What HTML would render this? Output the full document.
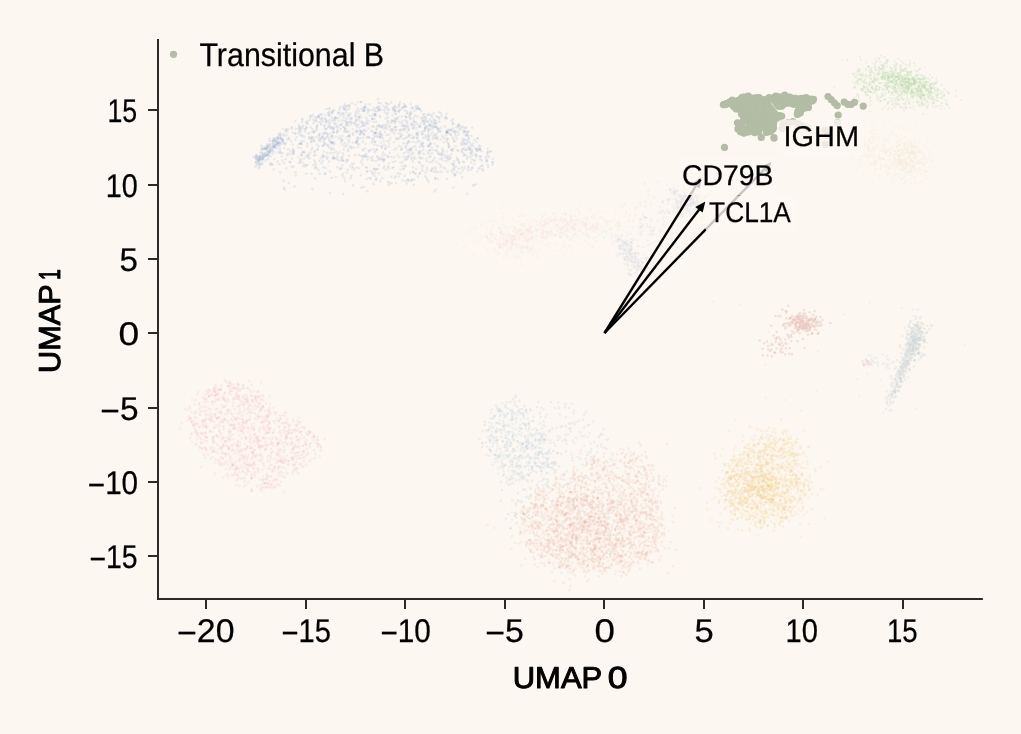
<!DOCTYPE html>
<html lang="en"><head><meta charset="utf-8"><title>UMAP – Transitional B</title>
<style>html,body{margin:0;padding:0;background:#fcf8f1;overflow:hidden}svg{display:block}text{font-family:'Liberation Sans', sans-serif;fill:#000;text-rendering:geometricPrecision;stroke:#000;stroke-width:.25px}</style></head><body>
<svg width="1021" height="734" viewBox="0 0 1021 734">
<rect width="1021" height="734" fill="#fcf8f1"/>
<g fill="none" stroke="#6f93cc" stroke-opacity="0.15" stroke-width="2.60" stroke-linecap="round">
<path d="M357.9 147.1h.01M383.4 105.9h.01M369.6 115.7h.01M428.8 153.6h.01M288.8 182.8h.01M324.9 138.6h.01M364 130.5h.01M309 137.4h.01M270.5 156.6h.01M453.4 165h.01M324.8 173.9h.01M331.7 149.5h.01M402.7 129.4h.01M422.6 121.3h.01M372.8 118.9h.01M428.5 129.5h.01M423.4 137.9h.01M259.4 155.9h.01M446.9 132.6h.01M265.7 149.5h.01M400.7 136.7h.01M399.4 138.7h.01M315.2 162.7h.01M261.3 145.8h.01M432.9 168.3h.01M444.8 138.3h.01M480.2 168.1h.01M410.2 172.6h.01M347.1 131.8h.01M462.8 126.7h.01M488.2 167.3h.01M436.8 150.4h.01M292.5 132.6h.01M321.6 114.2h.01M395.9 114h.01M335.4 117.2h.01M427.5 180h.01M406.3 106.8h.01M335.5 123.6h.01M323 133.8h.01M428.6 153.8h.01M348.1 151h.01M418.3 133.5h.01M407.9 180h.01M446.4 113.9h.01M365.1 155.8h.01M328.4 115.5h.01M419.9 109.4h.01M419.6 173.7h.01M273.9 146.7h.01M357.6 108.4h.01M422.6 143.5h.01M410 148.8h.01M287.4 139.2h.01M403.9 125.5h.01M380 133.2h.01M361.2 108.8h.01M406.4 151.9h.01M290.3 151.2h.01M262.2 158.9h.01M451.4 149.6h.01M339 113.1h.01M446.8 118.8h.01M345.9 112.5h.01M339.2 113.7h.01M400.7 109.6h.01M430.1 144.5h.01M374.9 141.9h.01M421.4 111.1h.01M299.3 163.1h.01M438.2 152.3h.01M404.6 165.5h.01M360.1 134.8h.01M376.3 178.7h.01M317.8 150h.01M417.2 138.5h.01M256.7 156.1h.01M413 172.1h.01M385.7 118.5h.01M429.8 150.3h.01M295.4 134h.01M487.1 160.2h.01M327.9 145.6h.01M305 166.5h.01M299.9 143.5h.01M263.5 156.5h.01M292.1 154.3h.01M279.2 146.3h.01M426.9 170h.01M441.9 158.2h.01M396.6 130.1h.01M417.8 132.3h.01M417.3 124.5h.01M344.3 178.1h.01M376.3 132.8h.01M365.2 108.1h.01M387.9 156.6h.01M298.1 147.5h.01M307.2 143.7h.01M407.7 149.4h.01M433.4 160.1h.01M468.4 167.9h.01M367.1 119.7h.01M476.2 157.3h.01M267.3 155.2h.01M480.5 146h.01M350.4 178.3h.01M330.1 133.5h.01M492.9 158.7h.01M426.6 161.3h.01M330.7 142.1h.01M402.4 107.5h.01M281.1 142.5h.01M382.3 178.1h.01M360.3 130.5h.01M324.6 125.1h.01M349.1 108.8h.01M320.3 141.3h.01M301.5 155.1h.01M419 126.5h.01M339.5 152.4h.01M492.4 162.7h.01M423.6 153.9h.01M338.6 121h.01M385.3 148.8h.01M278.5 138.7h.01M363 125.9h.01M336.9 132.7h.01M364.3 134.9h.01M393.9 142.3h.01M356.2 119.6h.01M475.5 155.6h.01M372.3 139h.01M447 179h.01M468.4 131.1h.01M306.7 127.1h.01M312.3 148h.01M359.3 120.6h.01M400.6 169.6h.01M284.1 187.8h.01M343.4 114.9h.01M429.5 157.2h.01M344.4 131.7h.01M355.9 115.8h.01M257.8 158.7h.01M349 122.3h.01M438.4 172.2h.01M416.3 108.6h.01M345.2 128.3h.01M405.8 129h.01M338.4 113.2h.01M396.1 120.8h.01M458.7 132.2h.01M455.8 166.8h.01M453 119.2h.01M459.3 163.1h.01M304.5 152h.01M259.1 158.7h.01M469.6 148.6h.01M414.2 157h.01"/>
<path d="M345.8 120.8h.01M431.6 127.3h.01M422.5 170.9h.01M323.1 121.5h.01M442.5 154h.01M290.4 162.5h.01M367.7 156.3h.01M434.5 158h.01M418 176.4h.01M430 162.1h.01M263.9 148h.01M356.3 142.8h.01M330.6 137h.01M381.8 159.4h.01M447.2 139h.01M337.8 159.5h.01M280.4 172.3h.01M322 118.4h.01M348.9 156h.01M328.4 125.8h.01M333.3 128.6h.01M437.4 117h.01M274.7 152.3h.01M364.9 110.7h.01M311.6 149.7h.01M450 159.1h.01M294.4 186.6h.01M273.2 144.5h.01M364.6 157.3h.01M467.1 193.8h.01M436.2 138.3h.01M461.7 126.9h.01M354.4 123.3h.01M387.2 109.6h.01M266.6 146.5h.01M417.8 106.5h.01M311.4 116.5h.01M351.5 147h.01M345 131.5h.01M428 130.7h.01M377.4 136.9h.01M477.1 138.3h.01M425.8 137.2h.01M472.3 152.8h.01M379.8 137.6h.01M280.1 135.6h.01M266.9 154.9h.01M428.4 128.6h.01M308.2 153.9h.01M255.6 157.1h.01M375.4 132.8h.01M330 108.3h.01M375.6 115.7h.01M403.6 143.3h.01M289 137.7h.01M349.5 118h.01M332.8 119.1h.01M270.5 163.4h.01M312.9 115.3h.01M299.8 161.8h.01M450.9 130.3h.01M265.2 153.3h.01M364.3 129.9h.01M352.7 133h.01M309.8 119.8h.01M430.2 143.7h.01M351.4 118.6h.01M335.8 177h.01M326 122.5h.01M347.8 169.7h.01M404.4 106.7h.01M485.5 157.9h.01M422.7 120.5h.01M350.5 113.5h.01M301.8 122.1h.01M431.6 170.4h.01M410.2 114h.01M472.4 167.4h.01M439.5 154.4h.01M425.8 117.4h.01M407.8 179.9h.01M447.5 155.8h.01M352.4 122.9h.01M439 118.6h.01M399.5 157h.01M451.8 163.9h.01M382.4 146.1h.01M275.3 141h.01M409 129.5h.01M372.3 119.3h.01M274 147.2h.01M453.6 165.3h.01M446 132.5h.01M373.3 160.4h.01M441.2 171.7h.01M319.9 134h.01M284.7 189.5h.01M266.8 148.6h.01M332.8 137.9h.01M426.1 126.6h.01M327.5 134h.01M384.2 129h.01M364.5 107.1h.01M272.6 151.1h.01M282.7 128.8h.01M304.7 129h.01M380.8 131.4h.01M266.5 148.4h.01M474 185.3h.01M280.6 133.9h.01M457.8 125h.01M437.4 145.7h.01M302.5 120.1h.01M385.2 124.8h.01M475.3 154.6h.01M331 127.1h.01M379.4 110.7h.01M435 127h.01M393.4 108.6h.01M420.2 126.4h.01M418.9 109h.01M285.9 129.6h.01M446 135.3h.01M320.8 157.9h.01M375.9 179.9h.01M421.2 151.5h.01M451.6 120.9h.01M411.6 180.5h.01M329.8 127.2h.01M461.8 150h.01M346.2 107.3h.01M415.4 146.4h.01M268.6 152.5h.01M379.1 173.6h.01M258.8 168.1h.01M417.4 116.6h.01M376.9 169.2h.01M382.9 125.2h.01M261.5 164.1h.01M477.1 150.1h.01M323.1 155.6h.01M399.3 146h.01M329.6 140.9h.01M334.3 119.6h.01M473.3 143.6h.01M387.5 124.1h.01M428.2 145.9h.01M389.1 140.4h.01M317 144.6h.01M429.7 119.3h.01M261.4 149.8h.01M299.4 131.7h.01M423.4 131.9h.01M309 155.1h.01M282.3 140.5h.01M439.9 159h.01M259.9 158.2h.01M273 141.2h.01M447.9 142.8h.01M333.4 158.2h.01"/>
<path d="M444.8 118.2h.01M280.2 153h.01M329.8 123.3h.01M433.6 119.4h.01M304.1 164.5h.01M330.5 113.8h.01M473.5 160h.01M442.5 148.5h.01M449.6 156.5h.01M332.2 142h.01M269 155.9h.01M448.8 129.8h.01M342.7 160.9h.01M437.8 179h.01M441.2 127.8h.01M329.8 125h.01M279.1 143.5h.01M457.4 171.9h.01M401.6 147.3h.01M337.5 131.4h.01M339.1 160.8h.01M377.7 157.5h.01M440.6 154.7h.01M406 146.1h.01M453.2 139.1h.01M313.2 137h.01M443.9 142.2h.01M299.1 144h.01M377.5 169h.01M411.9 179.4h.01M431.2 171.2h.01M480 149.5h.01M367 171.6h.01M317.7 148.7h.01M357 138.1h.01M314.1 155.7h.01M379.5 109.6h.01M363.9 110.6h.01M260.1 152.8h.01M314.9 151h.01M325.5 173.5h.01M360.9 132.1h.01M357 125.1h.01M366.3 153.8h.01M347 122.7h.01M352.6 142.5h.01M387.9 117.6h.01M381.6 109.7h.01M462.5 141.8h.01M381.7 127.4h.01M470.4 148h.01M413 152.5h.01M401.9 166h.01M319.4 160.9h.01M341.8 139.8h.01M408.7 136.8h.01M342.3 136.1h.01M428.4 132.9h.01M358 144.4h.01M301.8 152.9h.01M448.7 144.2h.01M325.2 156.8h.01M388.2 166.4h.01M277.9 142.7h.01M333 132.1h.01M470.4 145.9h.01M351.3 121.9h.01M380.6 103.3h.01M408.2 126.9h.01M468.9 138.9h.01M275.7 139.9h.01M286.7 135.5h.01M316 137.1h.01M440 131.7h.01M322.4 136.6h.01M282.9 141.1h.01M414.3 121.3h.01M428.1 136.3h.01M446.2 117.5h.01M301.9 136.1h.01M405.3 120.2h.01M487.8 152.1h.01M405.1 116.2h.01M453.1 128.5h.01M361 175.3h.01M343 154.8h.01M466.1 144.2h.01M334.1 144.6h.01M334.5 142.9h.01M436.5 126.9h.01M316.9 128.9h.01M358.8 168.3h.01M422.3 168.3h.01M293.4 151.6h.01M409.8 118.2h.01M270.1 164.4h.01M289.2 139.2h.01M431.9 122.4h.01M295.7 175.6h.01M447.7 171.4h.01M464.4 131.5h.01M374.9 111.1h.01M447.2 151.5h.01M373.6 114.6h.01M328.5 113.3h.01M463 149.3h.01M355.9 124.7h.01M261.7 148.1h.01M357 141.9h.01M342.9 153.3h.01M264.9 153.9h.01M291.7 166.4h.01M353 134.9h.01M335.1 118.2h.01M382.5 138.3h.01M331.9 135.7h.01M451.5 171.1h.01M414.3 110.9h.01M339.7 109.4h.01M400.5 162.7h.01M465.7 134.6h.01M406.9 144.4h.01M426.8 178.1h.01M283.5 134.1h.01M347.7 116h.01M332.8 127.3h.01M311.9 131.8h.01M395 123.3h.01M302.1 119h.01M467 159.1h.01M372.5 141h.01M427.6 138.6h.01M408 141.9h.01M474.4 139.9h.01M417 134.6h.01M454.3 170.1h.01M300.3 127.7h.01M456.7 127.3h.01M358.9 118.4h.01M425.1 121.7h.01M332.7 112.3h.01M453.8 141.4h.01M422.6 118.4h.01M419.8 153.6h.01M343.1 126.8h.01M379.2 126.6h.01M363.8 187h.01M472.1 150.6h.01M407.3 144.2h.01M362.5 159.5h.01M291.8 127.1h.01M283.4 141.3h.01M431 125.8h.01M373.6 110.2h.01M329.4 111.4h.01M317 126h.01M394.1 157.2h.01M408.7 135h.01M258.4 160.4h.01M356.5 131.1h.01"/>
<path d="M384.2 144.4h.01M383.7 161.4h.01M419.7 162.9h.01M406.4 117.4h.01M326.5 121.2h.01M454.6 175.8h.01M467.9 132.2h.01M388.5 104.3h.01M385.5 127.6h.01M453.4 163.3h.01M468.4 142h.01M366.1 117.6h.01M325.1 144h.01M337.8 130.5h.01M448.9 145.5h.01M373.6 168.9h.01M333.3 153h.01M265.1 148.6h.01M280.7 138.3h.01M473.4 146.3h.01M428.6 135.2h.01M309.3 138.8h.01M312.1 138.1h.01M365.5 104.6h.01M474.3 164.1h.01M385.2 154.8h.01M292.9 149h.01M411 118.8h.01M354.2 169.6h.01M413.4 171.5h.01M375.1 113.9h.01M261.9 152.6h.01M341 138.4h.01M269.8 141h.01M417.1 137.7h.01M358.4 124.5h.01M331.3 147.9h.01M348 139.8h.01M344.8 104.6h.01M299.6 128.7h.01M291.3 141.4h.01M326.2 129h.01M419.3 151.5h.01M276.3 144.5h.01M422.6 134.2h.01M349.6 137.1h.01M263.7 158.1h.01M475.3 148.8h.01M367.8 136.8h.01M481.7 151.2h.01M307.9 121.3h.01M439.3 121.7h.01M465.7 139.7h.01M382.2 134.7h.01M458.1 126.1h.01M265.3 155.1h.01M416.3 142.6h.01M432.7 128.4h.01M261.8 149.6h.01M458.4 135h.01M339.7 169.6h.01M392.5 115.3h.01M307.4 146.4h.01M296.5 137.2h.01M455 134.1h.01M260.6 156h.01M286.4 129.7h.01M258.7 160.6h.01M274.6 140.4h.01M275 145.4h.01M277.1 142.4h.01M357.6 140h.01M402.5 180.2h.01M465.5 150.1h.01M300.2 160.2h.01M402.1 135.3h.01M267.2 144.2h.01M461.8 167.8h.01M384.3 109.9h.01M315.9 167h.01M360.5 138.1h.01M320.8 138.3h.01M256 162.4h.01M313.4 119.6h.01M368.4 110.3h.01M395.9 126.7h.01M391.4 176.8h.01M413.4 128.8h.01M331.6 177.8h.01M282.9 139.8h.01M380.7 146h.01M378.1 108.6h.01M269.6 150.1h.01M434.3 123.4h.01M482.6 165.8h.01M349.1 140.3h.01M411 112.9h.01M339.4 136.3h.01M362.4 164.2h.01M373.9 126.8h.01M363.1 125.5h.01M374.8 118.8h.01M314.5 132.1h.01M379 106.7h.01M404.2 128.3h.01M337.2 131.2h.01M352.7 166.8h.01M460.7 129.4h.01M299.3 125.2h.01M435.4 178.4h.01M319.1 115.1h.01M398.4 107.3h.01M364.6 107.5h.01M411.6 148.3h.01M314 141.5h.01M371.7 142.8h.01M380.6 135.3h.01M362.2 156.1h.01M331.6 142.6h.01M403 125.5h.01M267.9 151.4h.01M394.8 118.5h.01M342.4 144.4h.01M437.6 136.7h.01M320.9 114.6h.01M271.6 150.4h.01M400.3 129.9h.01M324.2 126.6h.01M385.8 169.7h.01M398.7 176.5h.01M340.7 115.5h.01M277.9 143.9h.01M436.1 126.9h.01M419.7 141.2h.01M344.4 109.6h.01M425.4 128.7h.01M353 185.5h.01M424.5 120.4h.01M437 128.6h.01M263 157.3h.01M293.9 151.8h.01M332 112.3h.01M430.1 114.1h.01M398.9 104.9h.01M384.7 112.2h.01M436.5 137.7h.01M353.7 163.7h.01M363.2 107.5h.01M408.9 152.9h.01M457.9 150.9h.01M458 159.9h.01M320.8 123.2h.01M356.9 141.1h.01M285.7 143.3h.01M447.3 157.3h.01M335.9 136.7h.01M337.5 156.6h.01M327 158.9h.01M295.8 128.7h.01M386.9 128.8h.01"/>
<path d="M398.7 133.2h.01M301.4 141.2h.01M355.8 121.4h.01M307.8 123.6h.01M463.1 129.7h.01M334 158.4h.01M400.6 136.4h.01M403.5 104.1h.01M440.6 139.7h.01M406.2 116.8h.01M347.1 144.7h.01M362.7 110.9h.01M392.7 130.7h.01M314.5 152.2h.01M431.4 115.8h.01M445.1 157.8h.01M383.9 141h.01M401.6 123.1h.01M395.6 110.7h.01M279.2 142.7h.01M395.1 130h.01M404.8 159.6h.01M465.8 135.8h.01M341.3 160.2h.01M416 150h.01M287.2 155.6h.01M399.7 110.3h.01M394.8 177.9h.01M341 141.9h.01M313.4 123.1h.01M273.7 169.5h.01M403.7 153.3h.01M344.3 126.9h.01M315.2 178.5h.01M333.5 156.5h.01M343.8 107.9h.01M468.3 166.6h.01M406.9 111h.01M402.3 120.9h.01M425.6 119.4h.01M432.3 132.3h.01M329.4 115.6h.01M428.5 139.5h.01M463.1 161.8h.01M454.4 161.1h.01M274.9 144.4h.01M478.9 145.6h.01M295.1 121.1h.01M467.9 136.5h.01M306.2 173.8h.01M372.5 156.9h.01M308.1 157.5h.01M415 158.8h.01M393.2 129.6h.01M301 134.1h.01M479.6 148.2h.01M295.1 133h.01M274 144h.01M436.1 121.1h.01M355.7 142.9h.01M266.1 148.7h.01M447 132.2h.01M451.7 150.1h.01M348.9 142.2h.01M412.7 127.9h.01M481.4 165.7h.01M394.5 133.4h.01M404 106.9h.01M316.5 117.6h.01M284.1 163.1h.01M465.9 127.5h.01M346.8 172.6h.01M269.7 144.1h.01M404.8 104.7h.01M378.7 165.1h.01M425.3 117.3h.01M267.2 145.2h.01M450.6 134.6h.01M363.5 150.4h.01M392.9 108.4h.01M274.7 147.1h.01M425.4 127h.01M489 156.6h.01M256.3 155.2h.01M305.4 129.6h.01M261.6 157.7h.01M347 105.7h.01M378.7 125.1h.01M471.2 136h.01M267.1 155.2h.01M405.2 125.6h.01M354.8 123h.01M435.3 167h.01M389.4 127.1h.01M404.1 168.4h.01M470.6 170h.01M379.7 136.2h.01M374.9 141.9h.01M416.7 109.1h.01M356.5 167.5h.01M490.4 151.8h.01M414.9 115.9h.01M468.7 138.2h.01M301.7 155.3h.01M388.9 134.6h.01M361.9 131.9h.01M418.5 153.8h.01M454.5 141.2h.01M271.7 165h.01M284.2 135.6h.01M479.4 148.6h.01M280.5 138.2h.01M255.7 156.4h.01M431.7 153.4h.01M388.9 146.8h.01M313.9 131h.01M346.5 118.6h.01M474.9 161h.01M333.1 110.1h.01M396.4 118.7h.01M285 144.5h.01M463 152.8h.01M435.9 135.8h.01M443.4 151.6h.01M326.3 132.6h.01M346.9 123.9h.01M258.9 163.8h.01M330.9 143.6h.01M318.8 140.3h.01M340.7 128.9h.01M313.3 140.5h.01M341.7 113.3h.01M307.4 165.1h.01M408.8 140.9h.01M294.2 153.8h.01M429.3 136.7h.01M349 135.6h.01M359.6 131.3h.01M428.2 146.3h.01M391.6 129.6h.01M432.7 139h.01M343.7 149.5h.01M322.9 118.4h.01M355.3 132.1h.01M264.8 156.6h.01M346.5 145.8h.01M260.1 157.1h.01M367.5 171.3h.01M305.8 121.8h.01M391.3 156.8h.01M303.7 141.1h.01M380.2 180.9h.01M452.5 137.2h.01M359.1 128.1h.01M448.8 147.5h.01M362.9 133.6h.01M471.9 168.2h.01M292.9 144.8h.01M401.6 116.6h.01M463.3 140.6h.01"/>
<path d="M412.8 107.9h.01M410.5 112h.01M451.8 130.9h.01M442.1 135.7h.01M453.6 187.5h.01M410.9 149.8h.01M455.2 174.5h.01M376.7 129.7h.01M346.4 125.2h.01M361 102h.01M301 129.8h.01M308.1 133.6h.01M442.2 155.5h.01M410.9 155h.01M332 121.1h.01M392.8 162h.01M303.2 125.9h.01M327.8 134.6h.01M263 149.3h.01M291.9 158.5h.01M303.3 135.9h.01M450.8 134.7h.01M406.3 159.4h.01M421.8 144.8h.01M461.1 143.5h.01M344 121h.01M272.8 154.2h.01M467.5 141h.01M345.6 109.8h.01M301.7 143.7h.01M414.1 179.7h.01M366.4 167.1h.01M389.1 163.1h.01M374.8 115.6h.01M471.3 150.8h.01M456 136.1h.01M374.6 133.3h.01M360.9 156.2h.01M438.7 130.2h.01M342.8 160h.01M282.2 160.6h.01M400.1 174h.01M351.5 148.2h.01M344.7 129.6h.01M480.8 156.5h.01M273.7 143.2h.01M423.3 165.6h.01M452.9 124.1h.01M373.5 122.1h.01M325 115.3h.01M311.5 173.7h.01M268 146.6h.01M469.8 157h.01M259.4 159.9h.01M405.8 126.8h.01M487.8 149.1h.01M413.2 141.8h.01M465.2 131h.01M318.4 117.1h.01M330.9 128.4h.01M315.2 117h.01M415.7 106.4h.01M367.3 123h.01M256.9 160.9h.01M326.3 137h.01M347 109.8h.01M356.8 130.7h.01M367.3 191.2h.01M267.5 151.3h.01M440.3 131.1h.01M295.6 172.1h.01M418.8 162.1h.01M269.7 147h.01M433.2 136.8h.01M393.9 109.2h.01M358.2 113.1h.01M334 129.5h.01M338.4 118h.01M408.6 129.8h.01M413.5 146.9h.01M404.7 175.9h.01M436.3 171.4h.01M306.4 128h.01M438.6 163.8h.01M477.8 148.5h.01M374.5 169.2h.01M405.3 106.4h.01M451.1 129.6h.01M275.4 140.9h.01M375.2 114.9h.01M419.8 157.4h.01M321.5 163.3h.01M482.9 170.5h.01M373.5 138.7h.01M265.4 161h.01M401.2 149.5h.01M369.1 137.2h.01M439.5 129.8h.01M379.2 159.5h.01M419.9 173.1h.01M386.5 113.9h.01M372.3 172.9h.01M269.5 139.1h.01M269.1 145.5h.01M279.7 151.1h.01M406.7 137.3h.01M457.6 150h.01M341.4 157.6h.01M298.5 129.1h.01M439.3 112h.01M387.5 114.5h.01M389.5 182.8h.01M432.8 150.1h.01M295.2 139.8h.01M326.5 120.9h.01M457.4 159.7h.01M429.3 145.6h.01M369.1 151.4h.01M267.9 158.9h.01M440.5 167h.01M304.1 137.1h.01M402.6 108.2h.01M453.2 124h.01M309.1 133.4h.01M447.4 158.2h.01M411.5 157.9h.01M429.3 125.2h.01M377 126h.01M327.3 152.8h.01M362.8 141.5h.01M333.3 132.6h.01M352.4 168.3h.01M366.6 179h.01M266.6 148.2h.01M279.5 141.4h.01M405.3 181.1h.01M441.8 115.6h.01M377.5 145.6h.01M421.6 165.6h.01M349.4 115.6h.01M389 109.6h.01M358.2 112.2h.01M346.9 137h.01M361.8 122.4h.01M459.5 125.9h.01M431.3 134.6h.01M384.3 159.1h.01M480.1 150.3h.01M329.1 161.6h.01M324.7 128.7h.01M342.3 175.8h.01M278.6 135.1h.01M277.5 142.4h.01M337.2 125.6h.01M427.6 121.3h.01M369.4 178h.01M328.6 127h.01M299.9 135.2h.01M262.3 163.6h.01M265.7 160.2h.01"/>
<path d="M325.3 118.7h.01M385.8 102.7h.01M455.6 146.2h.01M427.7 114.7h.01M336.1 151.8h.01M384.2 159.7h.01M380.4 137.1h.01M346.6 122.5h.01M398.5 116.7h.01M467 134.9h.01M421.6 131.8h.01M342.8 106.7h.01M463.3 132.4h.01M259.4 166.9h.01M359.1 117.3h.01M424.5 114.4h.01M301 144.1h.01M303 151.7h.01M465.2 128.2h.01M342.4 140.4h.01M316.5 127.3h.01M440.8 113.1h.01M253.4 157h.01M347.3 160.1h.01M348.6 114.5h.01M440.7 165.2h.01M262.3 155.2h.01M365.3 123.8h.01M302.7 166.3h.01M306.6 123.6h.01M400 102.3h.01M328.4 113.4h.01M329.9 171.5h.01M382.1 136.8h.01M291.8 128.6h.01M351.8 163.9h.01M394.2 127.2h.01M348.5 105.4h.01M327.9 137.1h.01M311 141.2h.01M412.3 153.7h.01M388 181.9h.01M425.8 135.4h.01M259.9 165h.01M323.9 151.4h.01M386 126.9h.01M460.4 173.2h.01M276.7 144.6h.01M346.1 123.9h.01M341.8 168.5h.01M420.9 143.9h.01M382.7 155.6h.01M417 134.1h.01M277.3 148.5h.01M322.7 145.8h.01M255.2 166.4h.01M407.1 112.9h.01M427 167.7h.01M262.8 157.3h.01M276 142.4h.01M314.9 167.9h.01M281.1 152.6h.01M376.5 111.5h.01M256.1 162.6h.01M318.5 137.7h.01M409.1 150.4h.01M430 125.2h.01M323.1 167.2h.01M378.6 102.8h.01M289.2 153.9h.01M340.4 125.1h.01M385.1 132h.01M322.7 136.7h.01M287.5 153.8h.01M330.3 152.9h.01M394.7 110.6h.01M316.9 168.7h.01M458.8 168.7h.01M402.8 161.9h.01M445 126.4h.01M272.3 164h.01M332.8 128.5h.01M438.3 128.8h.01M470.1 143.3h.01M366.5 156.7h.01M286.3 168.2h.01M280.1 148.8h.01M365.2 106.8h.01M345 181.3h.01M332.2 135.7h.01M322.9 155.9h.01M413.6 118.2h.01M302.1 127.2h.01M368.2 111h.01M367.5 159.5h.01M355.6 113.4h.01M478 138.2h.01M357.5 132.8h.01M391.3 102.6h.01M413.8 137.4h.01M397.2 155h.01M334.5 120.6h.01M414.7 173.2h.01M360 134.1h.01M302.4 127.9h.01M324.3 132.7h.01M371.9 115.8h.01M466.6 149.9h.01M289.5 161.7h.01M270 151h.01M447.9 132.7h.01M455.4 131.3h.01M336.7 118.2h.01M337.5 154.1h.01M390.5 138.1h.01M328.9 139.4h.01M396.5 148h.01M302.3 162.4h.01M392.3 168.3h.01M374.8 137h.01M378 98.8h.01M477.3 171.5h.01M435.7 150.5h.01M476 149h.01M258 157.3h.01M420.4 123.7h.01M374.8 114.4h.01M313.3 165h.01M405.4 147.4h.01M414.2 136.4h.01M263.4 155.9h.01M398 138.6h.01M262.5 160.6h.01M371.3 130.8h.01M256.1 166.1h.01M398.6 111.3h.01M428.8 181.9h.01M424.6 124.4h.01M281.9 139.6h.01M327.4 144.7h.01M266.1 152.5h.01M461.4 151.8h.01M396.5 138.4h.01M273.5 140.2h.01M275.5 138h.01M367.7 108.9h.01M385.3 107.5h.01M266.1 155.8h.01M334.2 123.7h.01M350.1 146.3h.01M299.9 131h.01M258.5 160.8h.01M478.6 168.4h.01M356.8 126.6h.01M393.6 110.7h.01M463.6 143.1h.01M315.2 155h.01M435.2 178.2h.01M366 131.1h.01M355.4 116.2h.01"/>
<path d="M487.1 153.9h.01M363.5 110.4h.01M256.5 155h.01M448.6 159h.01M465.5 155.3h.01M312.5 188.9h.01M271.5 152.2h.01M315.9 164.6h.01M329.9 192.9h.01M361.3 131.4h.01M397.1 118.5h.01M468.1 135h.01M258.8 157h.01M281.1 144.5h.01M386.7 106.9h.01M454.5 131.2h.01M260.3 156.6h.01M411.7 138.1h.01M479.8 149h.01M361.1 117.3h.01M398 173.3h.01M411.1 124.4h.01M274.8 147.8h.01M486.4 160.3h.01M422 134.2h.01M340.6 168.1h.01M381.1 142.8h.01M424.8 130.8h.01M324.8 133.5h.01M380.1 117.1h.01M411.2 135.1h.01M407 125.7h.01M406.9 183.4h.01M400.9 133.6h.01M420 146.9h.01M277.4 144.2h.01M318.9 134.8h.01M410.7 104.2h.01M425.2 176.4h.01M430.1 129.8h.01M369.5 137.8h.01M335.4 117.7h.01M487.7 165.1h.01M275.7 145.2h.01M363.1 137.8h.01M392 121.1h.01M443.2 167.2h.01M322.9 138.8h.01M285.6 131.6h.01M463.9 145h.01M388.7 168.4h.01M306 165.4h.01M369.4 121.2h.01M409.2 135.4h.01M323 145.8h.01M417.8 107.8h.01M409.4 116.5h.01M319.6 173.7h.01M378.6 106.9h.01M350.7 119.5h.01M403.8 130.3h.01M481.9 160.5h.01M277.9 142.9h.01M365 126h.01M376.4 128.6h.01M430.4 156.2h.01M342.2 165.2h.01M472 155.6h.01M307.8 156.2h.01M329 147.4h.01M343 173.9h.01M334.3 157.9h.01M377.5 107.1h.01M370.9 150h.01M278 137.4h.01M375.5 150.6h.01M420.5 158.3h.01M461.6 144.7h.01M348.3 135.7h.01M260.6 158.8h.01M361 161.9h.01M452.4 150.8h.01M279.6 133.6h.01M365.2 148.5h.01M453.2 173.1h.01M361.1 102h.01M300.9 143.2h.01M292.8 152.9h.01M258.5 162.5h.01M471.1 162.5h.01M463.4 155.6h.01M262.9 154.1h.01M376.6 135.9h.01M361.1 132.8h.01M311.2 138.8h.01M272.4 149.1h.01M403.3 169.3h.01M277 145.2h.01M394.5 107h.01M374.4 144.7h.01M288.4 149.4h.01M361.3 187.8h.01M418 135.7h.01M268.5 147.9h.01M409.7 180.7h.01M281.7 156.2h.01M446.9 130.6h.01M268.2 154.3h.01M398.8 111.5h.01M345 143.1h.01M492.6 164.7h.01M407.2 158.6h.01M255.9 158.3h.01M471.6 145.1h.01M372.3 126.4h.01M283 142.2h.01M341.9 124h.01M416.2 128.5h.01M327.5 156.9h.01M379.7 115.9h.01M314.1 140h.01M387.2 141.4h.01M438 131.6h.01M262.8 159.1h.01M298.3 157.5h.01M365.5 144h.01M310.9 136.7h.01M345.3 106.1h.01M272.1 147.3h.01M369.5 104.3h.01M375.4 169.3h.01M376.6 149.9h.01M368.6 150.4h.01M407.1 123h.01M372.6 131.6h.01M413 167.2h.01M453 123.1h.01M351.6 118.1h.01M310.6 127.5h.01M258.8 159.7h.01M427.7 151.5h.01M265.2 155.7h.01M392 132.3h.01M379.2 108.7h.01M284.1 148h.01M315.1 121.2h.01M388 112.6h.01M270 148.3h.01M273.3 146.7h.01M326.6 128.5h.01M321.8 138.1h.01M451 154.2h.01M343.9 117.6h.01M257.1 164.5h.01M422.8 142.6h.01M468.9 149h.01M475.7 184.2h.01M337.3 167h.01M371 110.1h.01M316.1 130.2h.01"/>
<path d="M413.8 137.8h.01M409.9 115.4h.01M359.1 144.2h.01M299 126.9h.01M306.7 155.7h.01M433.7 126.8h.01M376 108.1h.01M476.8 155.6h.01M348 125.7h.01M448.5 132.9h.01M380.9 157.5h.01M375.1 133.3h.01M349.7 105.5h.01M271.4 148.9h.01M383.2 152.6h.01M376.2 121.7h.01M368 124.2h.01M408.7 156.3h.01M377 149.8h.01M280.3 138h.01M410.8 114.3h.01M428.9 140.4h.01M318.8 170.3h.01M436.8 116.3h.01M434.2 172h.01M405.4 138.2h.01M305 131.6h.01M431.5 147.9h.01M429.3 124.1h.01M394.2 120.8h.01M274.3 159h.01M324.3 143.1h.01M423.3 117.4h.01M383.6 168.1h.01M341.9 120.2h.01M284 143.3h.01M419.7 126.7h.01M272.5 141.2h.01M418.1 141.1h.01M332.8 142.7h.01M436.4 161.9h.01M490.8 151.3h.01M407.1 132.3h.01M400.2 130.4h.01M259.4 164.4h.01M464.4 168.2h.01M298.4 133.2h.01M300.9 148.1h.01M431.6 168.9h.01M487.9 152.3h.01M329.4 119.9h.01M277.8 138.8h.01M407.8 113.8h.01M360.9 126.7h.01M423.4 122.3h.01M470.3 153.1h.01M466.8 143.7h.01M389.8 125.7h.01M438.4 128.6h.01M358.2 139.1h.01M418.8 152h.01M350 166.2h.01M446.7 132h.01M355.9 111.2h.01M273.1 146.5h.01M314.6 160.6h.01M476.5 141.7h.01M411.9 108.4h.01M336.1 158.6h.01M363.6 109h.01M267.1 148.1h.01M332.8 158.2h.01M285.7 159.2h.01M454.4 167.7h.01M321.2 124.4h.01M316.9 125.3h.01M464.7 166.8h.01M416.1 168.9h.01M264.2 149.1h.01M264.4 147.1h.01M371 171.1h.01M395.6 176.2h.01M269.9 152.3h.01M347.3 131.6h.01M476.6 150.4h.01M414.2 126.4h.01M324.5 144.7h.01M373.5 149h.01M378.7 159h.01M427.3 122h.01M349.2 105.6h.01M267.4 146.8h.01M412.2 123.4h.01M366.6 137.7h.01M395.2 113.2h.01M464.2 139.4h.01M287.3 131.6h.01M437.3 146.8h.01M423.9 123.5h.01M358.7 110.5h.01M381.9 148.1h.01M262.6 153.5h.01M472.2 127.8h.01M391.4 183.2h.01M261.1 159.4h.01M380.5 158.6h.01M358 137.3h.01M394.7 149.8h.01M301.4 159.3h.01M262.9 153.1h.01M411.9 125.1h.01M432.3 124.8h.01M445.2 161h.01M426.2 158.7h.01M267.1 147.1h.01M349.8 106.5h.01M442.8 137.5h.01M427.6 126.3h.01M352.2 103.2h.01M459.1 162.1h.01M325.6 119.4h.01M434.9 134.5h.01M388.9 185h.01M264.5 148.9h.01M333.9 149.3h.01M349.7 122.3h.01M469.8 149.9h.01M335.4 126.6h.01M331.6 117.5h.01M260.5 162h.01M325 139h.01M410.8 150.4h.01M404.8 110.7h.01M436.2 133.9h.01M403.7 156.7h.01M423.2 149.9h.01M395.1 161.2h.01M348.9 131.1h.01M413.5 121.8h.01M463.9 148.3h.01M310.3 115.3h.01M423.3 146.8h.01M462.7 138.5h.01M389.8 153.1h.01M391.7 120.5h.01M269.6 146h.01M321.2 120.7h.01M356.3 141.4h.01M387.6 120.9h.01M391.2 122.8h.01M416.1 122.4h.01M435.8 189.6h.01M381.5 126.5h.01M446.5 141.1h.01M449 146.8h.01M277.6 138.1h.01M413.7 184.9h.01M372.1 118.5h.01M390.2 130h.01M465 143h.01"/>
<path d="M419.5 108.9h.01M386.6 135.2h.01M332.7 143h.01M425.2 127.9h.01M434.4 191.5h.01M434.1 126h.01M467 132.2h.01M334.4 110.5h.01M340.6 124.7h.01M432.3 116.9h.01M393.2 121h.01M349.8 134.9h.01M269.9 150.1h.01M344.3 161h.01M279.3 164.2h.01M467.8 147.4h.01M271.3 144.3h.01M430 150.3h.01M395.3 110.9h.01M386.8 104.1h.01M395.9 183h.01M451 157.8h.01M453.9 131.9h.01M421 118.3h.01M486.6 161.6h.01M389.2 143.8h.01M393.4 167.3h.01M394.8 105.9h.01M416.3 133.4h.01M288.1 129h.01M380.8 134.3h.01M432.3 161.8h.01M403.3 139h.01M422.3 158h.01M364.2 123.2h.01M373.6 183.9h.01M376.1 161h.01M462.5 170.6h.01M401.9 125.7h.01M366.6 121.6h.01M312.6 128.8h.01M328.7 108.9h.01M487.1 156.5h.01M315.9 119.8h.01M338.2 127h.01M477.7 151h.01M283.8 180.9h.01M414.4 124.6h.01M293.3 150.3h.01M482.4 169.4h.01M257.3 158.6h.01M465.6 132.1h.01M323.8 141.1h.01M279.3 143.9h.01M459.1 128.7h.01M392 129.3h.01M311.9 138h.01M462.3 177.2h.01M447.9 139h.01M304.3 158.4h.01M363.4 156.5h.01M383 159.3h.01M388.5 122.1h.01M269.4 153.3h.01M281 135.9h.01M445.9 117.6h.01M384.5 166.2h.01M355.3 104.7h.01M283.1 153.2h.01M323 160.8h.01M320.1 139.5h.01M447.5 160.7h.01M262.4 159h.01M347.4 160.2h.01M373.8 108.4h.01M277.5 139.7h.01M310.2 117.5h.01M464.1 162.2h.01M325.3 168h.01M361.8 121.7h.01M480.4 159.3h.01M436.1 123.6h.01M395.8 107.5h.01M358 102.3h.01M274.4 146.5h.01M374.6 152.2h.01M442.5 150.4h.01M316.3 121h.01M406.8 143h.01M433.9 135h.01M322.9 157.1h.01M346.9 161.9h.01M437.7 139.3h.01M320.3 118.6h.01M456.2 131.9h.01M435.4 168.9h.01M445.4 168.6h.01M311.2 142.1h.01M350.8 124.6h.01M479.9 156.6h.01M359.2 154.7h.01M348.1 148.9h.01M360.1 115.3h.01M273.8 139h.01M342.4 157.3h.01M313.7 132.5h.01M343.2 113.2h.01M422.6 145.8h.01M399.2 105.3h.01M293.7 166.7h.01M387.9 156.7h.01M456.6 138.8h.01M340.2 107.1h.01M370.4 157.7h.01M352.6 129.2h.01M492.7 161.7h.01M318.4 116.4h.01M455.1 174.8h.01M412.2 159.5h.01M412.9 161.7h.01M430.7 143.1h.01M309.6 158.5h.01M433.7 113.4h.01M362.1 149.5h.01M354 147.8h.01M447 131h.01M329 122.1h.01M428.2 115h.01M342 157.9h.01M405.5 166.1h.01M385.5 148.5h.01M338.7 138.7h.01M423.2 114.6h.01M459 127.9h.01M442.4 160.2h.01M344.2 108.8h.01M362.3 123.5h.01M358.7 116.8h.01M430.7 121.3h.01M449.2 130h.01M337.6 127.7h.01M368.4 128.6h.01M394.7 121.6h.01M373.1 174.5h.01M370.5 178.5h.01M473 185.5h.01M363.8 133.5h.01M470.9 153.5h.01M326.2 109h.01M367.8 113.3h.01M415.8 173.7h.01M425.7 172.6h.01M282.6 138.8h.01M343.1 194.1h.01M310.5 152.5h.01M375.2 172.4h.01M375.4 132.8h.01M272.7 146.2h.01M275.3 146.7h.01M434.5 143.6h.01"/>
<path d="M447 132.4h.01M374 135.3h.01M366.4 167.8h.01M338.3 112.5h.01M332 112.3h.01M382.6 126.8h.01M471.7 159.2h.01M344.5 146.2h.01M378.1 110.2h.01M319.3 135.6h.01M355.3 154.9h.01M364.7 155.2h.01M259.4 157.9h.01M377.2 156.2h.01M441.4 153h.01M467.5 170.1h.01M318.8 146.4h.01M277.5 137.3h.01M459.1 124.3h.01M385.9 146.2h.01M255.7 159.2h.01M375.3 176h.01M356.4 120.1h.01M409.4 142.1h.01M453.4 148.7h.01M434.2 122.1h.01M351.4 175.9h.01M371.8 159.9h.01M399.4 121.8h.01M277.6 161.5h.01M464.6 154.6h.01M438 153.7h.01M268.9 151.1h.01M396.4 138.9h.01M318.7 116.5h.01M273.7 138.8h.01M395.9 127.2h.01M457 157.9h.01M434.7 120.2h.01M434.6 138.3h.01M303.8 152.6h.01M379.8 126.1h.01M272.6 141.4h.01M406.3 156.7h.01M467.3 157.1h.01M424.9 129.1h.01M263 155.6h.01M378.8 133.8h.01M268 153.8h.01M444.8 155.1h.01M278.5 152.8h.01M452.9 168.9h.01M406.7 121.4h.01M401.7 149.6h.01M407.9 156.5h.01M345.4 129h.01M435.8 123.5h.01M333.8 132.2h.01M439.6 117.3h.01M318.7 122.2h.01"/>
</g>
<g fill="none" stroke="#ea7fa0" stroke-opacity="0.1" stroke-width="2.70" stroke-linecap="round">
<path d="M284.6 427.9h.01M217.4 418.4h.01M256.2 407.4h.01M244.3 455.9h.01M215.1 396h.01M269 416.2h.01M243.3 426.2h.01M223.2 397.9h.01M205.4 425.9h.01M272.7 451.5h.01M244.5 403.6h.01M228.8 449.2h.01M286.2 412.9h.01M199.2 426.9h.01M233.7 399.4h.01M254.7 418.6h.01M273.6 407.8h.01M288.2 432.1h.01M284.4 468h.01M254.4 423.3h.01M281.3 461.5h.01M201.1 467.1h.01M248 471.3h.01M284.5 463.2h.01M245.7 394.3h.01M260.2 449.2h.01M280.5 418.8h.01M270.9 449h.01M207.1 437.5h.01M248.5 381.1h.01M240.2 443.1h.01M226.1 453.7h.01M214.8 473.7h.01M261.1 409.3h.01M206.4 390.8h.01M258.9 445.3h.01M231.6 391.4h.01M220.2 397.4h.01M293.2 457.5h.01M209.2 396.2h.01M242.3 454.6h.01M263.3 400.4h.01M210.1 412.5h.01M215.3 398.4h.01M247.4 447.2h.01M296.4 437.5h.01M224.5 398.3h.01M215.1 414.5h.01M263.2 407.2h.01M204.4 440h.01M251.6 465.4h.01M262.4 395h.01M238.7 398.6h.01M268.3 468.4h.01M254.3 429.1h.01M240.5 403.8h.01M212 417.1h.01M258.9 444.7h.01M317.6 446.8h.01M269.9 408.1h.01M293.1 449.5h.01M229.4 389.1h.01M203.7 427h.01M222.4 437.2h.01M213.1 451.4h.01M237.8 479.2h.01M230.8 435.7h.01M273.2 468.7h.01M238.4 385h.01M248.5 471h.01M218.2 459.5h.01M259.8 431.5h.01M297.5 452.6h.01M272.3 437.5h.01M278.6 467.9h.01M233.7 429.5h.01M273.1 443h.01M234.9 396.6h.01M292.7 473.5h.01M263.2 428.3h.01M283.7 459.2h.01M285.4 460.4h.01M279.3 466.6h.01M262.4 469.9h.01M281.2 433.5h.01M254.8 413.2h.01M296.2 436.6h.01M243.1 385.6h.01M213.5 436.6h.01M267.6 410.8h.01M256.3 414.8h.01M298.2 455.9h.01M278.7 421.4h.01M293.2 421.6h.01M204.2 454.9h.01M284.8 461.5h.01M301.1 432.1h.01M275.7 478.7h.01M205.7 426.3h.01M286.4 434.3h.01M203.9 454.4h.01M306.9 434.7h.01M238.3 396.7h.01M238.9 388.8h.01M218.7 389.9h.01M224.9 393.2h.01M255 472.2h.01M239.3 458.7h.01M228.2 476.9h.01M300.8 464h.01M279.9 460.9h.01M261.5 399.6h.01M204.7 440.7h.01M223.2 445.1h.01M236.8 475h.01M234.7 408.6h.01M242.9 431.5h.01M280.8 440.3h.01M243.5 433.8h.01M269 455.8h.01M218.7 446h.01M224.9 418.8h.01M302.7 445.3h.01M208.8 397h.01M280 459.7h.01M254.5 434.5h.01M244.4 467.2h.01M239.9 391h.01M265.7 430.9h.01M277.8 443.3h.01M259.2 441.4h.01M220.3 464.9h.01M227.9 473.9h.01M251.5 429.4h.01M240.4 455.4h.01M285.5 437.7h.01M249.9 420.4h.01M263.5 419h.01M204.7 448.1h.01M303.5 452.8h.01M297.5 439.3h.01M221.1 447.9h.01M251.3 472.7h.01M221.9 422.1h.01M289 428.9h.01M312.5 437.3h.01M225 399.5h.01M214.6 387.6h.01M281.9 459.2h.01M198.2 435.9h.01M212.4 431.7h.01M219.7 431h.01M238.8 452h.01M266.3 487h.01M222.6 458.5h.01M185 408.8h.01M253.6 464h.01M298 468h.01M294.2 465h.01M293.3 419.2h.01"/>
<path d="M320 445.1h.01M231.7 424.8h.01M224.6 380.4h.01M231.3 475.7h.01M222.7 438.7h.01M240.3 388.8h.01M219.2 464.1h.01M224 419.8h.01M201.2 442.5h.01M211.9 419.6h.01M270 404h.01M265.4 421h.01M220.8 434.1h.01M263.4 425.9h.01M272 442.8h.01M240.8 430.9h.01M194.8 414h.01M259.9 461.1h.01M201.7 433h.01M257.9 396.5h.01M258.4 447.6h.01M233.1 465.4h.01M243.1 421.8h.01M213.4 447.8h.01M257.5 419.6h.01M286.7 437.3h.01M256.2 396.6h.01M245.7 400h.01M191.7 422.6h.01M247 460.8h.01M262.5 458.2h.01M245.6 401.9h.01M251.9 452.6h.01M297.1 420.5h.01M212.7 404.9h.01M218.6 417.9h.01M222.1 466h.01M199.5 446.5h.01M258.7 396.7h.01M227.6 464.6h.01M261.2 487.3h.01M273.6 459.4h.01M292.6 464.5h.01M252.2 452.3h.01M265.9 445.9h.01M282.2 462.8h.01M261.2 440.4h.01M230.2 432.2h.01M317.7 440.5h.01M194.8 432.4h.01M250.3 445.8h.01M253.6 468.1h.01M262.7 479.5h.01M276.2 412.2h.01M285.1 427.2h.01M210.5 409.3h.01M279.5 449.9h.01M242.8 402.1h.01M248.6 431.9h.01M298.6 446.2h.01M292.7 459.6h.01M235.9 428h.01M199.2 408.6h.01M265.7 427.8h.01M218.5 449.4h.01M214.2 447.7h.01M202.3 449.3h.01M238.5 423.8h.01M228.5 439.1h.01M252 400.7h.01M284.6 416.1h.01M296.3 425.7h.01M287.1 418.4h.01M302.1 455.7h.01M209.9 417.5h.01M296.2 469h.01M210.9 458.6h.01M244.1 388.2h.01M215.6 459.8h.01M242.8 385.6h.01M209.6 396.1h.01M222.8 458.5h.01M260.5 440.4h.01M221.3 462.9h.01M196.8 417.6h.01M222.8 422.1h.01M303.7 461.2h.01M242.3 397.1h.01M262.7 447h.01M226.4 401.7h.01M309.9 432.1h.01M202.3 434.1h.01M239.6 486.1h.01M221.6 414h.01M279.2 443.3h.01M254.9 398.1h.01M220.9 457.4h.01M273 445.8h.01M287.6 419.6h.01M218.5 417.1h.01M287.6 423.7h.01M265 434h.01M237.2 449.3h.01M316.2 442.9h.01M255.3 405h.01M282.5 456.6h.01M216.2 425.3h.01M219.5 422.9h.01M244.7 444.3h.01M254 441.8h.01M269.4 429h.01M238.9 450.4h.01M248.4 471.1h.01M280.6 418.1h.01M291.3 452.8h.01M209.1 415h.01M300.3 431.6h.01M259 412.9h.01M238 422.8h.01M201.1 407.5h.01M237.2 394.8h.01M273 433.1h.01M221.3 412.4h.01M298.3 421.5h.01M238.5 469.2h.01M215.5 462.8h.01M300.2 458.2h.01M267.2 473.5h.01M254.4 449.7h.01M301.9 457.8h.01M255.3 441.8h.01M241.7 458.2h.01M240.4 451.8h.01M268.8 412.8h.01M242.6 405.6h.01M206.2 449.2h.01M223 477.6h.01M251.8 385.1h.01M207.8 401.5h.01M214.1 427.6h.01M218.4 412.3h.01M254.1 463.3h.01M238.7 460.8h.01M199.5 404.7h.01M267.3 432.8h.01M215.7 409.1h.01M213.7 449.9h.01M194.8 404.6h.01M231.5 460h.01M226.1 461.7h.01M251.4 490.9h.01M283 473h.01M273.1 421h.01M214.8 391.1h.01M205 402.6h.01M247.4 387.9h.01M297.5 446.4h.01M232 462.7h.01M244.2 463.4h.01M218.5 424.8h.01"/>
<path d="M209.8 420.2h.01M276.2 439.1h.01M239.6 435.3h.01M293.7 469.3h.01M264 437.2h.01M258.8 416.8h.01M308.4 431.7h.01M257.8 443.9h.01M219.3 430.1h.01M216.2 389.5h.01M216.1 417.7h.01M252 465.2h.01M286.3 431.2h.01M233.9 474.2h.01M236.7 413.1h.01M180.2 428.6h.01M258 436.2h.01M258.9 407.1h.01M270 462.5h.01M247.3 420.5h.01M256.2 436.2h.01M238.2 406.4h.01M281 482h.01M248 427.9h.01M214.8 441.9h.01M269.8 411.9h.01M267.7 416.5h.01M216.9 435.6h.01M214.8 392.1h.01M271.2 444.2h.01M206.6 424.2h.01M228.3 431.7h.01M212.3 421.5h.01M205.8 447.8h.01M236.3 445.5h.01M288.1 464.9h.01M251 413.2h.01M256 438.7h.01M213.8 442.3h.01M218.8 430.4h.01M283.7 492.3h.01M236.4 484.8h.01M252.4 437.4h.01M253 475.7h.01M293.1 449.2h.01M275.4 485.7h.01M232.3 450.2h.01M214.3 427.6h.01M218.1 399.3h.01M238.2 446.9h.01M267.8 476.2h.01M310.9 443h.01M274.7 423.2h.01M263 486.9h.01M210.1 430.5h.01M233.4 434.7h.01M254.8 434.3h.01M205.7 426.2h.01M253.9 429.9h.01M300 464.5h.01M199 403.3h.01M280 452h.01M306.5 445h.01M215.7 394.8h.01M240.6 449.6h.01M269.5 460.5h.01M275.5 414.3h.01M233.4 416.8h.01M245 427.8h.01M217.7 394.9h.01M229.3 429h.01M257.6 438.7h.01M262.9 483.7h.01M245.8 422.7h.01M302.7 446h.01M244.7 461.9h.01M263.7 463.5h.01M227.8 410.2h.01M225.7 475.1h.01M288.8 461h.01M233.6 417.1h.01M303.9 451.2h.01M221.2 385.5h.01M263.1 396.7h.01M248.3 482.2h.01M231.3 419.4h.01M271.2 476.3h.01M258.4 472.2h.01M189.9 438.2h.01M267.1 461.4h.01M303.7 451.6h.01M243.2 459.7h.01M247.8 402h.01M207.8 454.7h.01M292.2 444.9h.01M232.2 414.3h.01M210.8 448.7h.01M235.8 398.7h.01M243.6 422.7h.01M250.1 448.5h.01M313.7 434.6h.01M266 448.4h.01M252 489.1h.01M310.4 431.9h.01M200.4 411.3h.01M241.7 438.3h.01M225.8 456.6h.01M224 406.5h.01M244.1 404.7h.01M268.9 427.9h.01M211.1 416h.01M309.4 461.1h.01M239.7 445.8h.01M253.2 402.3h.01M270.8 458.4h.01M259.1 447.2h.01M266.8 433.2h.01M261.8 446.6h.01M298.6 428.5h.01M289.3 432.7h.01M230 382.6h.01M227.9 411.2h.01M204.2 421h.01M258.8 397.4h.01M260.4 409.9h.01M248.5 466.3h.01M314.2 458h.01M286.7 438.3h.01M230.2 424.8h.01M294.2 470.3h.01M229.4 434h.01M194.5 417.2h.01M191.5 412.4h.01M274.1 412.5h.01M250 414.5h.01M237.5 417.7h.01M236.4 468.3h.01M214.4 422.2h.01M202.4 420.4h.01M236.5 419.5h.01M291.9 430.4h.01M290.1 437.8h.01M282.1 423.1h.01M242.5 455.8h.01M241.4 401.2h.01M284.4 450.2h.01M292.3 432.5h.01M239 414.1h.01M199.9 433.7h.01M314.3 436.1h.01M283.7 446.6h.01M252.7 451.8h.01M249.8 406.1h.01M238.1 474.7h.01M205.2 398.9h.01M205.9 414.2h.01M275 470.5h.01M239.5 472.2h.01M193.7 424.5h.01M306.4 464.9h.01"/>
<path d="M205.7 437.3h.01M206.3 450.2h.01M279.4 432.6h.01M212.2 395.1h.01M261.1 422.3h.01M235.2 388.5h.01M247.3 401.5h.01M220.4 411.6h.01M283 423.2h.01M283 415h.01M299.2 439.9h.01M231.4 464.6h.01M266.5 475.4h.01M205.4 421.3h.01M254.3 445.4h.01M270.8 442.1h.01M213.1 443.5h.01M209.1 408.9h.01M241.7 412.2h.01M305.9 432.6h.01M302.2 466.2h.01M225.2 441h.01M245.8 464.4h.01M191 421.5h.01M242.8 423.9h.01M313.9 450.4h.01M257.7 437.9h.01M254 462.1h.01M223.3 398.9h.01M203.7 420.4h.01M271.2 453.7h.01M280.8 436.3h.01M204.4 411.6h.01M248.4 405.6h.01M225.1 414.1h.01M304.3 437.6h.01M239.7 409.5h.01M311 459.4h.01M239.3 409.7h.01M181.9 423h.01M268.3 421h.01M217.9 453.2h.01M251.7 426.5h.01M280 415.4h.01M286.4 436.6h.01M247.7 408.7h.01M247.3 400.2h.01M304.6 428.5h.01M221.1 447.7h.01M241.3 425.4h.01M284.9 477h.01M270.6 413.7h.01M306.1 443.6h.01M187.4 410.1h.01M230.5 394.6h.01M214.4 401.9h.01M246.5 414h.01M264.3 483.2h.01M195.7 400.2h.01M293 456.7h.01M269.7 432.5h.01M239.6 412h.01M240.9 431.2h.01M228.6 440.8h.01M222.9 452.8h.01M230.4 425.1h.01M246.6 474.5h.01M265.9 479.3h.01M237.8 430.7h.01M246.2 424.3h.01M227.7 411.6h.01M231.7 450.3h.01M234.2 423.8h.01M273.1 470.8h.01M266.2 418.4h.01M262.4 462.6h.01M252.1 396.1h.01M294.8 465.2h.01M227.6 437.5h.01M200.2 414.6h.01M261.7 459.9h.01M230.6 439.8h.01M243.6 449.4h.01M212.3 413.9h.01M202.5 433.2h.01M233.4 475.4h.01M213.1 439.5h.01M224.3 407.1h.01M207.4 393.5h.01M265.1 449.4h.01M202 411.4h.01M255.2 465.3h.01M196.1 424.4h.01M243.1 449.5h.01M275.4 420.6h.01M265.5 442.2h.01M195.5 424.4h.01M250.4 466.2h.01M205.7 400.6h.01M283.9 451.9h.01M220.1 433.2h.01M261 382.6h.01M242.3 478.8h.01M277.9 453.4h.01M216.6 435.9h.01M278.1 449.5h.01M189.8 408.5h.01M222.9 463.9h.01M244.5 410.9h.01M297.4 452.7h.01M233.1 449.5h.01M225.6 420.5h.01M260.3 410.6h.01M262.9 405.9h.01M270.2 487.7h.01M261.6 490.9h.01M209.7 431.6h.01M250.5 392h.01M202.1 447.8h.01M294.8 446.5h.01M257.4 454.7h.01M253.2 456.2h.01M235.4 469.6h.01M308.1 454.2h.01M253.3 453.5h.01M216.5 394.3h.01M285.7 423.4h.01M291.6 449.9h.01M290.2 425.5h.01M300.3 438.2h.01M245.9 438h.01M249.6 465.1h.01M246.1 421.8h.01M296.4 458.4h.01M288.3 460.9h.01M269 438.4h.01M223.8 427.9h.01M247 446.3h.01M198 391.6h.01M267.8 415.7h.01M193.2 425.8h.01M221.2 389.7h.01M295.2 429.9h.01M255.5 476.8h.01M259 429.8h.01M202 421.3h.01M206.3 418.3h.01M277.5 443.7h.01M213.4 437.1h.01M279 471.7h.01M289.9 425.9h.01M268.7 409.7h.01M314.4 436.7h.01M320.9 450.7h.01M250.4 390.6h.01M206.2 399.4h.01M270.2 469h.01M299.1 458.4h.01M252.2 457.4h.01M217 444.3h.01"/>
<path d="M242 419h.01M211.4 451.7h.01M228.3 386.4h.01M196.5 411.5h.01M269.8 422h.01M233 420.6h.01M315.3 454.2h.01M307.1 449.2h.01M278.2 461h.01M233.6 388.1h.01M277.8 439.4h.01M221.8 439.9h.01M317.8 436.5h.01M277.3 455h.01M211.2 390.6h.01M246.2 455.3h.01M228 398.9h.01M235.1 450.9h.01M242.8 470.7h.01M218.6 390.7h.01M268 484.1h.01M258.5 415.8h.01M297.1 440.8h.01M255.7 400h.01M261.9 421.6h.01M260.5 456.1h.01M236.2 418.5h.01M195.6 444.8h.01M276.2 459.1h.01M196.2 430.6h.01M265.4 450.3h.01M276.7 418.3h.01M229.6 437.5h.01M298.2 473.1h.01M255.7 400.6h.01M276.5 479.9h.01M225.4 441.4h.01M304.1 427h.01M233.3 439.1h.01M211.8 402.2h.01M246 485h.01M266.5 420.6h.01M191.1 435.2h.01M301.9 435.2h.01M285.5 442.1h.01M240.4 478.4h.01M261.9 407.8h.01M233.8 428.1h.01M272.2 471.7h.01M234.6 453.7h.01M237.8 468.2h.01M246 449.3h.01M263.6 466h.01M299.6 432.8h.01M224.7 453.8h.01M309.3 431.8h.01M277 445.6h.01M247 458.5h.01M235.5 470.4h.01M309.1 433.7h.01M233.5 384.8h.01M292.2 438.1h.01M236.2 474.5h.01M266.9 417.5h.01M320.7 448.3h.01M279.7 455h.01M263 476.3h.01M230.6 430.9h.01M252.3 428.2h.01M288.9 430h.01M258.5 468.5h.01M313.8 436.5h.01M278.4 421h.01M268 426.9h.01M218.8 400h.01M318 443.5h.01M235.1 472h.01M265.4 482.9h.01M306.7 440.1h.01M303.3 451h.01M231.4 468.3h.01M244.6 398.3h.01M268.1 444.4h.01M252.7 406.7h.01M255.4 396.4h.01M293.9 429.8h.01M229.7 391.5h.01M278.6 443.4h.01M230.4 467.8h.01M215.2 384.8h.01M300.6 454.7h.01M261.1 399.7h.01M223.5 429.7h.01M236.3 466.3h.01M224.9 463.4h.01M285.7 459.1h.01M241.8 450.7h.01M202.2 423.8h.01M269.8 423.8h.01M233 464.9h.01M234.3 443.8h.01M238.2 384.5h.01M281.5 461.4h.01M239.1 406.2h.01M211.2 394.2h.01M291.8 439.1h.01M212.3 456.6h.01M269.8 396.4h.01M300.3 451.4h.01M229.7 438.4h.01M214.6 416.1h.01M189.2 418.2h.01M256.9 485.4h.01M223.7 443.3h.01M250.9 475.4h.01M254.5 456h.01M260.4 489.1h.01M268.7 430.3h.01M250.4 463.8h.01M221.4 450.8h.01M313.9 440.3h.01M197.3 394.3h.01M257.3 486.6h.01M279.8 430.5h.01M229.4 448.6h.01M223.6 419.5h.01M299.1 447.8h.01M260.1 454h.01M281.2 471.6h.01M251.6 491h.01M293.7 452.9h.01M216.1 451.5h.01M247.9 388.5h.01M212.5 438.3h.01M235.8 420h.01M223.2 398.9h.01M283.4 462.2h.01M248.6 428.4h.01M268 432.8h.01M217.1 418.6h.01M272.2 464.8h.01M197.3 432.9h.01M258 391.4h.01M281.4 449.7h.01M204.9 395h.01M254.3 450.4h.01M251.3 477.9h.01M266.2 403.5h.01M284.6 432.5h.01M271.4 452.8h.01M237.8 467.2h.01M224.2 438h.01M225 400.8h.01M225.8 445.8h.01M237.6 445.7h.01M246.8 469.3h.01M208.3 392.3h.01M258.3 405.7h.01M295.9 455.8h.01M223.4 395.6h.01"/>
<path d="M262.4 455.7h.01M271.6 439.5h.01M222.1 407.8h.01M262.5 406.8h.01M277.9 455.5h.01M199.7 426.8h.01M278 484.8h.01M230.5 384.5h.01M301 421.8h.01M270.2 465.1h.01M290.8 457.7h.01M233.1 403.1h.01M282.5 442.9h.01M292.5 460.1h.01M194.9 427.5h.01M200 437.8h.01M233.2 402.5h.01M270.6 456h.01M216.3 387h.01M264.5 410.5h.01M258.6 459.9h.01M288.7 425.7h.01M226.3 381.3h.01M255.8 457.9h.01M246.8 396.2h.01M236.6 480.3h.01M207.5 427.2h.01M242 427.7h.01M218 437.1h.01M210.6 447.4h.01M267.6 476.9h.01M237.3 444.2h.01M233.5 425.1h.01M251.2 409.5h.01M250.8 395.5h.01M204.3 398.6h.01M247.8 457h.01M296.5 471.3h.01M235.5 468.5h.01M247.7 464.9h.01M192 400h.01M249.5 441.7h.01M187.5 420.6h.01M227.4 382.4h.01M232.5 465.6h.01M239 418.7h.01M252.6 400.3h.01M269.7 429h.01M304 457.6h.01M299.2 423.2h.01M288.1 433.7h.01M278.5 427h.01M253.8 440.4h.01M196.6 439.4h.01M228.9 393.3h.01M257.6 392h.01M264.3 416.6h.01M241.4 467.6h.01M260.2 455.3h.01M228.7 401.3h.01M205.7 432.3h.01M216.1 392.1h.01M190.9 418.1h.01M227.6 422.1h.01M276.3 462.6h.01M224.7 392.5h.01M216.8 394.1h.01M213.9 391.1h.01M236.9 387.5h.01M262.8 437.6h.01M196.8 432.7h.01M230.8 457.3h.01M228.4 447.7h.01M241.3 465.5h.01M219.6 417.3h.01M201.4 443.2h.01M205.4 457.8h.01M259.5 403.2h.01M243.7 428.1h.01M263.9 421.7h.01M291.6 458.9h.01M278.5 475.4h.01M265.7 438.7h.01M195.4 412.3h.01M208.7 389.3h.01M231.7 390.7h.01M293.1 447.3h.01M298.7 442.8h.01M285.6 439.3h.01M250.4 439.9h.01M234.7 418.4h.01M232.9 406h.01M267.6 425.1h.01M237.2 398.7h.01M294.9 444.5h.01M246.2 438.9h.01M280.1 457.4h.01M296.9 424.3h.01M247.1 421.3h.01M228.6 453.6h.01M266.7 415.1h.01M222.2 447.7h.01M213.8 388.4h.01M255.2 398.2h.01M254 426.9h.01M228 409.7h.01M305.5 444.6h.01M254.4 474.1h.01M250.9 448.2h.01M264 444.7h.01M256.3 455.8h.01M221.3 420.2h.01M309.5 444.1h.01M260 446.5h.01M251.9 478.1h.01M219.9 388.9h.01M287.4 443.7h.01M274.6 467.4h.01M257.6 441.6h.01M196.1 443.5h.01M219.4 460.5h.01M300.5 422.1h.01M275 487.5h.01M221.4 405.1h.01M204.1 435.6h.01M268.3 483.8h.01M276.5 453h.01M217.1 409h.01M253.4 391.4h.01M207 441.2h.01M271.2 484.3h.01M232.2 445.4h.01M273.2 480.6h.01M214.5 395.3h.01M265.1 483.8h.01M236 393.4h.01M219 462.7h.01M292.5 471.3h.01M229.4 385.1h.01M251.6 424.3h.01M269.9 465.6h.01M266.5 445h.01M260.5 484.6h.01M277.4 445.5h.01M277.7 469.2h.01M253.4 468.7h.01M248.9 419.1h.01M237.9 391.2h.01M319.8 456.3h.01M245.9 473.2h.01M307.7 452.6h.01M249.8 410.8h.01M269.7 481.1h.01M281.1 461.2h.01M228.3 420.5h.01M248.2 408.5h.01M244.4 477.8h.01M238.2 440.8h.01M225.9 454.4h.01M280.8 475.5h.01"/>
<path d="M257.3 402.1h.01M239.7 399.9h.01M296 431.3h.01M317.3 439.7h.01M259.7 479.4h.01M270.3 476.3h.01M246.6 398.4h.01M279.7 426.3h.01M283.4 476.9h.01M192.1 442h.01M232.3 388.2h.01M257.3 469h.01M290 444.5h.01M251.5 478.7h.01M269.7 486.8h.01M277.9 442.6h.01M302.1 427.4h.01M253.5 454h.01M239.3 424h.01M221.8 453.6h.01M264.2 429h.01M233.7 464.3h.01M226 441.3h.01M291.9 442.2h.01M267.3 457.7h.01M229.3 461.5h.01M230.4 410.3h.01M279.4 420h.01M196.9 423.6h.01M263.6 438.7h.01M303.7 466.5h.01M231 386.4h.01M212.6 401.2h.01M288.5 464.1h.01M261.6 416.7h.01M287.9 473.7h.01M308.3 434.5h.01M228.2 386.1h.01M248.9 454.7h.01M273.3 487.4h.01M291.9 458h.01M285.4 422.2h.01M273 432.2h.01M234.7 425.2h.01M259.8 395.8h.01M285.2 412.8h.01M220.7 389.4h.01M225.7 469.1h.01M271.8 486.6h.01M235.4 462h.01M206.3 415.2h.01M206.4 428.4h.01M228.9 447.5h.01M250.3 417h.01M257 417.1h.01M230.3 382.9h.01M237.4 442.1h.01M243.7 486.4h.01M262.7 422.3h.01M238.7 477.2h.01M275.1 466.5h.01M279.3 473.4h.01M236.7 389.7h.01M270.5 428.2h.01M297 436.7h.01M223.5 426h.01M193.3 425.2h.01M267.1 486.9h.01M232.6 426.1h.01M281.7 467.2h.01M249.9 437.9h.01M214.1 389.9h.01M192.4 421.5h.01M232.7 427.3h.01M286.4 472.5h.01M268 487h.01M197.9 424h.01M282.9 430.2h.01M250.2 434.8h.01M199.9 448.1h.01M212.7 441.1h.01M244 457.8h.01M188.7 416.6h.01M291.8 433.3h.01M247.7 468.6h.01M278.9 466.8h.01M243.2 415h.01M203.3 406.4h.01M260.5 479.7h.01M194.1 422.7h.01M208.7 418.8h.01M295.4 453.5h.01M241.3 415.6h.01M233 398.2h.01M267.3 478.9h.01M259.6 404h.01M248.7 412.2h.01M297.3 430.8h.01M193.5 421.1h.01M237.3 396h.01M240.4 460.3h.01M310.1 446.6h.01M243.7 399.5h.01M258.5 440.7h.01M218.5 393.4h.01M237.6 453.5h.01M244.6 408.7h.01M274.6 480h.01M228.8 469.6h.01M294.7 447.8h.01M230.1 455.6h.01M211.3 419.3h.01M205.4 433.4h.01M202.4 397.4h.01M256.2 437.5h.01M239.1 427h.01M247.7 400.6h.01M320.9 447h.01M296.2 425.6h.01M237.5 383.7h.01M298.4 417.6h.01M251.8 412.7h.01M306.1 455.7h.01M286.9 456.2h.01M243.7 395.9h.01M244.7 481.2h.01M254.2 409.5h.01M223.4 446.2h.01M260.1 417.4h.01M194.7 429.5h.01M190.5 419.1h.01M240.1 429.3h.01M220.3 426h.01M271.6 484.2h.01M214 451.9h.01M252.8 452.9h.01M191.7 433.4h.01M250.2 404h.01M234.7 388.1h.01M257.3 399.6h.01M296 447.2h.01M230.6 413.4h.01M243.1 419.8h.01M261.4 445.9h.01M203.9 422.5h.01M201.1 439.5h.01M231.6 446.2h.01M295.7 468.7h.01M280 485.3h.01M206.4 436.9h.01M251.5 459.3h.01M242.8 419h.01M205.9 407h.01M258 470.4h.01M264.9 478.8h.01M227.6 446.4h.01M209.1 390.6h.01M189.5 406.7h.01M274.3 429.6h.01M242.7 430.3h.01"/>
<path d="M296.6 461.9h.01M208.9 396.1h.01M286.4 445h.01M262.8 480.7h.01M245.8 437h.01M245.3 449.2h.01M244.4 457.5h.01M216 400.7h.01M206.8 410.2h.01M324.6 439.2h.01M238.9 396.2h.01M295.3 462.7h.01M292.1 442.9h.01M225.8 405h.01M227.7 414.3h.01M205 419.8h.01M260.1 427.8h.01M247.2 464.9h.01M251.8 447.9h.01M229.1 458.6h.01M247.4 447.2h.01M234.7 427.8h.01M278.1 461.5h.01M266.5 482.6h.01M197 435.2h.01M275.9 437h.01M251.4 443.2h.01M264.3 488h.01M215.2 414h.01M218 427.5h.01M285.8 435.4h.01M256.8 440.3h.01M317.8 444.7h.01M304.7 442.3h.01M242.6 388.7h.01M217.2 399.5h.01M202.7 425.3h.01M199.8 414.7h.01M243.2 472h.01M269 423.2h.01"/>
</g>
<g fill="none" stroke="#e88f98" stroke-opacity="0.055" stroke-width="2.60" stroke-linecap="round">
<path d="M515 228.8h.01M545 220.2h.01M500.2 228.7h.01M577 236.4h.01M510.6 243.2h.01M534.1 242.1h.01M581.8 223.5h.01M587.3 236.1h.01M482.1 236.5h.01M585.5 223.3h.01M570.4 216.6h.01M563.7 253.2h.01M531.8 232.3h.01M526.2 242.3h.01M521.4 251.2h.01M521.7 209.9h.01M503.9 235.1h.01M542.8 234h.01M535.5 220.4h.01M597.7 223.8h.01M528.4 230.2h.01M567.3 229.6h.01M572.8 229.1h.01M570.3 231.4h.01M504.3 245.3h.01M598.6 211.5h.01M531.8 238.6h.01M594.6 223.5h.01M593.1 230.4h.01M561.2 230h.01M536.8 236h.01M507.8 241.5h.01M482.3 226.8h.01M500.7 232.4h.01M513.1 239.8h.01M515.8 221.9h.01M531 249.8h.01M469.2 253h.01M560.9 232.7h.01M501.3 233.2h.01M523.3 246.6h.01M513.3 244.3h.01M557.8 219h.01M553.5 214.3h.01M560.1 228.7h.01M530.3 249.7h.01M532.5 238.7h.01M570.5 246.5h.01M492.2 241.1h.01M528.4 240.2h.01M593.1 224.4h.01M515.8 233.7h.01M517.4 230h.01M587.3 229.4h.01M556.9 227.4h.01M535.8 229.4h.01M551.6 220.3h.01M536.9 224.9h.01M503.5 257.2h.01M570.1 240.2h.01M496 235.4h.01M530 231.7h.01M533.2 244.6h.01M512.5 241.9h.01M599.3 234.8h.01M502.6 219h.01M596.2 226.2h.01M532.3 233.2h.01M597 241.1h.01M568.3 224.8h.01M488.3 240.3h.01M581.7 222h.01M543.3 225.8h.01M507.3 244.7h.01M606.9 224.6h.01M595.8 229.4h.01M532.3 247.7h.01M481.1 225h.01M571.6 217.4h.01M593.7 227.1h.01M579.5 212.9h.01M536.9 229.8h.01M557.5 224.1h.01M537.4 242.2h.01M475.1 227.9h.01M502.8 217.3h.01M580.2 230.8h.01M539.4 223.6h.01M574.3 234.5h.01M570.6 217.8h.01M518 229.6h.01M520 248.1h.01M502.9 233.9h.01M578.2 231h.01M541.2 241.5h.01M589.8 229.3h.01M585.7 230.5h.01M560 228.7h.01M487.3 237.2h.01M605.5 212.1h.01M515.8 235.6h.01M611.3 221.6h.01M491.9 234h.01M506 250h.01M561.9 217.3h.01M565.5 219.3h.01M517.7 246.9h.01M541.7 235.6h.01M532.2 219.2h.01M582.6 222.3h.01M499.4 228.3h.01M561.8 226.6h.01M611 227.7h.01M571 238.7h.01M514.2 239.5h.01M586.3 250.2h.01M560.6 229.2h.01M495.7 238.9h.01M582.7 232.5h.01M527.9 251.1h.01M596.9 237.2h.01M498.3 253.7h.01M574.2 220.2h.01M579.6 215.4h.01M505.7 241h.01M554.1 220.9h.01M567.4 225.4h.01M512.8 226.7h.01M577.8 221.3h.01M594.9 242.1h.01M513.3 255.8h.01M530.4 228.3h.01M531.7 222.3h.01M521.3 247.5h.01M569.2 245.7h.01M557.2 231.2h.01M541.3 229.8h.01M509.4 247.2h.01M557.8 229.1h.01M574.4 223.7h.01M544.5 237h.01M531.7 225.7h.01M589.2 228.6h.01M525.4 215.6h.01M510 249.7h.01M582.2 219.2h.01M517.8 245.6h.01M490 242.9h.01M569.2 239.7h.01M552.8 219.5h.01M521.7 265h.01M605.3 222.2h.01M520.6 234.5h.01M513.8 236.9h.01M560 250.2h.01M589.5 211.5h.01M565.8 231.3h.01M546.7 231.1h.01M567 226.6h.01M566.2 214.8h.01"/>
<path d="M571.3 220.4h.01M530.4 227.8h.01M591.5 226.6h.01M525.6 248.3h.01M525.1 238.1h.01M571.4 250.2h.01M515.6 264.1h.01M514.3 230.2h.01M519 239.4h.01M523.2 233.5h.01M516.4 240.1h.01M547.3 237.2h.01M567.5 235.9h.01M543.9 237.8h.01M575.4 216.3h.01M502.9 248.5h.01M525.9 239.9h.01M513.7 239.3h.01M545 224.6h.01M491.2 234.1h.01M506.4 228h.01M591.9 231.8h.01M527.9 245.7h.01M560.8 218.6h.01M471.4 229.5h.01M584.9 226.5h.01M522.9 247.5h.01M540 224h.01M542.3 217.6h.01M555.5 251.3h.01M526.9 220.4h.01M565.6 213h.01M551.7 234.9h.01M589.6 236.3h.01M530.9 234.7h.01M508.6 234.3h.01M517.9 232h.01M586.5 234.3h.01M556.8 215.5h.01M579.1 210.6h.01M578.1 220h.01M608.9 221.2h.01M501.1 231.7h.01M600.2 217.9h.01M513.2 219h.01M583.1 222.1h.01M492.1 224.9h.01M575.3 228.2h.01M530.5 248.4h.01M538.1 231.9h.01M547.1 221.4h.01M561.5 232.6h.01M550.8 232.2h.01M488.5 220.4h.01M601.6 232.5h.01M494 249.7h.01M490.2 230.2h.01M472.8 254.7h.01M520.2 237.5h.01M507.2 221.6h.01M584.4 224.1h.01M603.8 228h.01M545.8 239.3h.01M511.9 240h.01M526.9 247.2h.01M565.8 230.9h.01M578.9 219.2h.01M559.8 221.5h.01M527.5 236.4h.01M511.9 236.2h.01M521.1 260.7h.01M595.6 227.3h.01M585.6 222.4h.01M558.2 231.6h.01M512.3 247.8h.01M503 238.9h.01M547.5 232.5h.01M520.3 235.8h.01M524 237.6h.01M599.8 217.3h.01M504.8 253.2h.01M587.5 219.1h.01M546.5 238h.01M503.7 213.5h.01M511.1 239.2h.01M515.7 232.4h.01M507.6 239.9h.01M486.8 226.7h.01M585.4 224.5h.01M492.4 235.3h.01M489.6 239.8h.01M571.5 223h.01M558.8 233.6h.01M519.6 217.2h.01M535.5 236.7h.01M521.7 224.1h.01M536.8 257.1h.01M567 222.3h.01M520.3 245.9h.01M555.5 235.1h.01M496.1 251.4h.01M531.1 236.6h.01M501.1 232.5h.01M486.8 237.3h.01M482.5 245.8h.01M532.6 255.9h.01M556.2 225h.01M524.4 224.5h.01M510.2 227.2h.01M523.4 241.5h.01M564.2 246.9h.01M511.9 244.9h.01M501.9 229.9h.01M563.4 234.9h.01M500.3 243.9h.01M563.5 229.5h.01M506.3 239.8h.01M543.6 228.7h.01M552.1 232.5h.01M532.3 232h.01M492.1 241.9h.01M533.9 236.5h.01M497.9 245.6h.01M512.7 231.2h.01M511.6 250.6h.01M522.3 232.8h.01M503.4 245.2h.01M531.6 238.2h.01M517.3 239.1h.01M584.9 240.9h.01M529.7 231h.01M507.9 249.7h.01M526.7 230.2h.01M567.4 235.9h.01M531.6 249.6h.01M572.7 226.8h.01M593.3 215.7h.01M576.7 209.1h.01M543.7 231.2h.01M574 241.5h.01M547.3 245.3h.01M551.2 231.9h.01M500.1 247.7h.01M507.1 252.1h.01M542.1 225.3h.01M549.4 248.4h.01M528.5 221.4h.01M570.7 215.5h.01M592.6 247.4h.01M550.2 220.6h.01M547.6 234.4h.01M607.7 222.2h.01M547.5 218.1h.01M562.6 220.7h.01M506.1 246.1h.01M527 231.4h.01M527.5 233.4h.01M544.5 214.9h.01M545.4 244.8h.01M526.9 229.3h.01"/>
<path d="M587.1 218.8h.01M547.6 226h.01M551.7 220.6h.01M477.4 242.8h.01M546.1 231.2h.01M524.7 233.3h.01M624.4 216h.01M506.6 254.8h.01M554.6 218.1h.01M537 230.4h.01M521.3 248.7h.01M614.8 213.4h.01M535.2 251.5h.01M571.1 220.8h.01M489.5 233.7h.01M593.8 217.6h.01M614.6 219.4h.01M499.8 244.8h.01M542.4 216h.01M562.9 222.7h.01M541.4 221.5h.01M480.1 240h.01M520.5 233.7h.01M493.3 227.6h.01M559.6 227.9h.01M522.7 233.9h.01M530.2 227.4h.01M507.6 232.4h.01M500.9 236.6h.01M597.6 223.3h.01M576.4 223.8h.01M570.6 227.9h.01M525.8 246.6h.01M574.5 215.6h.01M597.7 221.7h.01M596.1 232.1h.01M499.4 239.7h.01M584 225.6h.01M487.4 249.8h.01M573.2 229.5h.01M490.3 237.6h.01M527.5 241.2h.01M530.6 237.4h.01M506.1 236.4h.01M600.9 229.3h.01M563.3 243.7h.01M595.3 232.4h.01M619.3 221.3h.01M586.4 216.5h.01M563.1 226.9h.01M523.1 254.3h.01M508.6 232.7h.01M500.1 232.4h.01M588.5 243.5h.01M611.5 221h.01M593.3 238.4h.01M529.4 241.5h.01M486.5 236.2h.01M590.3 209.2h.01M571.4 218.2h.01M563.2 213.8h.01M614.1 219.3h.01M629 219.4h.01M583.4 225.2h.01M501.1 247.1h.01M521.2 230.7h.01M550.5 228.1h.01M585.5 225.8h.01M509.2 242.3h.01M518.9 232.1h.01M574 225.3h.01M492 231.8h.01M518.7 257h.01M464.5 246.2h.01M506.6 242.7h.01M532 253.1h.01M586.9 233.3h.01M522.4 213.7h.01M506.9 240.1h.01M495.2 238.8h.01M526.8 246.5h.01M555.3 219.8h.01M511.9 234.8h.01M512.5 244.4h.01M580.4 205.7h.01M508.1 234.8h.01M499.2 227.6h.01M517.9 234.1h.01M503.3 225h.01M555.4 235.4h.01M550.6 231.1h.01M493.8 237.4h.01M522.9 226.4h.01M521.8 252h.01M534.7 230.9h.01M516 243.4h.01M572.1 227.5h.01M501.2 208.1h.01M499.3 252.8h.01M528.8 251.9h.01M513.7 236h.01M557.3 225.5h.01M579.9 229.6h.01M543.1 236.8h.01M524.1 229.8h.01M498.9 247.6h.01M593.8 228.8h.01M493.5 226.6h.01M564.5 219.4h.01M598.1 224.7h.01M529 230.1h.01M537.1 254.2h.01M560.3 237.6h.01M549.8 232h.01M572.7 237.1h.01M575.3 225.7h.01M567.3 236.8h.01M528.4 239.1h.01M501.6 224.1h.01M574.3 224.3h.01M576.4 219.4h.01M504.1 243.5h.01M552.6 235.1h.01M524.8 236.9h.01M511.4 237.8h.01M545.7 223.5h.01M543.7 233.3h.01M525.6 239h.01M595.7 213.2h.01M504.1 203.6h.01M545 232.7h.01M525.8 239.6h.01M614.5 213.3h.01M573.9 233.9h.01M516.4 248.4h.01M536.4 221.8h.01M569.5 224.5h.01M600.9 226.1h.01M520.1 237.3h.01M591 229.2h.01M575.9 233.2h.01M599.4 229.3h.01M554.2 222.4h.01M566.1 225h.01M561.6 228.7h.01M560.4 220h.01M519.8 230h.01M541.5 220.1h.01M547.8 226.7h.01M515.2 243.2h.01M568.7 231.5h.01M575.2 230.1h.01M487 229.6h.01M510.9 237.4h.01M559.5 236.5h.01M575.1 230.5h.01M505.5 233.4h.01M548.6 223.2h.01M597.2 227.6h.01M496.2 243h.01"/>
<path d="M500.6 246.9h.01M584.3 233.8h.01M590.5 227.8h.01M527.3 229.8h.01M520.9 229h.01M510.8 246.7h.01M565.5 220.8h.01M549.1 243.4h.01M581.4 227h.01M492.5 220.9h.01M518.5 215.9h.01M503.9 238h.01M514.8 227.5h.01M503.2 243.4h.01M485.7 234.4h.01M512.7 242.6h.01M529.1 239.2h.01M510.2 235.1h.01M529.5 224.2h.01M521.2 234.4h.01M506.3 242.4h.01M508.9 237h.01M541.7 237.9h.01M535.9 238.8h.01M523.4 223.3h.01M571.4 220.8h.01M544.9 225.4h.01M550.1 217.1h.01M511.5 239.8h.01M467.8 231.9h.01M510.8 247.7h.01M520.8 224.5h.01M595.7 218.8h.01M565.4 234h.01M585.9 224.6h.01M515.9 244.8h.01M541.7 233.5h.01M591.3 217.3h.01M474.2 241.1h.01M567.1 229.1h.01M494.3 248.8h.01M574.2 229.5h.01M555.9 220.1h.01M556.5 219.6h.01M509.6 238.1h.01M568 223.3h.01M615.4 225.4h.01M548.4 233.7h.01M579 223.7h.01M546.7 236.8h.01M592.8 225.9h.01M511.5 241.5h.01M569.5 221.9h.01M572.7 226.2h.01M564.2 226.4h.01M586.7 229.2h.01M520.2 215.3h.01M502.6 233.9h.01M528.2 233.8h.01M553.2 227.2h.01M517.1 256h.01M581.6 243.7h.01M515.7 257.6h.01M515.6 238.9h.01M606.3 233.9h.01M565.6 214.4h.01M514.2 237h.01M545.1 223.1h.01M592.7 246.2h.01M560.4 237h.01M505.1 237.2h.01M513.7 207.7h.01M549.4 219.2h.01M590 222.9h.01M538.6 249.7h.01M589 238.2h.01M507.3 256.5h.01M556 244.2h.01M542.8 231.2h.01M504.4 238.1h.01M606.8 221h.01M505.3 226.9h.01M474.1 252.6h.01M522.9 234.6h.01M456.8 244.6h.01M544.2 221.7h.01M555.1 235h.01M575.3 221.2h.01M601.6 217.2h.01M540.2 227.3h.01M482.5 223.3h.01M525.1 226.3h.01M519.7 221.2h.01M584.9 217.9h.01M554.1 213.3h.01M628.2 221.5h.01M529.7 232.4h.01M527.8 248.1h.01M539.6 249.7h.01M564.7 233.6h.01"/>
</g>
<g fill="none" stroke="#8c97d8" stroke-opacity="0.065" stroke-width="2.60" stroke-linecap="round">
<path d="M685.2 189.6h.01M691.2 199.4h.01M627.8 257.9h.01M642.3 226.1h.01M682 208.6h.01M676 201h.01M632 266.4h.01M687.6 204.7h.01M667.1 268.6h.01M619.5 253.8h.01M690.2 212h.01M677.2 205.9h.01M697.7 197.5h.01M670.6 189.1h.01M688.1 190.2h.01M657.5 182.1h.01M669.2 212.8h.01M663.8 231.8h.01M635.4 257.3h.01M613.9 241.3h.01M638.7 252.9h.01M660.5 229.3h.01M688.5 199.9h.01M689 200.5h.01M629.4 253.1h.01M627.9 240.8h.01M638.5 265.8h.01M683.5 193h.01M628.9 252.4h.01M678.2 230.2h.01M690.8 197.7h.01M660.9 230.3h.01M628.4 255.9h.01M636.5 207.1h.01M659.7 245.2h.01M652.7 231.1h.01M692.7 199.4h.01M684 205.6h.01M623.8 244.5h.01M609.6 229.1h.01M642.8 214.9h.01M676.1 198.6h.01M696.6 201.4h.01M682 215.5h.01M684.4 207.3h.01M634.9 253.6h.01M695.2 204.3h.01M651 226.8h.01M643.3 247h.01M603.8 231.3h.01M691.3 205h.01M681.8 199.6h.01M625.9 245.5h.01M688.3 210.2h.01M681.2 202h.01M615.4 235.3h.01M704.6 202.5h.01M658.7 246h.01M618.1 238h.01M625.7 257.6h.01M650.4 220.9h.01M630 254.7h.01M645.4 201.7h.01M680.1 217h.01M679.8 217.4h.01M630.1 274.9h.01M681.1 205.7h.01M628.4 273.2h.01M672.2 193.6h.01M674 198.9h.01M690.6 213.6h.01M633.3 262.5h.01M631.2 246.9h.01M672.4 205.3h.01M630.5 250h.01M637.9 264h.01M677.7 203.8h.01M688.7 194.6h.01M640.5 231.5h.01M692.6 197.5h.01M626.2 245.7h.01M610.8 229.2h.01M653 242.8h.01M685 195.7h.01M624.4 248.2h.01M680.3 195.4h.01M630.6 233.7h.01M648.2 195.2h.01M668.8 199.4h.01M637.6 270.2h.01M631.8 260.6h.01M622.9 241.9h.01M694.3 232.9h.01M628.7 251.9h.01M642.4 262.1h.01M649.4 272.3h.01M625.1 259.4h.01M683.8 188h.01M673.9 192.6h.01M678.6 215.2h.01M626.5 253.5h.01M619.2 245.9h.01M631 264.7h.01M625.3 242.6h.01M642.8 271.7h.01M688.1 221.5h.01M701.7 206.3h.01M626 244.1h.01M683 188.4h.01M631.3 265.4h.01M644.8 183.4h.01M615.8 241.8h.01M655 282.3h.01M628.9 258.4h.01M683.3 192.3h.01M633.1 253.8h.01M653.4 234.1h.01M637.4 262.5h.01M675.3 203.5h.01M632.2 257.2h.01M619.2 239.2h.01M677.6 248.2h.01M675.7 243.4h.01M697.3 204.4h.01M629.8 215.3h.01M621.6 249.8h.01M620.7 247h.01M647.8 268.1h.01M678 207.2h.01M647.4 240.8h.01M678.6 225.7h.01M652.6 266.3h.01M633 264.4h.01M611.7 237h.01M641.3 271.7h.01M632.2 259.9h.01M634.2 264.4h.01M677.8 207.9h.01M649.9 230h.01M649.6 278.7h.01M660.3 231.6h.01M624.5 250.6h.01M651.5 231.5h.01M643.3 272h.01M667.1 243.5h.01M657.8 221.2h.01M682.5 200.2h.01M694.7 208.3h.01M626.2 253.6h.01M692.4 203.4h.01M656.5 268h.01M692.5 189h.01M650.9 273.5h.01M617.5 256.2h.01M695.5 197.1h.01M689.8 214.6h.01M651.3 275.6h.01M681.4 198.9h.01M639.5 233.8h.01M703.2 209.9h.01"/>
<path d="M632.1 227.3h.01M628.6 249.1h.01M641.6 268.4h.01M627.9 264.5h.01M620.6 241.9h.01M631.6 269.5h.01M632 253.5h.01M621.3 241.1h.01M634.5 267.9h.01M693.5 212.2h.01M677.6 207.2h.01M642.3 262.6h.01M632.4 240.5h.01M667.7 203.6h.01M637.7 284.1h.01M639.7 262.1h.01M631.5 257.9h.01M671 239.4h.01M638.5 254.6h.01M684.4 199.8h.01M681.3 204.8h.01M682 199.5h.01M694 201.4h.01M647.1 275.4h.01M690.9 205.6h.01M631.8 261.2h.01M604 219.9h.01M660.8 211.5h.01M649.8 227.5h.01M652.7 234.7h.01M701.6 226.5h.01M700.2 200.5h.01M682.8 200h.01M649.5 234.2h.01M678.1 190.7h.01M653.9 273.6h.01M691.6 186.6h.01M676.8 233.4h.01M684 209.9h.01M644.6 270.8h.01M621.4 235.8h.01M653.5 230.9h.01M619.5 254.8h.01M668.2 200.8h.01M626.5 244.6h.01M630.8 250.6h.01M681.5 196.1h.01M640.3 223.2h.01M641.7 266.4h.01M687 210.2h.01M685.1 203.4h.01M622.3 253.9h.01M707.4 194.2h.01M690.6 200.9h.01M683.2 203.8h.01M666.2 233.3h.01M637.5 264.9h.01M687.5 208.8h.01M684.7 186.8h.01M641.3 258.5h.01M624.9 243.2h.01M688 209.6h.01M689.7 203.1h.01M696.5 208.2h.01M685.1 200.4h.01M635.8 215.9h.01M689.7 212.3h.01M698.1 193.9h.01M682.5 198.2h.01M632.5 256.5h.01M641 259h.01M685.8 196.3h.01M626.9 256.1h.01M629.7 242.9h.01M685.4 199.9h.01M631.7 261.4h.01M647.8 245h.01M688.8 185.3h.01M680 201.1h.01M622.4 243.3h.01M691.5 201.8h.01M689.8 210.3h.01M653.5 271.4h.01M693 195h.01M641.7 275.4h.01M666.2 211h.01M681.4 202.6h.01M658.8 236h.01M624.4 259.4h.01M686.5 198.2h.01M685 205.3h.01M662.6 201.5h.01M680.8 214.3h.01M646.4 218h.01M631.9 256h.01M693.2 210.2h.01M680.6 200.4h.01M690.2 203.6h.01M699.5 193.3h.01M693.7 202.6h.01M628.3 269.8h.01M705.6 197.2h.01M618.9 239.5h.01M686.8 199.2h.01M677.3 212.6h.01M689.2 209.7h.01M631.7 248h.01M690.7 196.8h.01M667 233.5h.01M689.6 205.4h.01M671.3 257h.01M683.2 205.2h.01M690.9 209.3h.01M638.3 259.8h.01M691.8 206.1h.01M698.6 195.1h.01M688.8 205.4h.01M648.1 259.6h.01M639.9 202.7h.01M677.6 202.2h.01M674.5 193.1h.01M626 256.9h.01M681.1 208.7h.01M676.1 192.1h.01M685.9 194.3h.01M639.2 266.1h.01M628.6 260.4h.01M665.3 213h.01M679.9 196.5h.01M692.1 201.8h.01M644.1 217h.01M604 237.4h.01M669.5 199.8h.01M683.2 215.9h.01M674.8 194.9h.01M626.4 253.6h.01M686.3 199h.01M682.1 196h.01M648.3 190.8h.01M639.9 261.1h.01M690.3 203.4h.01M628.3 253.3h.01M682.4 190.1h.01M630.8 256.1h.01M634.5 262.1h.01M680.3 207.3h.01M617.8 241.3h.01M688.8 197.5h.01M630.3 254.2h.01M693.9 210.7h.01M630.9 250.5h.01M640.7 227.1h.01M631.1 242.2h.01M682.1 206.7h.01M623.2 243.7h.01M630.4 274.4h.01M650 244.7h.01M630.4 246.5h.01M670 189.2h.01M622.8 245.3h.01"/>
<path d="M606.4 231.2h.01M632.1 257.4h.01M636.5 253.3h.01M618.9 223.3h.01M672.8 233.4h.01M669.3 228.8h.01M631.3 238.9h.01M627.6 247.4h.01M698.5 204.8h.01M663.3 200.5h.01M684.1 183.2h.01M628.5 249.7h.01M650.7 204.7h.01M697.2 208.9h.01M638.4 259.3h.01M644.6 254.2h.01M701.4 217.5h.01M624.6 250.3h.01M622.8 249.1h.01M687.6 205.3h.01M685.7 195.8h.01M677.9 216.2h.01M673.6 191.3h.01M677.3 203.5h.01M654.2 197.9h.01M684 192.3h.01M660 206.8h.01M629.9 269.5h.01M635.2 262.1h.01M635.1 252.9h.01M695.9 202.4h.01M663.5 211.8h.01M623.3 246.5h.01M684.2 189.9h.01M618.2 239.8h.01M682.1 196.5h.01M681.7 197.8h.01M627.2 248h.01M631 242.3h.01M681.1 213.6h.01M681.1 235.3h.01M627.9 245.6h.01M692.7 194.3h.01M684.4 195.7h.01M645.4 217.9h.01M683 207.9h.01M642 224.7h.01M641.1 234.9h.01M636.1 267h.01M655 228.1h.01M687.9 188.6h.01M667.9 199.2h.01M695.8 209.1h.01M631.4 259.1h.01M667.1 184.9h.01M666.4 224.1h.01M683.2 203.6h.01M630.4 270.8h.01M696 203h.01M633.8 265.9h.01M677.2 206.3h.01M646.9 258.4h.01M662.8 202.7h.01M693.4 203.4h.01M634.9 273.3h.01M646.2 217.8h.01M677.1 209.2h.01M639 262.4h.01M686.1 204.3h.01M690.1 193.7h.01M638.5 268.3h.01M685.9 190.3h.01M650.4 255.2h.01M631.4 245.5h.01M631.4 275.3h.01M628.4 246.3h.01M681.3 200.6h.01M630.6 244.3h.01M659.8 241.1h.01M620.2 245.2h.01M616.4 254.2h.01M673.5 249.2h.01M645.7 206.3h.01M671 191.6h.01M627 243.9h.01M663.9 222.2h.01M663.8 217.5h.01M648.4 273.4h.01M638.6 246h.01M690.8 202.9h.01M626.6 250.7h.01M678 201.1h.01M629.9 254h.01M640.3 219.4h.01M679.3 186.8h.01M630.6 252.7h.01M687.1 207.6h.01M626.9 248.6h.01M634.3 256.9h.01M625.6 240.6h.01M625.9 212.8h.01M625.9 251.7h.01M671.1 233.7h.01M658.7 212.7h.01M676.4 190.5h.01M653.2 228.4h.01M637.7 277h.01M698.1 190h.01M678 202.5h.01M636 273.9h.01M619.9 225.6h.01M636.6 256.9h.01M694.9 202.8h.01M616.3 238.2h.01M680.3 202.8h.01M640.8 205.5h.01M694.5 205h.01M621.2 236.7h.01M676.5 217h.01M672.9 207.9h.01M698.2 201.5h.01M679.6 202.6h.01M669.6 190.1h.01M646.9 224.4h.01M656.3 241.1h.01M619.1 249.2h.01M636 268.1h.01M631.8 249.3h.01M652.2 263.7h.01M673.5 208.9h.01M645.3 269.6h.01M684.2 197.8h.01M630.3 249.8h.01M644.9 270.7h.01M643.2 262.5h.01M617.7 226.4h.01M699.3 203.9h.01M634 239.7h.01M662.2 218.6h.01M616.1 238h.01M669.3 213h.01M620.7 248.6h.01M623.8 241.3h.01M691.1 198.9h.01M658.6 241.6h.01M660.5 237.5h.01M639.4 227.5h.01M623.1 254.3h.01M683.2 204.3h.01M630.9 254h.01M644.9 264.7h.01M635.1 259.5h.01M674.7 206.5h.01M655.3 246.3h.01M628.6 250.2h.01M612 234.4h.01M622.2 239.7h.01M682.6 196.7h.01M689.7 187.7h.01M683.1 205.4h.01"/>
<path d="M640.6 269.1h.01M650.3 234.7h.01M681 205.8h.01M624.9 242.7h.01M686.8 195h.01M619.9 246.5h.01M683.2 197.7h.01M628.7 259.4h.01M630.6 261.7h.01M633 220.7h.01M679.1 194.1h.01M661.4 213.3h.01M694.8 195.5h.01M666.9 237.2h.01M662.5 210.4h.01M626.7 236h.01M640.1 280.1h.01M668.2 211.6h.01M634.9 255.7h.01M686.1 208h.01M673.6 244.9h.01M627.9 264.5h.01M637.8 240.2h.01M617.4 235.6h.01M695.9 212.6h.01M662.6 245.6h.01M627.7 266.1h.01M618.2 229.2h.01M638.2 279.1h.01M637.7 269.8h.01M640.8 219.9h.01M635.4 253.6h.01M685.1 205.2h.01M632 242.9h.01M684.1 200.5h.01M639.6 266.7h.01M638 266.6h.01M627.4 261.1h.01M688.4 199.1h.01M677.5 195.4h.01M672.3 198.6h.01M634.8 208.8h.01M690.8 214.9h.01M693.3 202.6h.01M689.5 191.8h.01M698.7 191.4h.01M619.8 253h.01M689.7 196.8h.01M673.8 212.6h.01M697.2 199h.01M674.3 194h.01M651.8 219.6h.01M622.1 206.8h.01M626.8 262h.01M635.9 261.1h.01M680.1 189.7h.01M640.9 227.8h.01M673.5 187.9h.01M624.3 263.9h.01M690.5 205h.01M640.8 267.8h.01M672.6 227.4h.01M646.7 257.9h.01M623.7 252.9h.01M679.5 208.5h.01M674 190.6h.01M621.9 244.7h.01M676.6 200.3h.01M637.7 263.5h.01M663.3 224.9h.01M635.7 266.9h.01M689.9 199.8h.01M678.6 197.1h.01M689.5 195.9h.01M628.4 244.8h.01M642.6 273.3h.01M635.4 258.9h.01M631.4 249.4h.01M617.9 246.9h.01M623 257.7h.01M684.1 213.4h.01M690.2 198.3h.01M634 262.1h.01M627 264.3h.01M620 239.2h.01M624.7 203.8h.01M636.5 271.7h.01M686.6 197.5h.01M617.6 240.3h.01M675.6 191.9h.01M637.1 252.5h.01M638.8 275h.01M683.7 195.6h.01M629.3 274.1h.01M644.6 217.5h.01M642.5 231.4h.01M619.6 248h.01M640.7 265.3h.01M624.6 249.5h.01M636.6 261.8h.01M683.8 195.5h.01M686.4 213.1h.01M625.7 259.6h.01M637.1 246.3h.01M696.9 195h.01M612.2 244.1h.01M616.4 222.3h.01M649 268.2h.01M626.1 241.7h.01M663.6 239.4h.01M656.2 281.4h.01M693.5 199.2h.01M667.4 209.5h.01M691.4 198.6h.01M628.1 256.9h.01M624.8 257.4h.01M626.9 232.6h.01M647.6 226.7h.01M675.1 211.2h.01M629.6 251.6h.01"/>
</g>
<g fill="none" stroke="#74b95f" stroke-opacity="0.115" stroke-width="2.20" stroke-linecap="round">
<path d="M945.9 103.3h.01M908.4 88.4h.01M911.8 92.3h.01M886.1 89.8h.01M889.1 107.8h.01M863.3 82.6h.01M911.7 79.5h.01M882.8 69.6h.01M886.7 59.8h.01M913.3 102.1h.01M940.9 94.2h.01M931.9 92.7h.01M874.6 81.6h.01M913 78.5h.01M887.6 84h.01M869.6 82.2h.01M883.4 89.5h.01M888.7 77.8h.01M896.5 105h.01M862.9 88.6h.01M868.3 91.8h.01M927.1 91.1h.01M908.3 74.2h.01M878.3 99h.01M915.6 93.2h.01M926.4 89.4h.01M911.3 72.2h.01M915.2 88.1h.01M870.4 92h.01M909 84h.01M925.2 88.1h.01M895.4 100.2h.01M896.5 73h.01M917.8 76.6h.01M881 82.9h.01M875.2 81.1h.01M926.3 81.5h.01M895.3 87.8h.01M917.4 82.5h.01M927.6 101h.01M852.8 82.4h.01M922.5 78.7h.01M887.7 109.7h.01M863.6 80.5h.01M883.5 76.7h.01M927.5 97h.01M906 85.9h.01M919.8 83.2h.01M902 98.3h.01M900.3 75.3h.01M912.6 96.5h.01M889.2 79.9h.01M885.3 85.3h.01M882.9 71.9h.01M870.6 72.5h.01M931.5 88.6h.01M903 76.6h.01M910.3 63.6h.01M900 67.2h.01M873 89.2h.01M914.8 95.4h.01M918.1 77.1h.01M918.6 96.4h.01M941.1 108.9h.01M881.6 69.7h.01M934.1 103.6h.01M897.3 102.6h.01M924.1 95.2h.01M905.7 84.9h.01M881.1 101.1h.01M885.5 74.7h.01M906.8 89.8h.01M914.4 82h.01M888.9 92.6h.01M889.4 76.1h.01M922.9 105h.01M913.1 83.5h.01M899.7 78.8h.01M920 97.6h.01M887.1 87.9h.01M910.3 107.4h.01M858.5 75.3h.01M938.2 100.9h.01M913.5 92.8h.01M885.3 79.1h.01M927.9 95.1h.01M909.5 78.8h.01M903.2 85h.01M885.4 72.5h.01M906.7 99.6h.01M866.7 83h.01M904.7 82.8h.01M891.3 94.8h.01M905.5 68h.01M904.4 79.7h.01M916.7 83.7h.01M948.8 93.6h.01M881.4 79h.01M887.4 86h.01M871.3 68.5h.01M901.9 86.6h.01M879.5 84h.01M928.1 88.5h.01M904.2 78.2h.01M882 76.8h.01M887.3 88.6h.01M884.6 75.7h.01M895.9 81.4h.01M890.2 75.5h.01M895.1 84.4h.01M905.5 78.6h.01M920.3 80.2h.01M928.2 93.8h.01M895.1 84.5h.01M869.5 84.9h.01M870.8 75h.01M903.5 99.6h.01M924.8 99.8h.01M899.2 94.6h.01M865.9 68.6h.01M915.3 83.7h.01M872.3 88.1h.01M920.6 98.5h.01M909.6 81.5h.01M893 104.1h.01M907.5 90.5h.01M920.6 92.2h.01M869.6 75.3h.01M947 104.7h.01M877.9 74.2h.01M907.1 72.1h.01M890.2 77h.01M862.5 82.6h.01M907.3 82.2h.01M876 86.7h.01M896.2 75.8h.01M905.8 93.2h.01M854.3 86.8h.01M918.4 78.4h.01M925.3 93h.01M897.5 98.7h.01M921.7 84.7h.01M905.5 78.6h.01M934 84.5h.01M889.8 81.9h.01M917.1 100.4h.01M922.8 87.6h.01M894.1 79.8h.01M884.5 100h.01M921.6 90.5h.01M924.1 79.6h.01M867.7 89.4h.01M883.6 73.3h.01M944.5 99.8h.01M890.8 74.4h.01M887.8 81.3h.01M882.6 64.9h.01M869 70.4h.01M929.3 95.8h.01M875.5 70.7h.01"/>
<path d="M937.8 106.3h.01M912.4 85.4h.01M882.9 94.8h.01M897.5 77.7h.01M944.3 95.4h.01M909.1 84.4h.01M891 75.7h.01M857.3 82.6h.01M900.3 82h.01M858.7 79.6h.01M858.1 78.8h.01M880.9 55.4h.01M902 79.5h.01M881.4 97.5h.01M901.6 80.3h.01M904.4 70.8h.01M933.3 93.6h.01M858.8 71.1h.01M895.4 90.6h.01M931.3 99.2h.01M896.7 83.5h.01M891.3 81.4h.01M914.8 78.5h.01M919.6 106.4h.01M902.4 84.8h.01M876.9 79.5h.01M911.4 91h.01M888.2 87.1h.01M926 78.3h.01M870.4 97h.01M905.9 85.4h.01M920.6 96.7h.01M917 71.5h.01M866.2 62.3h.01M918.6 101.8h.01M842.5 59.5h.01M875.4 90.5h.01M893.5 75.9h.01M931 87.1h.01M894.8 76.4h.01M896.1 67.6h.01M897.1 96.9h.01M903.9 87.3h.01M932.9 87.5h.01M905.1 87.2h.01M917.8 70.9h.01M936.8 101.2h.01M887.6 102.1h.01M929.8 89.8h.01M859.9 56.9h.01M894.8 61.4h.01M905.7 91.8h.01M896 89.1h.01M898.9 76.1h.01M941.5 84.9h.01M910.5 97.7h.01M888.1 78h.01M893.5 80.8h.01M916.1 74.8h.01M861.2 89h.01M906.2 76h.01M915.5 70.5h.01M882.9 74h.01M874.8 93.1h.01M904.7 74.3h.01M909.1 83.9h.01M834.3 87h.01M926.8 90.6h.01M934.5 87.8h.01M900.9 107.3h.01M933.1 98.6h.01M922.3 86h.01M917.6 79.3h.01M913.2 79.5h.01M926.2 89.6h.01M898.4 78.3h.01M908.6 78.8h.01M918 85.6h.01M944.4 89h.01M890.7 75.9h.01M857.8 101.2h.01M898.8 75.7h.01M894.9 88.3h.01M877 61.5h.01M875 64.3h.01M869.9 84.4h.01M884.3 57.1h.01M885.5 85.2h.01M902.8 82.5h.01M872.8 81.3h.01M895.8 88.2h.01M879.4 68.8h.01M940.9 103.3h.01M917.1 102.5h.01M931 99.1h.01M886 83.1h.01M921.5 75.2h.01M896.1 77.1h.01M877.3 80.7h.01M857.7 80.1h.01M949.1 107.7h.01M892.7 73.9h.01M931 89.5h.01M914.4 92.7h.01M914.1 82.3h.01M934.6 89h.01M871.7 71.1h.01M905.9 101.9h.01M922.9 79.8h.01M914.8 92.8h.01M873.3 93.2h.01M879.8 73.5h.01M882 83.1h.01M944.5 108.7h.01M900.7 84h.01M900.9 72.6h.01M887.4 103.8h.01M902.9 84.3h.01M928.8 91.3h.01M903.3 69.1h.01M924.8 78.4h.01M942.4 103.1h.01M903.7 89.9h.01M902.2 70.7h.01M901.1 76.9h.01M876.2 92.2h.01M924.9 95.5h.01M874.4 76.8h.01M857.1 94.2h.01M855.2 87.1h.01M925.5 85.3h.01M903 99.3h.01M866 74.8h.01M941.8 97.7h.01M936.7 98.4h.01M879 59.3h.01M902 88.5h.01M910.3 87h.01M866 94.3h.01M913.3 79.8h.01M882.6 72.5h.01M925 86.2h.01M900.3 73.1h.01M907.4 86.9h.01M894.8 79.8h.01M908.8 82.3h.01M915 80.6h.01M898.2 88.5h.01M873.9 78.3h.01M948.6 92.4h.01M935.6 83.2h.01M883.7 63.5h.01M922.6 94.2h.01M887.2 87.9h.01M869.3 76h.01M914.4 84.9h.01M913.6 78.5h.01M891.1 100.8h.01M908.4 72.7h.01M924.6 97.3h.01"/>
<path d="M920.9 94.2h.01M864.4 81.9h.01M915.1 77.1h.01M907.6 98h.01M891.8 98h.01M872.1 82.6h.01M919 87.3h.01M912 77.9h.01M925.8 88.1h.01M890.2 82.5h.01M918.5 93.5h.01M912.7 91.6h.01M884.7 78.8h.01M920.2 68.7h.01M903.7 80.4h.01M891.7 86h.01M876.4 86h.01M923.9 85.8h.01M922.3 87.4h.01M921.6 102.9h.01M906.9 81.1h.01M878.5 73.4h.01M913.8 77.3h.01M907.3 86.8h.01M892.9 76.8h.01M905.2 104.7h.01M894.3 78.7h.01M909.4 80.5h.01M898.2 74.8h.01M882.2 74.5h.01M887.8 76h.01M926.5 90.7h.01M879.8 87.3h.01M912.2 89.4h.01M895.9 65.8h.01M861.9 74.5h.01M905.9 69.1h.01M905.5 89.8h.01M870.9 91.6h.01M918.6 86.3h.01M917.7 82.5h.01M911.5 83.8h.01M920.1 96.3h.01M931.1 85.9h.01M933.6 101.4h.01M937 82.7h.01M901.9 86.4h.01M918.9 74.3h.01M907.8 88h.01M888.7 92h.01M870.5 100.9h.01M894.1 95.5h.01M876 69.9h.01M906.9 78h.01M910.8 72.4h.01M920.8 99.4h.01M901.6 84h.01M874.8 78.1h.01M901.5 97.1h.01M898.3 104h.01M899.5 95.4h.01M895.9 70.9h.01M917.4 91.4h.01M869.2 66h.01M930.9 91.9h.01M914.6 83.4h.01M877.2 96.9h.01M870.2 73.2h.01M901.1 93.8h.01M866.3 82.8h.01M925.4 98.9h.01M879 74.9h.01M908.1 84.1h.01M916.3 79.6h.01M883.6 77.8h.01M879.4 89.4h.01M898.7 85.6h.01M882.8 76.7h.01M907.5 80.6h.01M877.1 78.5h.01M902.7 78.4h.01M862.7 73.3h.01M913.1 98.2h.01M903.6 70.7h.01M883.1 66.8h.01M908.4 83.6h.01M898.9 79.9h.01M921.6 87.9h.01M893.4 89.2h.01M904 91.4h.01M905.7 79.1h.01M924.7 76.1h.01M939.4 90.4h.01M888 78.5h.01M865.8 90.8h.01M896.3 89.4h.01M877.2 79.1h.01M917 95.4h.01M902.3 93.6h.01M856.3 73.7h.01M918.2 81.9h.01M881.7 68.1h.01M891.6 68.6h.01M888 103.4h.01M894.8 71.4h.01M926.1 88.4h.01M907.4 79.9h.01M909.7 65.7h.01M888.2 80.5h.01M862.1 77.6h.01M898.2 97.1h.01M899.7 84.4h.01M878.9 88.2h.01M884.9 80h.01M885.7 99.7h.01M908.1 86h.01M886.1 73.1h.01M864.1 87.3h.01M878.8 74.4h.01M928.8 90.9h.01M888.8 73.7h.01M855.9 76h.01M923.1 86.4h.01M878.5 87h.01M913.1 78.8h.01M909.1 75.1h.01M961.2 100.1h.01M895 76.3h.01M937.6 90.3h.01M860.4 69.8h.01M929.9 85.5h.01M894.5 79.6h.01M860.9 79.1h.01M929.7 91h.01M885.5 93.5h.01M925.9 81.5h.01M870.8 91.9h.01M903.5 81.7h.01M891.6 78h.01M930.7 92.9h.01M919.1 81.9h.01M932.2 77.7h.01M930.2 86.8h.01M892.6 76h.01M875.8 68.6h.01M879.4 72.1h.01M854.2 88.1h.01M887.7 80h.01M885 78h.01M902.5 88.9h.01M865.5 87.8h.01M909 86.6h.01M898.5 79.6h.01M923.5 95.2h.01M897.6 96.5h.01M919.2 91h.01M903.9 91.4h.01M900 91.4h.01M889.2 85.7h.01M907.2 82.1h.01"/>
<path d="M877.6 73.5h.01M932.6 83.2h.01M906.1 87.9h.01M879.6 97.5h.01M891.4 98.8h.01M894 91.6h.01M865.7 78.6h.01M884.3 71.7h.01M924.3 86.1h.01M907.6 87h.01M853.1 74.1h.01M888.2 75.7h.01M928.1 105.4h.01M913.5 83.7h.01M859.6 84.1h.01M881.9 95.9h.01M889.9 87.4h.01M880.8 65.3h.01M929.2 93.2h.01M905.3 78.2h.01M904.7 84.5h.01M886.6 79.4h.01M890.7 81.7h.01M907.6 93.3h.01M905.4 86.8h.01M917.1 90.7h.01M892.2 81.2h.01M907 74.2h.01M947.4 100.7h.01M887.6 71.9h.01M922.7 82h.01M867.1 87.7h.01M893.7 107.5h.01M888.6 77.5h.01M923.6 86.3h.01M919.9 85.8h.01M869.1 91.3h.01M866.5 75.4h.01M869.8 111.3h.01M891.9 109h.01M914.6 85.7h.01M894.2 78.3h.01M875.3 87.7h.01M874.5 79.2h.01M920 78.8h.01M928.8 82.1h.01M933.2 102.6h.01M936.3 78.6h.01M936.4 95.9h.01M927 85.2h.01M908.2 90.6h.01M879.2 82.7h.01M927 78.7h.01M881 97h.01M901.1 107.2h.01M897.9 73.5h.01M906 82.5h.01M895.4 92.3h.01M935.8 91.6h.01M898.2 82.8h.01M859.1 78.7h.01M870.6 104.9h.01M865.8 77.1h.01M896.4 91.3h.01M909.1 100h.01M916.3 89.4h.01M865.9 70.1h.01M942.6 96.4h.01M941.4 106h.01M898.3 58.6h.01M859 68.9h.01M886 83.4h.01M871.3 75.8h.01M884 77.7h.01M885.3 77.7h.01M927.6 82h.01M901.2 60.9h.01M924.8 87.4h.01M885.1 94.6h.01M890.2 71.4h.01M863.6 75.6h.01M904.4 79.2h.01M883.4 67.1h.01M923.3 113.9h.01M880.8 94.4h.01M900.3 88.1h.01M896.6 92.3h.01M901.4 80h.01M855.7 82h.01M892.2 93.9h.01M917.6 90.8h.01M863.4 85.9h.01M871.3 87h.01M909.9 60.8h.01M904.1 91.2h.01M872.8 80.6h.01M919.8 90.1h.01M923.3 95.2h.01M883.3 85.6h.01M928.1 78.2h.01M904.8 91.9h.01M897.8 94.4h.01M903 80.8h.01M922.3 103.9h.01M908.4 88.4h.01M912.4 91.1h.01M895.8 103.9h.01M854.3 97.8h.01M896.5 84.9h.01M882.1 88.7h.01M896.3 80.8h.01M898.5 77.9h.01M911.4 83.1h.01M930.4 94.5h.01M900.2 71.2h.01M918.6 104.7h.01M870.1 98.2h.01M884.7 83.1h.01M868 95.6h.01M941.6 92.7h.01M919.5 89h.01M907.1 96h.01M935.7 93.9h.01M897 76.5h.01M896.1 63.8h.01M914.9 84.6h.01M887.2 78.7h.01M915.1 80.7h.01M919.3 92.5h.01M908.3 79.6h.01M910.9 82.5h.01M933 97.2h.01M919.8 88.4h.01M908.6 86.7h.01M911.2 86.2h.01M893.5 74.5h.01M895.7 82.3h.01M887.3 66.7h.01M899.8 90.1h.01M921 92.1h.01M920.2 84.3h.01M930.1 84.3h.01M882.1 109.1h.01M908.9 103.8h.01M924.4 83.2h.01M894.3 87h.01M919.2 87.9h.01M868.1 89.3h.01M918.9 94.1h.01M873.3 81.8h.01M929.8 95.8h.01M911.8 85.4h.01M918.1 86.7h.01M886.1 76h.01M887 60.7h.01M924.7 104h.01M921.1 94.4h.01M929.9 92.2h.01M928.9 86.1h.01M890.4 72.5h.01"/>
<path d="M875.6 59.2h.01M942.6 91.4h.01M923.1 84.6h.01M906.8 85.8h.01M867.2 92.4h.01M907 81.9h.01M854.2 76.7h.01M926.5 101.6h.01M919.8 95.6h.01M901.1 85h.01M858.5 98.5h.01M923.1 76.3h.01M898.9 79.3h.01M874.5 66h.01M938.1 92.5h.01M888.5 80.2h.01M911.3 93.8h.01M868 66.3h.01M936.7 95.4h.01M905.4 83.2h.01M896.7 64.1h.01M895.9 76.9h.01M860.8 59.8h.01M897.4 91.1h.01M896.6 80.7h.01M904.6 79.4h.01M907.3 71.8h.01M904 84.3h.01M906.5 107.9h.01M907.7 92.4h.01M911.3 75h.01M907.5 90.9h.01M924.1 99.8h.01M908.5 76.9h.01M913.1 92.7h.01M871.2 71.7h.01M858.8 71.5h.01M905.1 103.4h.01M946.7 91.6h.01M907.9 89.8h.01M886.9 73h.01M922 78.9h.01M900.5 65.2h.01M895.4 69.7h.01M859 101.2h.01M898.7 86.4h.01M914.1 63.2h.01M875.4 89.2h.01M944 94.1h.01M913.5 94.1h.01M872.9 72.8h.01M886.6 61.8h.01M908 75.7h.01M870.9 78.6h.01M864.2 87.5h.01M908.1 83.5h.01M897.9 74.2h.01M890.9 81.8h.01M895.5 85.3h.01M926.7 107.9h.01M907.6 90h.01M938.1 93.8h.01M886.3 74.5h.01M860.1 79.5h.01M894.1 86.5h.01M901.2 66.2h.01M941.1 98.3h.01M913.9 79.6h.01M911.9 89.3h.01M915 89.1h.01M881.4 69.1h.01M892.6 88.9h.01M915.6 78.1h.01M882.3 79.2h.01M956.2 90.6h.01M873.8 90.9h.01M920.2 84h.01M879.6 78.4h.01M905.4 88.7h.01M908.1 85.2h.01M921.3 90.9h.01M930.8 89.1h.01M888.3 60.2h.01M923.3 95.9h.01M893 101.4h.01M913.3 76.9h.01M907.5 75.4h.01M922.7 92.7h.01M863.5 75.8h.01M921.1 82.7h.01M923.1 85.1h.01M914.7 95h.01M901.7 81.5h.01M919.9 89.1h.01M921.2 98.2h.01M908.9 102h.01M860.9 75.7h.01M899.8 99.3h.01M897.9 76.1h.01M855.9 77.8h.01M921.7 82.2h.01M870.9 92.3h.01M924 78.6h.01M911.4 84.4h.01M871.4 69.5h.01M873.9 73.4h.01M921.5 92.3h.01M905.1 75.7h.01M893.4 82.5h.01M905.9 81.3h.01M872.6 88.8h.01M900.1 68.7h.01M855.3 83.8h.01M909.5 79.5h.01M893.1 86.7h.01M908.6 72.2h.01M904.6 68.6h.01M865.7 92.3h.01M892.1 72.1h.01M917.2 88.8h.01M915.3 82.3h.01M884.3 73h.01M917.1 95.5h.01M934.7 90.8h.01M910 93.6h.01M935.1 99.9h.01M900.6 81h.01M876.8 90h.01M892.3 104.4h.01M938.1 89.5h.01M901.2 92h.01M933.1 106.6h.01M911.1 93.5h.01M895.6 102.3h.01M918 94.2h.01M911.2 92h.01M857.5 69.6h.01M917 97h.01M884.6 106.5h.01M903.7 108.1h.01M909.1 78.4h.01M916.7 82.4h.01M929.8 91.9h.01M900.2 83.5h.01M929.7 80h.01M893.9 65.3h.01M913.7 81.7h.01M868.8 77.7h.01M917.6 102.4h.01M929.8 75.2h.01M876.9 85.9h.01M892.3 92.2h.01M919.1 69.6h.01M853.8 73.7h.01M894.8 106.5h.01M905.8 91.9h.01M930.9 95.5h.01M874.6 80.4h.01M872.1 86.3h.01M866.7 105.5h.01"/>
<path d="M902.1 91h.01M913.4 87.9h.01M902.5 70.7h.01M905.2 82.7h.01M919.9 97.4h.01M930.6 97.9h.01M917.6 75.4h.01M922.3 96.7h.01M898.7 100h.01M868.6 84.9h.01M921.3 105.3h.01M925.6 85.3h.01M894.5 67.3h.01M911.1 90h.01M888.7 82.8h.01M909.8 73.9h.01M913.4 109.1h.01M893.4 82.7h.01M881.6 76.7h.01M891.9 68.8h.01M895.7 69.2h.01M876.4 89.5h.01M881.1 77.5h.01M883.9 75.6h.01M901.4 76.7h.01M908.9 88.5h.01M888.8 97.7h.01M935.7 106.9h.01M895.3 87.6h.01M909.9 72.2h.01M919.5 86.1h.01M905.5 76.7h.01M920.5 79.6h.01M905.8 107.4h.01M905.7 78.5h.01M931.5 98.4h.01M900 72.8h.01M882.7 65.2h.01M924.6 86.4h.01M916 75.5h.01M912.2 96.2h.01M885.2 76.6h.01M913.5 83.3h.01M956 96.4h.01M920.4 95.7h.01M857.4 84.1h.01M915.2 65.6h.01M901.9 92.8h.01M880.2 69h.01M917.3 88.4h.01M894.4 98.4h.01M898 72.9h.01M898.4 79.1h.01M935.3 83.3h.01M877.3 76.3h.01M924.9 105.8h.01M890.2 67.4h.01M937.2 88.3h.01M924.5 84.4h.01M889.6 86.5h.01M900.9 84.8h.01M910.7 88.9h.01M896.5 83.4h.01M891.7 76.4h.01M861.5 80.6h.01M916.3 75.1h.01M864.9 80.1h.01M924.1 77.1h.01M915 80.3h.01M906.4 71.4h.01M909.4 103.1h.01M928.8 93.3h.01M918.6 88.5h.01M931.8 97h.01M927.5 88.5h.01M885.6 86h.01M885 62.4h.01M902.8 103.8h.01M927.9 102.6h.01M922.9 84.5h.01M927.4 106.8h.01M915.9 80.7h.01M857.9 81.1h.01M913.8 96.3h.01M913.8 80.3h.01M871.1 88h.01M928.9 97.4h.01M924 87.8h.01M902.8 76.2h.01M905.4 64.4h.01M927.4 83h.01M882.8 65.8h.01M872.5 63.8h.01M920 81.1h.01M872.3 87.3h.01M893 73.2h.01M911.9 92.7h.01M889 101.7h.01M901.9 91.8h.01M910.5 85.7h.01M931.5 87.9h.01M894.7 90.1h.01M946.8 104.3h.01M876.2 79.7h.01M921.9 102.4h.01M916.2 90.8h.01M902.8 82.1h.01M911 83.7h.01M904.1 94.9h.01M902.7 85.8h.01M862.6 90.3h.01M871.2 79.1h.01M921 90h.01M911.5 94.6h.01M922.1 100.5h.01M902.8 86.4h.01M867.2 86.1h.01M894.9 73.4h.01M878.8 57.9h.01M897 84.4h.01M902.9 62.8h.01M894.3 85h.01M886.4 62.7h.01M896.1 82h.01M908.8 90.2h.01M884.2 98.9h.01M900.4 77.6h.01M918.4 78.8h.01M896.1 76.9h.01M876.8 94.8h.01M900.2 76.9h.01M892.3 87.5h.01M944.1 95.9h.01M896.1 99.1h.01M861.2 80.9h.01M933.4 99.6h.01M906.9 78.9h.01M896.3 83.1h.01M878.6 67h.01M887.5 89.8h.01M879.4 71h.01M888.3 77.2h.01M931.4 92h.01M859.9 74.1h.01M918.2 90.8h.01M919.7 86h.01M933.6 85.2h.01M908.5 87.7h.01M936.8 89.9h.01M913.8 89.5h.01M904.3 110.7h.01M915.9 91.5h.01M913.2 106.4h.01M930.9 84.1h.01M911.2 71.4h.01M880.4 61.8h.01M903.6 82h.01M926 82.3h.01M921.6 88.2h.01M886.2 88.2h.01"/>
<path d="M911.5 80.2h.01M861.1 90.3h.01M922.8 92.2h.01M910.6 92.6h.01M930.7 88.1h.01M897.3 92.6h.01M914.3 83.9h.01M901.5 95.5h.01M879.7 87.6h.01M882.8 78.9h.01M885.6 86.8h.01M900.9 80.5h.01M901.9 85.5h.01M914.2 81.7h.01M858.5 95h.01M938.4 97.5h.01M924.8 83.4h.01M910.4 79.5h.01M904.8 81h.01M921.7 75.4h.01M882.9 95.9h.01M864.1 86.7h.01M862.8 90.4h.01M864.9 83.7h.01M906.1 81.9h.01M919.8 82.4h.01M911.7 78.5h.01M928.5 88.6h.01M914.4 81.2h.01M892.3 92.7h.01M892.7 71.2h.01M870.2 83.6h.01M909 81.4h.01M931.1 84.2h.01M934.2 88.6h.01M869.3 89.9h.01M883.3 68.1h.01M875.7 62.2h.01M883.9 89.8h.01M878.8 89.8h.01M924.4 90.3h.01M903.8 91.9h.01M920.9 89.7h.01M882.7 92.8h.01M875 75.1h.01M861.8 88.8h.01M864.6 92.1h.01M857.6 95.7h.01M881.7 77.2h.01M886.9 63.6h.01M847.2 60.2h.01M924.8 67.3h.01M900 82h.01M874.3 83.4h.01M901 70.2h.01M892.3 78.3h.01M910.6 82.4h.01M860.5 74.5h.01M893.5 74.5h.01M874.8 67.6h.01M888.2 74.2h.01M859 96.6h.01M910.4 91.9h.01M899 77.1h.01M888.9 90.9h.01M937.6 95.4h.01M867.6 95.3h.01M917.2 93.4h.01M920.2 78.7h.01M912.6 79.9h.01M857.6 71.6h.01M908.6 85.2h.01M898.7 86.1h.01M887.5 82.8h.01M907.4 65.4h.01M900.9 74.9h.01M902 78.2h.01M933.4 83h.01M907.4 81.9h.01M879.2 67.6h.01M893.6 74.2h.01M865.8 94.7h.01M879 67.9h.01M892.6 82.9h.01M868.2 67.1h.01M878.1 70.2h.01M901.2 94.8h.01M922.2 98.2h.01M918.8 86.2h.01M936.5 80.5h.01M906.5 93.1h.01M922.7 94.9h.01M897.9 76.5h.01M926.3 94.5h.01M924.4 86.7h.01M909.8 83.8h.01M905.5 88.2h.01M872 81.6h.01M899.3 104.9h.01M910.8 75.4h.01M903.1 88.1h.01M901 69.2h.01M897 80.5h.01M856.2 81.3h.01M915.7 81.4h.01M911.1 85.7h.01M891.9 76.1h.01M938.4 94.5h.01M888.2 75.9h.01M887.8 85.7h.01M916.4 88.1h.01M870 67.6h.01M879.5 101.6h.01M890 77.2h.01M898.2 100.4h.01M892.1 73.8h.01M928.4 98.4h.01M880.8 101.2h.01M909 88h.01M908.6 80.4h.01M890.2 77.4h.01M885 69.2h.01M877.6 99.7h.01M924.7 82.6h.01M884.8 65.4h.01M890.5 70.8h.01M903.8 88.4h.01M891.5 80.8h.01M912.1 96.4h.01M899.5 88.3h.01M917.5 90.4h.01M932.2 103.7h.01M902.3 79.4h.01M920.3 90.6h.01M909.2 82.9h.01M876.2 89.3h.01M895.6 91.9h.01M921.9 85.8h.01M888.2 76.7h.01M907.9 78.6h.01"/>
</g>
<g fill="none" stroke="#e6c38a" stroke-opacity="0.085" stroke-width="2.20" stroke-linecap="round">
<path d="M926.3 158.6h.01M901.3 134.6h.01M912.4 146.1h.01M879.3 154.9h.01M895.1 158.4h.01M910.7 152.5h.01M878.5 137.7h.01M910.2 152.1h.01M869.6 156.7h.01M901.2 152.4h.01M875.2 147.6h.01M886.9 169.6h.01M898.2 155.9h.01M903.3 152.3h.01M904.6 160.8h.01M898.1 161.4h.01M915.9 155.8h.01M877.1 161h.01M864.1 140h.01M862.8 174.2h.01M871.7 151.7h.01M913.5 161.7h.01M923.2 154.1h.01M904 183.2h.01M881.9 151h.01M928.4 136.4h.01M906.1 165.7h.01M911.3 171h.01M891.4 179.6h.01M871.5 151.9h.01M899.1 160.4h.01M914.2 146.2h.01M880 158.9h.01M870.3 162.4h.01M897.2 173.8h.01M934.2 170.8h.01M873.4 148.4h.01M865.6 142.2h.01M899.7 156.2h.01M878.8 157.1h.01M902.8 154.9h.01M863.6 142.1h.01M894.8 163.7h.01M904.8 159h.01M871.7 143.6h.01M901 158.9h.01M868.9 148.8h.01M870.1 148.9h.01M884.9 150.4h.01M915.1 155.6h.01M897 147.8h.01M878.9 154.4h.01M906 161.8h.01M890.5 168.2h.01M930.5 157.7h.01M923.4 159.1h.01M902.8 170.6h.01M897.7 174.5h.01M865.3 140.3h.01M910.5 144.5h.01M904.5 176.6h.01M869 160.3h.01M915.8 159h.01M872.2 126.1h.01M890.5 159.6h.01M863 160.3h.01M900.7 162h.01M929.8 153.4h.01M911.9 152h.01M864.5 145.4h.01M910.9 182.9h.01M890.8 164.5h.01M894.5 157.7h.01M917.1 163.9h.01M893.2 150.5h.01M917.4 149.8h.01M869.1 145.6h.01M895.8 152.5h.01M898.9 126.9h.01M912.1 153h.01M901.3 159.3h.01M912.5 157.9h.01M891.3 165.7h.01M916 158.4h.01M915.9 152.1h.01M903.3 166.8h.01M859.1 165.4h.01M907.6 172.1h.01M906.8 151.5h.01M899.1 163.5h.01M888.4 167.7h.01M915.2 121.8h.01M924.5 154.7h.01M862.5 147.5h.01M881 168.5h.01M905.4 148.3h.01M894 181.7h.01M868.7 148.7h.01M893.8 158.3h.01M901.3 178.3h.01M900.3 156.4h.01M872.7 142.4h.01M878.1 158.6h.01M903.9 145h.01M874.8 133.4h.01M901.5 162.1h.01M905.9 163.2h.01M907.9 150.5h.01M889.1 169.2h.01M881 151h.01M892.9 146.8h.01M910 158.9h.01M877.9 130.2h.01M905.3 168h.01M913.3 161h.01M911.3 172.4h.01M893.8 181.8h.01M887.7 148.4h.01M871.9 127.2h.01M902.9 165.1h.01M901.2 154.2h.01M910.8 168.8h.01M913.6 143.2h.01M924 155.8h.01M894.3 168.7h.01M910.1 167.6h.01M909.1 156.6h.01M918.8 150.2h.01M867 155.6h.01M910.3 160.4h.01M910.7 171.6h.01M898.2 150.5h.01M910.4 166.4h.01M897.1 162h.01M871.9 131.1h.01M877.1 162.2h.01M914.3 166.3h.01M917.7 160.2h.01M900.8 163.5h.01M901.7 169h.01M880.4 169.2h.01M887.3 174.9h.01M910.2 130.6h.01M877.5 144.9h.01M869.6 141.9h.01M914.1 143.2h.01M902.4 179.4h.01M874.5 161.2h.01M933.5 156.6h.01M905.3 182.2h.01M898.3 156.2h.01M883.8 159.4h.01M913.2 161.6h.01M874.9 147.5h.01M916.6 147.2h.01M918.1 160.9h.01M895.4 151.6h.01M919.4 170.3h.01M915.8 155.5h.01M868.7 157h.01"/>
<path d="M898.6 151.2h.01M898.3 163.4h.01M909.2 172.2h.01M887.9 174.2h.01M903 128.9h.01M901.3 139.2h.01M874.4 162.9h.01M870.9 142.5h.01M887.4 151.7h.01M908.2 158.5h.01M920.2 162h.01M888.8 136.7h.01M906.6 163.1h.01M864.1 150.5h.01M876.2 167.1h.01M867.8 144h.01M907.8 163.5h.01M870.6 163.6h.01M897 141.9h.01M872.8 182.5h.01M894.7 158.9h.01M908 172.4h.01M907.1 158.3h.01M854.7 143.2h.01M901.6 167.5h.01M908.1 154.5h.01M872.6 134.4h.01M880.9 164.8h.01M919.3 152.3h.01M912.2 145.5h.01M864.3 145.4h.01M898.3 168.7h.01M865.8 154.4h.01M908.5 158.4h.01M909.9 153.2h.01M926.4 171.7h.01M919.5 168h.01M910.1 140.7h.01M918.9 161.2h.01M889.3 140.1h.01M904.2 177.8h.01M916.1 163.6h.01M914.6 153.6h.01M915.7 182.8h.01M904.3 146.4h.01M902.4 159.5h.01M909.5 157.3h.01M933.1 148.6h.01M879.7 149.5h.01M900.2 155.9h.01M886.9 139.2h.01M864.1 151.8h.01M914.4 177.7h.01M906.5 165.1h.01M895.8 126.2h.01M922.8 170.2h.01M902.1 149.2h.01M894.7 172.5h.01M892.5 163.6h.01M931.8 137.8h.01M921.9 163.9h.01M884.8 151.5h.01M882.7 140.7h.01M885.8 166.4h.01M901 162.3h.01M908 147.3h.01M872 164.3h.01M899.8 158.4h.01M908.4 149.4h.01M911 154.7h.01M886.2 152.3h.01M882.9 150.5h.01M889.4 148.6h.01M902.4 163.2h.01M912.8 153.9h.01M921.5 159.6h.01M896.8 166.7h.01M871 165.9h.01M903.7 156.9h.01M911 159.7h.01M890.5 151.4h.01M862 156h.01M912.6 149.9h.01M924.3 172h.01M898.7 156h.01M905.7 153h.01M874.2 150.3h.01M899.7 159.3h.01M924.8 175.6h.01M901.1 142.4h.01M915.5 152.3h.01M866.7 162.4h.01M889.5 169.1h.01M901.8 166.2h.01M921.7 181.4h.01M896.2 166h.01M874 129.5h.01M901.4 163.6h.01M905.6 148.5h.01M911 143.1h.01M913.9 148.2h.01M902.6 167.5h.01M884.4 145.3h.01M901.7 164.8h.01M916.4 146.8h.01M904.3 156.5h.01M905.9 159.3h.01M887.9 155.7h.01M882.9 158h.01M904.8 149h.01M912.3 165.5h.01M911.7 152.9h.01M927.2 135.7h.01M911.3 165.2h.01M915 148.9h.01M875.9 138.1h.01M897.8 151.9h.01M914.5 140.5h.01M912 151.6h.01M911.8 167.4h.01M899.9 154.6h.01M894.2 178.7h.01M852.2 158.7h.01M901.1 166.7h.01M879.3 175.5h.01M921.5 158.5h.01M910.9 165.6h.01M900.4 172.5h.01M868.2 165.5h.01M907.2 144.1h.01M871.2 150.8h.01M864.7 136.3h.01M898.7 163.9h.01M916.3 172.2h.01M875.8 165h.01M897.5 165h.01M911.8 152.4h.01M899.2 173.7h.01M899.8 164.5h.01M855.1 142.1h.01M909 171h.01M932.7 161.1h.01M889.3 149.2h.01M870.3 154.4h.01M909.3 157.2h.01M886.5 152.6h.01M867.6 148.4h.01M899.9 160.9h.01M900.9 179.4h.01M893.7 154.3h.01M924.6 157.7h.01M930.3 161.5h.01M894.8 170.9h.01M890.4 148.5h.01M927.8 177.9h.01M889.6 157.1h.01M923.4 164.9h.01M857.5 153.6h.01M897.5 137.4h.01M880.8 160.8h.01"/>
<path d="M898.7 176.9h.01M883.9 149h.01M914.7 153.1h.01M896.4 154.9h.01M888.6 161.2h.01M902.9 164.3h.01M857.1 169.1h.01M906.4 163.1h.01M883.4 159.1h.01M929.7 167.3h.01M921.2 152.6h.01M912.2 161.9h.01M908.8 162.9h.01M883.5 148.3h.01M875.3 163h.01M915 168.3h.01M912.5 153.8h.01M927.4 142.2h.01M914 155h.01M891.8 148.6h.01M893.8 174.8h.01M926 171.1h.01M865.4 155.7h.01M900.5 163h.01M861.2 163h.01M906.2 181.2h.01M869.7 156.2h.01M856.5 148.6h.01M914.4 168.3h.01M906.6 172.4h.01M898.7 144.8h.01M910.9 146.4h.01M892.3 161.4h.01M896.5 159.5h.01M904.4 137.6h.01M890.9 153.5h.01M909.8 141h.01M885.7 152.2h.01M905.1 137.1h.01M904.2 143.7h.01M914.1 161.4h.01M919.1 162.9h.01M905.6 174.7h.01M907.2 165h.01M911.1 151.4h.01M910.8 143.3h.01M911.1 148h.01M876.1 140.8h.01M865.9 144.2h.01M873.4 164.2h.01M873.6 137h.01M869.1 138.2h.01M910.3 172.1h.01M936.4 178.3h.01M873 155.5h.01M885.7 161.6h.01M902.8 151.6h.01M914.6 158.5h.01M872.8 139.6h.01M898.1 156.4h.01M866.4 145.8h.01M898.2 156.8h.01M906.7 142.9h.01M911.6 175.1h.01M873.6 173.4h.01M914.4 164.2h.01M884.7 171.4h.01M897.7 167.2h.01M874.5 155.3h.01M904.1 149.1h.01M904.2 150h.01M868 150.6h.01M901.4 152.9h.01M900.8 149.6h.01M911.9 158.7h.01M902.5 160.1h.01M928.4 149.5h.01M909.8 163.9h.01M934.6 144.7h.01M887.9 150.5h.01M895.1 161.2h.01M913 152.3h.01M884.6 153.6h.01M874.7 174.9h.01M869 140.3h.01M903.7 162.3h.01M900 140.9h.01M858.3 162h.01M899.6 160h.01M899.8 154.9h.01M854.5 162.8h.01M914.6 161h.01M903.9 166.5h.01M911.5 162.2h.01M909 174.8h.01M923.9 162.9h.01M922.7 181.9h.01M921.1 174.6h.01M912.8 151.3h.01M892 132h.01M908.8 155.1h.01M880.5 159.2h.01M915.2 177.7h.01M899.7 160.4h.01M911.2 169.9h.01M921.6 151.1h.01M919.9 152.2h.01M906.2 168.2h.01M920 168.5h.01M893.7 135.1h.01M894.5 155.2h.01M871.1 136.5h.01M894.2 157h.01M912 150.4h.01M907.5 150.2h.01M877.1 146.7h.01M908.3 152.5h.01M896.5 146h.01M895.4 173.7h.01M870.4 132.4h.01M918.3 152.8h.01M872.4 159.7h.01M914.7 147.2h.01M886.1 140.4h.01M895.2 150.9h.01M906.7 149h.01M897.4 161.6h.01M875.1 157.1h.01M859.9 139.9h.01M900.1 144.6h.01M901.7 154.5h.01M887.7 172.7h.01M897.8 153.5h.01M912.9 169.8h.01M884.3 127.3h.01M926.5 162.2h.01M881.4 167.7h.01M913.9 166.3h.01M904.1 153.4h.01M905.8 174.4h.01M873.4 155.2h.01M909.7 152.9h.01M868.3 152.3h.01M881.7 145.9h.01M906.7 129.3h.01M888.9 159.8h.01M918.7 172.6h.01M872.7 154.7h.01M862.5 166.1h.01M904.4 145.9h.01M924.1 164.5h.01M869 146.5h.01M923.6 157.5h.01M910.5 161.8h.01M915.9 155.7h.01M903.8 164.2h.01M911.7 171.4h.01M921 162.7h.01M889.7 173.1h.01M883.2 145h.01"/>
<path d="M913.4 167.2h.01M901 161.6h.01M899.9 146.4h.01M899.7 150.9h.01M898 142.4h.01M885 153.3h.01M867.9 157.7h.01M919.6 151.4h.01M904.3 169.7h.01M869.7 139.7h.01M883.3 158.5h.01M886.7 164.6h.01M905.1 168.7h.01M924.1 146h.01M902.8 161.1h.01M908.5 157.3h.01M872.5 138.9h.01M884 139.1h.01M873.3 147.6h.01M901 170.2h.01M869.1 169.6h.01M876 169.4h.01M898.1 144h.01M927.7 159.4h.01M880.5 158h.01M886.6 166.2h.01M863.3 155.6h.01M906.1 152.8h.01M899.6 164.6h.01M922 174.4h.01M895.4 175.4h.01M912.9 166.5h.01M868.2 148.4h.01M915.8 169.6h.01M896.9 146.6h.01M902.9 169.7h.01M907 165.8h.01M907.1 152.3h.01M899.2 157.9h.01M891 155h.01M890.3 153.2h.01M908 145.7h.01M898.6 151.1h.01M899 146h.01M914.4 156.6h.01M915.6 158h.01M914.5 151.8h.01M901.2 149.7h.01M904.8 143.6h.01M912.6 146h.01M898.3 164.4h.01M906.3 157.2h.01M882.5 165.7h.01M889.1 166.9h.01M923.7 166.5h.01M902.5 160h.01M860.3 159.7h.01M875.4 160.5h.01M884.8 166.2h.01M892.4 164h.01M874.1 170.3h.01M903.5 160.4h.01M895.7 162.7h.01M890.9 133.2h.01M896.6 135.8h.01M895.2 166.5h.01M898.1 159.7h.01M917.5 163.5h.01M919.1 141.6h.01M912 160.9h.01"/>
</g>
<g fill="none" stroke="#b9504c" stroke-opacity="0.15" stroke-width="2.50" stroke-linecap="round">
<path d="M791.2 341h.01M778.5 316.2h.01M805.9 319h.01M797.5 318h.01M775.7 342h.01M807.3 323h.01M806.5 320.5h.01M810.2 326.3h.01M810.8 318.6h.01M820.3 321.8h.01M807.4 320.3h.01M796.3 323.1h.01M801.4 320.6h.01M798.6 327.1h.01M803.7 318h.01M830.4 322.9h.01M771.2 325.8h.01M788.7 338.1h.01M805.9 324.3h.01M815.7 324.5h.01M806.9 323h.01M800.2 325.8h.01M815.5 319.4h.01M811.3 323.8h.01M806.5 326.7h.01M805.8 316h.01M785.3 343.2h.01M808.2 324.5h.01M803.4 314.7h.01M814.7 320h.01M813.2 315.1h.01M792.2 317.1h.01M782.4 309.8h.01M799.7 333.2h.01M803 339.1h.01M805.4 323h.01M775.6 338.6h.01M778.9 343.7h.01M810.1 329.3h.01M792.3 331.3h.01M797.1 323.3h.01M808.3 319.8h.01M811.8 333.8h.01M803.9 328.4h.01M811.7 320.4h.01M804.2 323.4h.01M786.4 343.8h.01M798.2 316.5h.01M822.6 320h.01M794.9 319.9h.01M809.6 328.3h.01M807.2 326.8h.01M808 334.7h.01M795.6 316.7h.01M789.6 322.9h.01M776.1 339h.01M780.3 316h.01M775.4 315.9h.01M816.4 324.9h.01M804.3 324.7h.01M809.4 324.9h.01M812.1 323.5h.01M780.6 352h.01M802.3 329.4h.01M762.6 355.4h.01M779.6 316.3h.01M816 330h.01M795.9 316.9h.01M804.6 313.9h.01M804.2 325.6h.01M762.6 348.7h.01M798.6 317.7h.01M809.6 312.2h.01M800.6 321.5h.01M799.2 322.4h.01M806.5 326.2h.01M776.6 348.3h.01M790.2 318h.01M786.8 312h.01M789 324h.01M804 321.3h.01M799.2 327.3h.01M800.8 316.4h.01M795.6 326.2h.01M802.1 326.8h.01M808.2 321.2h.01M796.2 322.7h.01M806 324.5h.01M782.6 352.2h.01M804.6 313.4h.01M799.1 321.4h.01M788.2 305.7h.01M816 322.6h.01M795.4 325.8h.01M803.5 322.3h.01M791.6 323.3h.01M799 318.4h.01M821.6 325h.01M820.9 322.4h.01M806.7 319.3h.01M817.7 325.5h.01M780.6 349.8h.01M805.6 327.5h.01M807.8 329.1h.01M781.6 342.8h.01M814.5 310.9h.01M802.2 321.8h.01M814.8 329.6h.01M809.4 323.6h.01M787.6 323.5h.01M785.9 312.4h.01M791.3 337h.01M806 326.5h.01M806.3 326.3h.01M764.1 343.2h.01M793.3 319.6h.01M771.1 344.4h.01M806.5 323.3h.01M792.6 322.1h.01M779.2 337.8h.01M800 319.2h.01M817.8 334.1h.01M813.9 326.2h.01M774.3 352.4h.01M807 327.5h.01M809.7 326.4h.01M768.3 349.6h.01M816.4 316.7h.01M810.7 319.6h.01M814.3 322h.01M810.1 328.1h.01M806.3 321h.01M806.9 321.7h.01M783.7 324h.01M808.3 321.1h.01M799.2 320.3h.01M798 321.9h.01M808.2 326.6h.01M801.7 328.7h.01M798.3 330.2h.01M807.2 321.4h.01M803 321.3h.01M803.2 313.6h.01M789.8 324.3h.01M802.2 321.9h.01M792.1 316.1h.01M799.3 319.2h.01M790.3 323.2h.01M799.8 323.1h.01M809.3 323.8h.01M785.4 328.5h.01M798.2 327.3h.01M815.3 318.6h.01M815.3 326.8h.01M803.1 325.1h.01M789.4 322.8h.01M768.3 345.9h.01M804.8 314.1h.01M759.7 340.6h.01M805.7 322h.01"/>
<path d="M797.5 341.2h.01M813.7 321.1h.01M793.8 333.3h.01M771.9 356.3h.01M796.9 322h.01M803.6 326.6h.01M780.6 339.7h.01M798.8 329.4h.01M791.9 354.2h.01M802.1 322.4h.01M799.1 319.2h.01M776.7 332h.01M785.2 339.6h.01M804.8 325.9h.01M806.6 327.7h.01M818.4 332.8h.01M804.9 325.6h.01M802.6 322.3h.01M797.7 329h.01M790.5 325.5h.01M785.9 348.2h.01M787.6 334.5h.01M792.6 320.2h.01M782.7 345.6h.01M806.9 317.4h.01M795.5 320.2h.01M781.6 348.3h.01M800.5 327.7h.01M785.4 354.4h.01M786.3 318.3h.01M804.4 347.9h.01M802.8 316.5h.01M787.5 334.8h.01M817.5 321.8h.01M796 324.8h.01M790.4 318.3h.01M777.1 337.4h.01M809.3 319.7h.01M770.2 350.9h.01M806.6 323.6h.01M820.4 317.3h.01M802.6 320.6h.01M800 326.4h.01M800.7 323.2h.01M808.5 321.1h.01M801.5 319h.01M789.3 353.7h.01M799.7 316.1h.01M798.6 314.1h.01M806.2 324.5h.01M803.1 327.9h.01M817.4 322.6h.01M810.3 319.9h.01M799.9 313h.01M807.4 331h.01M788.7 326.3h.01M789.2 318.8h.01M800.1 326h.01M785.3 326.4h.01M797.3 316.1h.01M803 323.4h.01M799.4 323.5h.01M771.5 349.4h.01M773.6 335.5h.01M800.9 322h.01M812.3 333.3h.01M782.9 325.8h.01M804.3 328.6h.01M797.5 329h.01M809.2 330.5h.01M796.7 331.6h.01M801.4 320.3h.01M799.5 316.1h.01M794.5 318.8h.01M793.8 323.7h.01M814.7 319.2h.01M795.6 321.9h.01M775.1 353h.01M806.1 329.1h.01M780 345.2h.01M801.6 319.7h.01M767 341.6h.01M789.6 348h.01M791.1 335h.01M812.3 325.4h.01M795.9 328.3h.01M785.7 310.7h.01M820 326.1h.01M788.6 336.1h.01M772.9 344.4h.01M813.3 326.3h.01M767.6 355.6h.01M794.9 323.2h.01M785.6 323.5h.01M808.2 325h.01M791.7 321.7h.01M797.8 319.2h.01M802.6 320.8h.01M804 310.1h.01M797.5 318.3h.01M810.4 327.6h.01M794.8 328.3h.01M800.7 325.4h.01M818.6 322.9h.01M796.3 326.1h.01M805.6 331.2h.01M802.9 318.6h.01M801.6 324.8h.01M812.6 318.7h.01M799.2 328.3h.01"/>
</g>
<g fill="none" stroke="#d4687c" stroke-opacity="0.16" stroke-width="2.50" stroke-linecap="round">
<path d="M863.7 365.5h.01M865.9 359.5h.01M863.5 363.7h.01M869.2 362.2h.01M867.9 363.4h.01M868.7 363.2h.01M869.1 363.9h.01M872.3 360.9h.01M868 364.4h.01M866.7 363.5h.01M871.3 364h.01M867.6 360.9h.01M866.6 362.1h.01M866.7 360.9h.01M868.2 363.4h.01M870.4 364h.01M862.7 361.4h.01M869.5 364.9h.01"/>
</g>
<g fill="none" stroke="#8fa7bb" stroke-opacity="0.13" stroke-width="2.50" stroke-linecap="round">
<path d="M918.5 326.2h.01M908.3 377.3h.01M908.8 349.6h.01M908 344.3h.01M917.7 325.7h.01M910.2 351.4h.01M910.7 350.1h.01M899.7 371.8h.01M906.8 357.8h.01M912.6 336.9h.01M905.6 362.1h.01M897.1 371.7h.01M899.1 391.3h.01M896.7 380.3h.01M907.8 363.6h.01M914.8 336.9h.01M912.2 337.3h.01M907.1 365.5h.01M911.2 346.5h.01M907.7 330.6h.01M906.3 368.5h.01M905 362.4h.01M918.6 351.2h.01M909.1 347.9h.01M897.8 382.2h.01M901 375.2h.01M910.5 321.3h.01M909 345.4h.01M915.3 354.4h.01M902.6 366.6h.01M913.1 350.3h.01M913.2 339.8h.01M910.2 356.6h.01M919 332.8h.01M905.8 361.3h.01M914.7 332h.01M904.9 366.9h.01M903.7 371.3h.01M894.8 392.1h.01M900.9 381.9h.01M919.1 348.1h.01M899.8 369.9h.01M897.9 390.8h.01M915.4 325.1h.01M926.5 342.4h.01M920.6 335.3h.01M913.9 350.5h.01M922.2 331.3h.01M915.7 348h.01M906.6 331.6h.01M915.5 341.3h.01M917 327.9h.01M890.7 384.9h.01M925 329h.01M915.7 338.1h.01M891.5 383.2h.01M901.9 371.6h.01M918.8 337.7h.01M920.6 316.4h.01M916.9 344.7h.01M914 331.1h.01M915.4 350.7h.01M912.8 351.1h.01M908.3 353.2h.01M904.9 361.1h.01M915 325.9h.01M912.9 343.7h.01M893 397.4h.01M904 358.5h.01M890 401.5h.01M908.5 342.6h.01M907.7 353.4h.01M914.2 353.1h.01M910.2 344.9h.01M915 343.6h.01M920.3 340.2h.01M898.8 381h.01M911.5 328.1h.01M896.6 390.4h.01M915.7 339h.01M920.5 332.6h.01M909.7 355.2h.01M900.9 381h.01M916.9 335.3h.01M907.2 360.8h.01M913.2 347.5h.01M904.8 354.7h.01M899.4 374.9h.01M915.4 346.3h.01M910.4 342.5h.01M893.5 401.5h.01M909 368.7h.01M896.4 391.1h.01M914.8 353.5h.01M918.4 353.3h.01M917.9 345.2h.01M916.4 337.2h.01M896.5 387h.01M905.3 364.5h.01M910.2 345.2h.01M923.7 324.6h.01M915.4 346.6h.01M915.8 337.3h.01M915.9 335.9h.01M918 339.6h.01M910.6 358.5h.01M917.2 344.3h.01M912.9 347.7h.01M918.3 334.1h.01M899.2 388h.01M917 336h.01M891.7 394.2h.01M896.7 384.6h.01M919.8 328.6h.01M923 333.5h.01M897.3 385.8h.01M907.8 335.3h.01M900.4 366.7h.01M917.2 343.6h.01M900.2 378.8h.01M924.4 336.8h.01M912.8 340.1h.01M916.2 349.6h.01M917.5 349h.01M923.1 333.2h.01M918.8 333.5h.01M900 370.9h.01M912.5 337h.01M898.5 376.8h.01M911.3 350.4h.01M911.2 337.7h.01M915.6 350.2h.01M901 369h.01M909.3 339.8h.01M887.6 396.9h.01M918.8 344.3h.01M924.1 340.3h.01M886.7 402.2h.01M915.6 354.7h.01M915.9 334h.01M917.3 333.1h.01M914 335.4h.01M921 327.3h.01M909.2 358.8h.01M924.3 341.3h.01M905.5 344.8h.01M905.8 358.5h.01M910.6 347.4h.01M914.8 349.4h.01M893 385.1h.01M912.8 342.4h.01M914.2 353.6h.01M915.2 339.3h.01M904 363.7h.01M899.8 362.3h.01M903.1 367.4h.01M916.4 341.6h.01M891.7 391.4h.01M918.2 330.6h.01M916.8 333.8h.01"/>
<path d="M915.2 332.8h.01M900.6 381.9h.01M905.9 368.3h.01M903.3 367.9h.01M904.1 377.9h.01M895.2 379.2h.01M903.6 358.7h.01M908.1 354.9h.01M916.1 349.8h.01M920.3 346h.01M909.8 346h.01M908.5 333.6h.01M920.3 338.8h.01M898.5 370.5h.01M916.9 343.6h.01M908.6 345.2h.01M915.5 343.8h.01M911.1 354h.01M907.2 343.3h.01M898 369.6h.01M897.2 383.7h.01M918.2 340.4h.01M896.4 367.2h.01M888.3 405.4h.01M924.2 339.2h.01M911.1 337.2h.01M915.3 330.6h.01M905.4 357.5h.01M895.1 378.5h.01M899 386h.01M903.2 358.3h.01M893.6 391.3h.01M913.5 352.2h.01M903.2 359.7h.01M927.2 331.6h.01M911.8 333.1h.01M917.1 348.4h.01M910.2 360.6h.01M910.8 348.3h.01M905 371.6h.01M923.1 354.3h.01M901 378.8h.01M909.1 364.1h.01M905.7 364.3h.01M909.8 353.9h.01M905.8 349.7h.01M915.9 325.6h.01M892.4 395.2h.01M923.7 342.6h.01M895.1 397.1h.01M914.7 355.9h.01M901.3 378.6h.01M917.3 349.4h.01M906.8 345.9h.01M918.1 330.5h.01M900.6 386.8h.01M890.8 376.3h.01M907 351.2h.01M909.8 327h.01M891.9 378.8h.01M913.5 346.6h.01M916.8 344.6h.01M912.9 337.6h.01M918.4 345.2h.01M911.5 347.5h.01M891.8 387h.01M911.6 352.1h.01M913.3 324.6h.01M918.2 322.6h.01M914.8 345.8h.01M895.2 389.6h.01M900.8 368.7h.01M901.5 374.1h.01M922.9 336.8h.01M906.5 345.6h.01M917.4 326.8h.01M918.9 328.5h.01M911.3 352.5h.01M912.5 340.3h.01M895.1 392.7h.01M918.4 348.6h.01M896.4 376.5h.01M910 370.2h.01M909.5 345h.01M918.2 331.6h.01M913.1 342.1h.01M915.5 345.1h.01M918.5 359.6h.01M927.2 325.9h.01M912.4 333.6h.01M902.9 370.3h.01M917.5 334.5h.01M909.1 350.4h.01M910.4 345.1h.01M908.4 361.5h.01M901.3 353h.01M918 309.7h.01M912.2 329.5h.01M913.6 328h.01M912.1 350.8h.01M912.7 347.5h.01M915.8 344h.01M897.5 373.7h.01M901.3 363.3h.01M912.5 334.3h.01M910 345.2h.01M921.2 334.4h.01M909.5 348h.01M916.6 343.2h.01M913.2 352.8h.01M888.5 394.3h.01M924.3 342.1h.01M909.7 360.6h.01M913.7 340.4h.01M886.5 391.3h.01M910.6 329.8h.01M909.5 353.1h.01M907.5 355.6h.01M918.7 333.4h.01M886.7 403.2h.01M911.4 349.9h.01M923 341.1h.01M920.7 333.2h.01M890.5 403.6h.01M908.4 350.4h.01M905.4 379.7h.01M912.5 335.6h.01M929.6 329.1h.01M921.6 323.3h.01M919.4 331.2h.01M893.5 387.6h.01M921 356.3h.01M914 315.9h.01M912 357.7h.01M912.8 341.1h.01M913.9 347.4h.01M906.9 344.4h.01M920.5 353h.01M901.1 380h.01M926 332.9h.01M912.6 354.3h.01M903.4 373.9h.01M898.6 390.7h.01M896.5 382.4h.01M918 353.3h.01M915.3 342.1h.01M904.1 358.5h.01M908.1 342.9h.01M914.9 360.6h.01M920.4 337.4h.01M909.7 346.4h.01M911.5 331.6h.01M906.4 355.9h.01M920.3 325.3h.01M918.2 339.9h.01M903.1 365.2h.01M912.5 348.1h.01M917.8 337.9h.01M910.3 351.8h.01M902.5 336.1h.01"/>
<path d="M913.7 338.6h.01M900.5 376.9h.01M906.7 338.5h.01M899.9 377.9h.01M922.5 338.7h.01M917.2 336.4h.01M919.9 337.5h.01M901.7 360h.01M910.9 340.2h.01M931.2 325h.01M901 373.5h.01M915.4 341.1h.01M899.9 345.3h.01M891.7 410h.01M925.1 340.2h.01M913.1 347h.01M902.7 382h.01M901.9 382h.01M895 387.5h.01M897.6 386.8h.01M913.1 338.3h.01M917.3 322.6h.01M890.7 395.7h.01M917.7 341.5h.01M905.2 351.9h.01M900.4 367.3h.01M922.7 340.1h.01M896 385.3h.01M918.8 354.3h.01M905.9 364.3h.01M916.5 317.1h.01M893.2 382.6h.01M915.2 324.9h.01M911.6 344.7h.01M909.6 360.1h.01M908.3 361h.01M919.7 344.4h.01M912.3 344.6h.01M912 350.3h.01M909 369.2h.01M910.2 322.8h.01M913.2 348.8h.01M903.1 369.7h.01M909.5 357.5h.01M920.6 358.3h.01M901 378.8h.01M921.8 323h.01M894.2 393.1h.01M901.9 374.6h.01M906.8 334.3h.01M902.2 381.3h.01M915 334.4h.01M901.1 379h.01M900.4 385.9h.01M891.2 393.5h.01M898.9 371.7h.01M918.3 353.1h.01M922.4 332.2h.01M896 396.3h.01M893.8 390.3h.01M915.6 347.4h.01M903 349.2h.01M912 332.1h.01M904.6 365h.01M888.9 396.1h.01M905.7 370.4h.01M916.9 339.9h.01M908.9 363.4h.01M915.6 336.1h.01M913.2 337.7h.01M912.7 344.9h.01M889.7 410.5h.01M909.2 345.5h.01M894.8 368.8h.01M913.8 350.7h.01M910.2 350.5h.01M913.3 348.4h.01M917.7 347.9h.01M905.1 365.7h.01M912.8 336.6h.01M908.7 356.4h.01M914.4 360.1h.01M914.4 342.5h.01M920.2 318.4h.01M915.6 343.2h.01M908.2 343.1h.01M905.9 356h.01M890 399.2h.01M900.4 347h.01M909.3 345.6h.01M914.5 342.6h.01M895 392.7h.01M898.4 371.4h.01M913.4 339.4h.01M918 338.6h.01M901.2 371.5h.01M902.5 372.1h.01M920.5 338.3h.01M913.9 336.8h.01M907.5 356.3h.01M910.5 360h.01M900.2 375.4h.01M920.5 330.9h.01M922.4 338.4h.01M912.6 340.8h.01M916 341.9h.01M899.5 374.1h.01M914.2 336.9h.01M913.2 341.3h.01M915.8 339.2h.01M891.5 392.5h.01M896.1 374.7h.01M911.1 344.7h.01M913.8 366.4h.01M890.8 397.9h.01M919.9 329.6h.01M904.8 327.8h.01M907.1 372.5h.01M915.3 338.8h.01M891.8 394.6h.01M901.5 375.2h.01M906.2 366.1h.01M906.3 363.4h.01M910.4 333.4h.01M908.5 365.4h.01M917 329.8h.01M920.8 336.3h.01M911.2 354.1h.01M915.7 318.9h.01M907 353.8h.01M905.7 361.3h.01M924.2 347.5h.01M910.8 341.8h.01M908.4 351.3h.01M908.5 325h.01M911.4 337.4h.01M908 357.2h.01M903.5 363.2h.01M922.6 355.6h.01M908.8 351.6h.01M896.2 383.9h.01M907.4 351.7h.01M917 326.7h.01M901.3 371.7h.01M903.1 376.5h.01M903.5 364.9h.01M892.2 394.6h.01M901.4 364.9h.01M906 348.1h.01M906.9 361h.01M918.2 340.3h.01M913.2 339.3h.01M907.6 362.4h.01M907.4 349.3h.01M916.4 317.4h.01M890.4 396.5h.01M885.9 398h.01M914.1 354.6h.01M909.6 341.3h.01M909.5 338.2h.01"/>
<path d="M887.6 400.1h.01M911.9 353.9h.01M886.1 408.8h.01M911.6 357.4h.01M913.7 340.2h.01M909.5 348h.01M920.1 338.3h.01M919.2 344.1h.01M903.4 360.5h.01M907.6 350.7h.01M918.6 352.9h.01M907.1 339.8h.01M910.6 343.7h.01M900 379h.01M914.6 339.6h.01M920 340.8h.01M904.3 375.7h.01M901.5 366.6h.01M906 337.2h.01M912.9 332.3h.01M913.2 333.1h.01M913.6 344h.01M911.7 354.8h.01M915.1 337.5h.01M910.6 334.2h.01M895.5 380.8h.01M912.8 349.5h.01M913.6 341h.01M913.1 344.9h.01M892.4 402.5h.01M916.3 339.8h.01M914 360.2h.01M895.4 378.9h.01M902.3 367.7h.01M920.1 328.3h.01M895.1 391.1h.01M927 332.9h.01M911.3 343.9h.01M903.7 373.9h.01M908.6 326.6h.01M898.7 374.5h.01M912.7 328.3h.01M914.8 328.8h.01M923.2 328.1h.01M924.7 355.1h.01M931.9 326.1h.01M900.1 372.3h.01M920.4 339.9h.01M917.7 324.7h.01M905.5 354.7h.01M907.6 362.4h.01M916.2 349.5h.01M905.3 366.6h.01M911.1 335.6h.01M903.5 362.8h.01M912.7 331.1h.01M906.3 360.4h.01M905.5 353.3h.01M909.6 335.2h.01M898.2 377.5h.01"/>
</g>
<g fill="none" stroke="#8fa7bb" stroke-opacity="0.1" stroke-width="2.50" stroke-linecap="round">
<path d="M870.7 355.3h.01M893.4 362.7h.01M887.1 359.3h.01M867.1 360.9h.01M892.4 362.7h.01M876.9 358.1h.01M888.8 359.9h.01M891.7 362.8h.01M888.6 364.6h.01M897.3 360.3h.01M868.4 355.8h.01M864.1 364.7h.01M877.9 362.8h.01M886.6 356h.01M883.9 363.2h.01M886 368h.01M886.8 366.3h.01M887.7 364.9h.01M877.9 365.6h.01M901.1 357.3h.01M871.5 358.8h.01M874.6 357.6h.01M882.5 354.5h.01M889.2 368.6h.01M873.9 362.3h.01M877.1 362h.01M874.9 362.5h.01M883.1 363.6h.01M893.6 361.7h.01M886.6 363.9h.01"/>
</g>
<g fill="none" stroke="#78acd6" stroke-opacity="0.12" stroke-width="2.60" stroke-linecap="round">
<path d="M604 555.3h.01M549 550.9h.01M514.2 450.1h.01M628.4 462.6h.01M557.5 453.2h.01M520.9 502.3h.01M497.6 411.5h.01M535.2 440.3h.01M532 444.7h.01M575.9 537.5h.01M528.2 438.7h.01M565.3 434.7h.01M526.8 462.4h.01M551.6 504h.01M509.7 461.7h.01M511.1 401.9h.01M586.9 526h.01M535.1 454.5h.01M582.7 464.7h.01M489.4 455.5h.01M540.1 444.1h.01M527.9 419.1h.01M521.2 476.8h.01M519.2 456.8h.01M509.4 455.4h.01M520.4 472.8h.01M525.8 442.1h.01M549.1 431.6h.01M583.1 419.5h.01M633.9 544.8h.01M565.5 403.9h.01M504.2 466.1h.01M540.4 439.1h.01M623.6 494h.01M554.7 462.1h.01M589.2 425h.01M510.7 419.7h.01M489.9 418.4h.01M519.4 427.9h.01M493.3 427.2h.01M641.3 474.6h.01M544 442.4h.01M528.9 475.1h.01M548.6 452.4h.01M522.2 409.2h.01M517.5 446.9h.01M523.5 448.6h.01M553.1 489.7h.01M495.3 458.9h.01M512.1 519.5h.01M526 446.7h.01M520.1 412.9h.01M532.7 429.4h.01M523.3 476.5h.01M513.2 448.9h.01M639.3 442.5h.01M613.6 552.3h.01M517.2 441.2h.01M491.9 431.6h.01M544.3 457.5h.01M526.5 456.4h.01M528.9 461.5h.01M514.9 472h.01M543.6 409.7h.01M502.5 464.7h.01M552.7 462.5h.01M572.9 504.7h.01M574.2 523.3h.01M532.6 445.9h.01M532.1 467.2h.01M513.4 412.6h.01M499.9 456h.01M524.2 475.5h.01M497.5 461.6h.01M587.9 425.5h.01M535.6 459.1h.01M594.1 442h.01M545.4 499.1h.01M628.5 474.4h.01M579.1 420.8h.01M512.7 462.4h.01M486.4 454.7h.01M518.5 434.1h.01M502.4 455.8h.01M498.2 473.7h.01M530.8 458.9h.01M526.7 479.6h.01M539.7 452.2h.01M621.3 575.9h.01M511 476.4h.01M501.1 433.1h.01M523.5 416.3h.01M524.8 457.8h.01M587.3 437h.01M561.8 475.4h.01M523.7 477.4h.01M490.7 435.7h.01M554.1 464.9h.01M541.8 451.4h.01M509.8 445.8h.01M511.3 478.5h.01M539.8 413.3h.01M603.7 526.3h.01M510.7 444.7h.01M506.9 481.6h.01M538.6 481.9h.01M489.3 439.8h.01M529.7 462.2h.01M525 435.7h.01M520.5 454.9h.01M502.6 441.2h.01M618.3 496.7h.01M611.3 507.2h.01M504 464.2h.01M510.5 484h.01M559.8 438h.01M564.5 476h.01M532.5 470.9h.01M538.5 458.7h.01M559.9 485h.01M519.1 411.2h.01M521 476.6h.01M520.1 475.7h.01M517.1 465.8h.01M503.3 426.4h.01M512.6 483.1h.01M535.5 493.4h.01M506.1 402.7h.01M509.2 425.8h.01M580.9 450.6h.01M499 457.1h.01M519.6 443.5h.01M531.9 480.8h.01M513.5 451.1h.01M664.1 479.1h.01M517.6 415.2h.01M540.7 468.3h.01M600 435.4h.01M505.1 406.7h.01M504.8 415.3h.01M531.8 468.3h.01M523.8 452.2h.01M506.9 477.9h.01M515.6 471.3h.01M503.2 471.5h.01M527.6 462.5h.01M527 449.2h.01M491.9 435.1h.01M499.9 416.5h.01M551.9 517.5h.01M492.8 439.1h.01M541.8 471.1h.01M495.4 454.9h.01M535.2 471.5h.01M503.9 430.4h.01M537.4 430.6h.01M587.3 500.6h.01M492.2 427.9h.01M540.7 452.7h.01M521.5 471.7h.01"/>
<path d="M569.1 423.5h.01M568 498.6h.01M517.9 474.1h.01M484.9 421.9h.01M512.5 436.4h.01M527 445.8h.01M500.1 410.7h.01M522.5 444h.01M573.8 501.2h.01M506.6 408.1h.01M526.2 439.3h.01M540.9 433.5h.01M501.7 459.8h.01M497.7 448.5h.01M514.8 413.9h.01M556 479h.01M516.1 436.1h.01M504.3 425.6h.01M514.8 513.2h.01M546.8 483.3h.01M529.1 515h.01M509.9 480.1h.01M505.7 435h.01M640.4 529.1h.01M550.6 453.3h.01M500.2 449h.01M531.8 503.1h.01M552.5 428.2h.01M575.6 539.8h.01M507.8 438.9h.01M506.8 447.4h.01M495.8 431.2h.01M497.5 440h.01M520.8 450.8h.01M553.1 469.5h.01M566.2 443.6h.01M495.3 432.7h.01M528.4 465.6h.01M557.4 501.8h.01M578.5 515.9h.01M512.7 424.3h.01M496.7 442.9h.01M508.6 434.4h.01M504 457.9h.01M526.3 447.7h.01M515.2 429h.01M504.3 454.5h.01M643.9 500.5h.01M554.9 408h.01M560.7 427h.01M524.4 424.1h.01M508.9 457.3h.01M516.1 422.3h.01M515.9 480.2h.01M516.2 466.5h.01M526.1 466.3h.01M504.3 417.4h.01M528.1 441.5h.01M546.4 473.2h.01M513.7 433.9h.01M543.1 437.8h.01M537.9 457.8h.01M511.4 466.2h.01M502 490h.01M548.1 464.9h.01M603 468.3h.01M560.5 524.6h.01M505.5 445.1h.01M499.3 455.8h.01M540.7 440.7h.01M541.1 436.7h.01M535 464.5h.01M497.4 409.1h.01M589.2 506.3h.01M573.8 413.3h.01M557.6 452.8h.01M515.8 458.3h.01M499.9 466.8h.01M537 407.1h.01M584.6 483.7h.01M548.5 543.2h.01M512.3 451.9h.01M505.1 447.2h.01M597.2 446.3h.01M568.9 540.7h.01M522.9 413.1h.01M562.5 441h.01M491.9 409.7h.01M521.9 428.6h.01M543 463.3h.01M508.3 450.5h.01M516.5 418h.01M585.9 458.8h.01M550.9 440.5h.01M529 469.6h.01M555.8 464.3h.01M590.6 443.6h.01M614.5 500.9h.01M521.9 456.5h.01M544.2 439.1h.01M502.6 403.5h.01M545 426.1h.01M569.1 407.9h.01M536.5 429.6h.01M509.8 446h.01M519.2 479.8h.01M531 489h.01M515.3 397.3h.01M554.3 532.7h.01M541.5 481.2h.01M535.4 428.4h.01M516.9 463.3h.01M531.8 436.6h.01M541.8 463.3h.01M496.4 443h.01M502.7 441.3h.01M542.5 456.8h.01M545.9 484.3h.01M511.7 465.1h.01M492.6 446.4h.01M548.3 466.7h.01M498.3 430.4h.01M507.6 408.2h.01M517.9 493.1h.01M565.1 407.4h.01M508.4 432h.01M530.4 472.8h.01M521 435.2h.01M512.7 478.1h.01M525.3 411.2h.01M534.9 559.2h.01M547.5 460.2h.01M532.7 449.4h.01M608.1 514.3h.01M602.4 434.7h.01M525.5 429.3h.01M523.5 489.5h.01M540.1 448h.01M506.5 445.1h.01M533.8 417h.01M520.4 466.1h.01M516.1 514h.01M489.3 428.9h.01M540.7 491.7h.01M589.6 433h.01M541.5 434.9h.01M572.7 460.9h.01M554.6 470.9h.01M562.1 526h.01M546.4 453.7h.01M549.1 467.2h.01M537.7 466.1h.01M520.3 425.2h.01M504.5 465.6h.01M675.8 550h.01M510.3 528.7h.01M574.4 443.3h.01M482 443.5h.01M527.8 481.2h.01M593.3 458.4h.01"/>
<path d="M531.3 443h.01M527.1 445.1h.01M600.9 489.9h.01M529.5 426.3h.01M527.3 412.9h.01M610.2 458.8h.01M506.7 449.7h.01M609.5 517.1h.01M520.7 419.7h.01M580.2 453.5h.01M507.8 413.4h.01M590.5 452.4h.01M520.8 467.1h.01M591.1 449.4h.01M538.6 447.8h.01M601.3 511.3h.01M609.5 481.4h.01M543.7 421.4h.01M491 436.1h.01M543.7 432.9h.01M549.4 449.7h.01M578.9 534.9h.01M534.1 523.9h.01M508.4 401.7h.01M568.2 434.4h.01M501.1 452.8h.01M535.5 440.9h.01M491.3 412.9h.01M544.2 464.2h.01M516.8 513.9h.01M548.8 534.2h.01M550 430.4h.01M544 454.1h.01M644.1 469.9h.01M519.6 465.5h.01M495.9 405.4h.01M494.4 416h.01M550.3 443.1h.01M565.8 417.4h.01M515.2 455.6h.01M513.7 467.2h.01M557.8 440.1h.01M540.7 471.3h.01M488.7 430h.01M507.5 442.6h.01M541.4 407.7h.01M539.5 461.7h.01M556.6 428.1h.01M516.6 523.1h.01M513 399h.01M523.6 506.4h.01M528.6 456.5h.01M501.9 466.7h.01M502 410.9h.01M539.9 423.6h.01M521.8 478.7h.01M570.9 423.5h.01M501.1 430.2h.01M609.6 554h.01M518.8 461h.01M552.3 463.3h.01M541.2 466.4h.01M497.4 407.5h.01M494.5 454.6h.01M584.2 478h.01M549 457.5h.01M532.6 445.9h.01M498.5 458.1h.01M566 519.3h.01M482.1 446.9h.01M573.5 470.7h.01M587.3 496.7h.01M588.5 452.3h.01M599.8 548h.01M572.7 440.5h.01M581.6 436.4h.01M562.5 512.9h.01M508.4 470.4h.01M513 419.6h.01M533.5 461h.01M497.2 458.3h.01M571.5 454.5h.01M566.8 471.8h.01M528.8 444.3h.01M511.2 443.1h.01M513.3 435h.01M572 457.9h.01M518.2 459.3h.01M592 559.5h.01M603.4 429.1h.01M569.1 428.9h.01M543.4 479.6h.01M528.3 423.7h.01M515.9 395.6h.01M544.5 439.6h.01M572.4 422.9h.01M532.1 421.1h.01M497.1 456.2h.01M584.3 445.7h.01M490.1 450.4h.01M535.4 462.9h.01M506.4 455.7h.01M518.6 410h.01M508.2 514h.01M513.3 439.7h.01M518 441.7h.01M606.7 532.1h.01M543.5 468.2h.01M538.8 452.9h.01M509.1 467h.01M499.7 409.4h.01M586 411.9h.01M509.3 431.9h.01M496.7 428.5h.01M533.2 445.2h.01M537.9 487.4h.01M576.2 421.6h.01M573.7 410.5h.01M539.5 442.7h.01M520.9 414.1h.01M497.2 440.5h.01M547.4 485.9h.01M507.3 458.3h.01M503.2 421.1h.01M541.7 436.3h.01M524.7 450.9h.01M500.5 415.1h.01M506.2 437.5h.01M553.8 442.8h.01M565 439.4h.01M521.9 432.7h.01M538.7 440.4h.01M500 423.7h.01M544.8 465.5h.01M522.2 477.2h.01M571.9 477.9h.01M543.1 435.1h.01M542.3 463.6h.01M537.7 454.4h.01M503.6 414.5h.01M522.6 447h.01M547.7 473h.01M629.2 485.1h.01M539.4 466.7h.01M520 409h.01M601.1 433.7h.01M519.4 400.6h.01M524.8 424.2h.01M482.4 431.3h.01M526.3 409.7h.01M541.4 542.3h.01M571.6 508.8h.01M526.1 424.7h.01M515.3 418.8h.01M564.1 474.1h.01M521.2 429.1h.01M570.8 482.3h.01M595.1 518.4h.01M528.9 428h.01M523.6 478.8h.01"/>
<path d="M512 415.5h.01M526 410.6h.01M565.9 451.2h.01M529.6 422h.01M542.3 428.4h.01M503.1 426h.01M635.4 505.6h.01M528.2 454.4h.01M547.3 439.9h.01M512.1 410.1h.01M512 414.6h.01M634 510.8h.01M555.2 445.7h.01M527.1 448.4h.01M512.1 428h.01M512 411.1h.01M558.9 408.1h.01M566.2 567.3h.01M616.5 526.2h.01M530.7 410.2h.01M527.3 474.3h.01M539.4 433.8h.01M528.3 431.1h.01M485.8 430.3h.01M501.5 436.5h.01M541.9 513.8h.01M598.6 437.3h.01M511.8 464.5h.01M534.3 457.8h.01M528.2 435.7h.01M505.6 405.2h.01M608.2 439.1h.01M534.6 435.6h.01M490.1 450.1h.01M584.2 435.9h.01M486.9 446.7h.01M531.6 466.3h.01M543 515.2h.01M561.2 453.7h.01M524.3 406.1h.01M501.5 437.4h.01M544.1 478.5h.01M593 421.5h.01M542.5 454.6h.01M535.3 448.2h.01M565.8 426.4h.01M497 437.3h.01M511.7 418.3h.01M558.2 402.2h.01M527.8 441.4h.01M532.4 469.2h.01M494.8 437.6h.01M533.9 435.3h.01M506 416.4h.01M556.8 498.5h.01M524.2 418.1h.01M547.7 454.4h.01M522.5 422.7h.01M535.9 452.6h.01M509.3 478.9h.01M494.3 417.1h.01M525.7 426.5h.01M504.2 446.7h.01M538.2 455.3h.01M503.9 474.6h.01M488 437.1h.01M505.9 518.6h.01M645.6 512.6h.01M544.5 462.5h.01M566.2 491.1h.01M489.2 422.4h.01M529.1 422.7h.01M525.4 425.5h.01M622.1 538.6h.01M550.7 467.8h.01M584.2 414.9h.01M500.7 429.6h.01M492.5 464.5h.01M535.5 433.2h.01M528.5 430.5h.01M521 448.6h.01M583.6 521.4h.01M562.4 566.3h.01M586.4 461.9h.01M499.5 410.4h.01M524.3 466.6h.01M482.4 442.8h.01M499.8 420.2h.01M490.5 440.7h.01M611.2 534.6h.01M479.4 438.7h.01M562.9 487.3h.01M570.6 428h.01M532.3 434.6h.01M529.2 463.3h.01M658.9 531.5h.01M535.2 457.1h.01M526 446.2h.01M537.9 433.4h.01M577.5 522.8h.01M535.8 457.2h.01M498.4 423.4h.01M517.4 466h.01M545.9 452.9h.01M547 458.4h.01M538.3 401.9h.01M485.8 442.2h.01M518.4 457.3h.01M512.4 470.4h.01M503.5 423.6h.01M609.1 548.6h.01M556.4 470h.01M498.4 469.1h.01M522.9 443.7h.01M604.7 447.8h.01M494.9 462.2h.01M545.7 435.4h.01M553.1 451.1h.01M562.1 426.2h.01M538.8 439.9h.01M531.2 457.4h.01M580.6 543.6h.01M521.8 501.2h.01M597.8 458.8h.01M558.9 407.3h.01M524.4 518.9h.01M574.6 424.1h.01M505.8 451.3h.01M501 482h.01M587.2 454.9h.01M604.2 531.6h.01M523 513.6h.01M492.8 417.8h.01M546.9 479.2h.01M496 440.1h.01M606.9 439.8h.01M617.9 483.8h.01M569.3 500.9h.01M579.1 476.5h.01M491.9 423.6h.01M517.5 412h.01M547.7 486.7h.01M529 429.7h.01M495.7 423.1h.01M508.2 484.8h.01M510.9 460.4h.01M514.4 458.1h.01M547.9 464.1h.01M535.4 438.7h.01M515.1 401.5h.01M512.2 461h.01M537.1 485.1h.01M510.2 440h.01M512.1 432.1h.01M559.8 414.2h.01M519.3 431.1h.01M542.1 454.1h.01M506.1 444h.01M584.6 540.1h.01M539.9 467.5h.01"/>
<path d="M514.4 440.1h.01M490.3 426.4h.01M530.7 434.6h.01M523.1 444.3h.01M545.5 417.4h.01M525.7 441.9h.01M489.8 439.7h.01M517.5 473.4h.01M501.1 412.3h.01M566.2 440.8h.01M584 427.4h.01M496.3 451.1h.01M525.2 437.2h.01M495 415.5h.01M542.2 448.3h.01M536.8 446.1h.01M510.3 442.5h.01M576 437.7h.01M523.7 414.5h.01M551.3 463.8h.01M557.8 435.7h.01M507.1 441.5h.01M577.8 457.4h.01M546.6 461.9h.01M531.6 447.5h.01M528 497h.01M491.4 452h.01M579.2 511h.01M517.1 406.6h.01M576.7 500.7h.01M493.2 437.5h.01M657.9 509.5h.01M528.9 424.1h.01M530 518.7h.01M535.4 447.2h.01M580.6 458.9h.01M512.3 500.3h.01M493 443.4h.01M514.3 474.5h.01M544.6 440.3h.01M540.8 416.7h.01M497.6 445.5h.01M511.8 412.2h.01M530.3 508.8h.01M571.8 403.5h.01M519.5 474.4h.01M512.7 416.8h.01M487.9 430.8h.01M513.7 471.8h.01M490 442.3h.01M512.8 437.1h.01M535.4 462.9h.01M489.2 448.6h.01M528.6 442.9h.01M571.1 554h.01M530 409.1h.01M529.8 458h.01M547 459.1h.01M580.8 511h.01M597.4 452.2h.01M528.7 475.4h.01M498.9 410.7h.01M513.4 449.1h.01M654.1 534.5h.01M546.9 467h.01M546.6 414.5h.01M601.5 446.7h.01M548.3 451.5h.01M522.2 473.5h.01M501.4 462.1h.01M508 425.7h.01M542.9 425.4h.01M495.5 455.3h.01M520.7 445.3h.01M526 497.3h.01M513.5 439h.01M505.7 464.8h.01M494.3 441.3h.01M503.2 468.5h.01M485.1 425.1h.01M511.7 420.2h.01M536.5 472.8h.01M546.2 522.8h.01M643.8 467h.01M533.6 421.2h.01M497.1 432.2h.01M507.4 455.4h.01M515.6 450.9h.01M564.9 514.8h.01M531.4 494.6h.01M552.3 511.3h.01M538.9 454.4h.01M510.2 409.9h.01M495.8 430.5h.01M536.6 466.1h.01M492.5 419h.01M521.8 442.8h.01M505 437.9h.01M547.5 465.9h.01M503.4 475.4h.01M570.7 431.4h.01M542.1 439.9h.01M587.2 477.8h.01M548.4 480.4h.01M559.4 466.7h.01M604.6 542.4h.01M529 448h.01M538.8 451.7h.01M530.2 433.6h.01M620.9 485.7h.01M515.3 516.3h.01M570.2 520.3h.01M507.3 413.7h.01M554.8 462.7h.01M540.4 451.7h.01M512.6 458.8h.01M584.1 427.8h.01M559 466h.01M513.3 474.4h.01M501.8 463.1h.01M551.1 402.1h.01M532.4 466.8h.01M509.9 454.2h.01M662.7 489.5h.01M552.5 467.6h.01M506.1 432.2h.01M514.9 404.9h.01M520.3 456.3h.01M505.9 425.2h.01M507.7 455.8h.01M634.2 538.6h.01M573.4 501.7h.01M497.1 422.8h.01M498.9 454.8h.01M561.7 572.7h.01M518.7 467.9h.01M522.4 519h.01M580.1 432.4h.01M504.6 428.2h.01M522.1 458.4h.01"/>
</g>
<g fill="none" stroke="#e27d60" stroke-opacity="0.1" stroke-width="2.60" stroke-linecap="round">
<path d="M586.7 541.5h.01M573.9 570.7h.01M608.5 494.1h.01M570.5 543.6h.01M574.1 509.7h.01M649.7 510.5h.01M570 517.6h.01M632.6 525.4h.01M569 532.1h.01M631 481.7h.01M593.7 561.9h.01M601.6 551.3h.01M529.3 511.5h.01M568.6 514.3h.01M625.3 519.8h.01M573.3 504.2h.01M633.9 454.4h.01M548.2 516.2h.01M560.9 561.9h.01M587.4 502.2h.01M578.7 522.9h.01M494.1 527.7h.01M621.9 522.2h.01M552.2 489h.01M640.3 558.7h.01M540.9 507h.01M525.7 521.5h.01M602.8 557h.01M570.1 533.7h.01M535.1 511.9h.01M575 497.9h.01M610.1 555.6h.01M654 478.8h.01M638.4 529.3h.01M637.1 501.5h.01M556 550.1h.01M586.3 561h.01M639.4 523.4h.01M606.1 527.8h.01M606.7 448.7h.01M558.3 511.5h.01M539 527.5h.01M593.1 502.3h.01M529.7 532.8h.01M553.2 550.1h.01M653.3 562.4h.01M636.1 557.4h.01M591.8 550.6h.01M554.1 540.2h.01M568 497.9h.01M599.8 548.4h.01M604.6 490.9h.01M579.7 527.4h.01M588 546.8h.01M605.7 553h.01M545.8 508.3h.01M576.5 517.9h.01M599.3 539.1h.01M577 499.5h.01M544.3 502.9h.01M592 512.2h.01M599.7 565.9h.01M631.4 559h.01M590.9 549.9h.01M589.4 515.7h.01M544.6 548h.01M584.2 496.2h.01M593.6 545h.01M535.6 505.4h.01M586.2 483.6h.01M655.9 544.7h.01M604.7 467.6h.01M637.7 494.2h.01M606.9 500.5h.01M589.4 515.4h.01M599.1 460.3h.01M641 513.2h.01M516.3 517.8h.01M562.6 546.1h.01M599.3 511.4h.01M487.4 525h.01M633.1 482.8h.01M535.5 535.9h.01M624.4 541.1h.01M649.2 465.5h.01M634.1 493.5h.01M654.9 530.7h.01M623.1 542.9h.01M560.2 496.4h.01M557 526.1h.01M617.6 502h.01M632.7 459.6h.01M574 525.9h.01M651.6 500.2h.01M658.2 538.1h.01M609.7 510.8h.01M619.5 562.8h.01M595.4 560.2h.01M516.2 505.1h.01M537.3 549.4h.01M610.1 545.4h.01M614.1 550.8h.01M542 555.5h.01M600.9 558.6h.01M653.2 561.8h.01M621.6 498.3h.01M592.1 465.5h.01M569.3 590.3h.01M616.8 515.9h.01M617.1 486.3h.01M555.6 554.3h.01M612.8 494.6h.01M645.3 451.7h.01M612.4 478.4h.01M600.9 521.4h.01M562.9 522.9h.01M554.6 581.1h.01M572.4 555.8h.01M600.4 538.1h.01M608.1 528.5h.01M626.4 473.5h.01M570.4 527.8h.01M612.2 544.4h.01M629.2 533.8h.01M528.7 527.1h.01M529.7 488.1h.01M594.3 545.2h.01M579.6 502.8h.01M608.1 504.8h.01M580.7 488.2h.01M582.1 526.6h.01M600.7 532.9h.01M630.4 456.4h.01M570.2 492.4h.01M606.1 466.7h.01M552.7 530.1h.01M604.3 571h.01M561.4 533h.01M649.5 518.2h.01M583.1 562.2h.01M572.5 537.9h.01M582.8 548.3h.01M542.4 517.8h.01M637.9 561.2h.01M633.9 508.5h.01M546.9 540.2h.01M539.6 527.9h.01M599.8 561.5h.01M619.7 562.6h.01M669.2 548.3h.01M586.2 553h.01M582.6 507.4h.01M575.7 549.5h.01M553.7 528.2h.01M549.4 563.1h.01M630.9 546.7h.01M621.2 519.4h.01M552.2 501.2h.01M626.2 518.6h.01M578.2 530h.01"/>
<path d="M582.3 523.3h.01M663.1 519.5h.01M590.7 534.6h.01M564.6 522.3h.01M633.6 506.4h.01M656.1 547.7h.01M571.5 491.7h.01M550.9 541.2h.01M567.3 534.4h.01M538.8 525h.01M537.8 526.2h.01M658.5 475.9h.01M617.3 512.4h.01M626.2 544.3h.01M577.4 518.1h.01M622.4 480.3h.01M537.2 493.9h.01M603.5 569.7h.01M588.2 559.7h.01M571.2 542.4h.01M651.3 473.6h.01M640.3 544.1h.01M624.3 528.7h.01M599.8 477.1h.01M620.5 497.7h.01M612.7 549.3h.01M613.7 510.7h.01M646.4 474.2h.01M573.9 467.4h.01M595.1 481.3h.01M647 475.5h.01M577.9 565.3h.01M578.2 511h.01M597.8 530.6h.01M595.3 565.5h.01M541.1 475.3h.01M612.7 501.6h.01M617.9 543.7h.01M584.7 556h.01M557.5 522.2h.01M548.4 512.1h.01M624.6 546.6h.01M618.2 553.3h.01M649.3 487.7h.01M553.5 565.2h.01M661.8 514.9h.01M560 495.6h.01M638.3 552h.01M531.4 525.2h.01M614 548.4h.01M645.6 486.8h.01M613.3 560.1h.01M654.1 531.5h.01M625.3 503.6h.01M537.2 512.2h.01M628.1 539.7h.01M574.6 489.3h.01M614.2 476.3h.01M584.1 511.9h.01M607.1 539.8h.01M580.3 553h.01M601.5 518.2h.01M615.1 528.4h.01M586.3 543h.01M609.3 567.8h.01M565.6 514h.01M557.6 525.1h.01M646.5 553.9h.01M566.5 501.9h.01M639.5 531.5h.01M599.7 562.6h.01M622.3 487.2h.01M641 511.8h.01M632.5 532.5h.01M536.6 521.9h.01M549.6 487.9h.01M625.6 545.3h.01M629.7 568.2h.01M632.9 479.9h.01M584.6 570.9h.01M599.2 480.4h.01M577.8 562.7h.01M609.3 496.4h.01M636.6 458h.01M533 520.8h.01M618.2 529h.01M534.9 506.7h.01M583.6 521.7h.01M594.7 547.6h.01M520.4 513.1h.01M597.5 497.8h.01M610.7 509.2h.01M602.9 505.6h.01M630.9 494.1h.01M541.9 553.5h.01M563.1 497.2h.01M639.9 568.7h.01M614.4 535.3h.01M583.7 528.4h.01M545.2 534.5h.01M530.5 551.3h.01M610 503.3h.01M615.1 507.2h.01M597.5 560.9h.01M546.8 515.5h.01M535.3 528.5h.01M631 500.9h.01M599.7 538.9h.01M579.9 497.7h.01M648.3 545.8h.01M561.5 531.3h.01M552.7 553.6h.01M567.6 518.3h.01M515.3 543h.01M565.3 535.4h.01M593.7 520.5h.01M621.8 529.3h.01M611.1 551.5h.01M574.7 486.5h.01M606.3 487h.01M569.5 488.7h.01M596.5 536.5h.01M653 493.7h.01M582.7 529.7h.01M628.9 562.3h.01M565.6 513h.01M624 545.8h.01M612.3 542.7h.01M541.5 512h.01M581.8 505.1h.01M632.2 468h.01M538.3 536.5h.01M580.9 562.5h.01M549.6 506.6h.01M625.3 462.8h.01M573.5 548.2h.01M539.4 495.5h.01M587.1 496.8h.01M628.9 462.6h.01M590.2 548.9h.01M600.3 543h.01M591.9 520.3h.01M557.7 525.6h.01M585.6 482h.01M599.7 559.5h.01M540.8 505.5h.01M601.6 542.2h.01M594 549.8h.01M604.8 523.4h.01M581.4 518.8h.01M631.8 454.2h.01M593.8 456.7h.01M559.2 527.4h.01M554.7 472.8h.01M532.1 529.3h.01M576.5 543.9h.01M586.9 543.9h.01M607.3 524.2h.01M612 525h.01M594.9 513h.01"/>
<path d="M574.8 509.4h.01M653 542.2h.01M618.5 539.4h.01M578.5 481h.01M659.2 480h.01M602.6 508.8h.01M546.1 530.4h.01M587.4 529.4h.01M564.8 514.5h.01M566.9 528.7h.01M616 460.3h.01M574.4 480.7h.01M593.9 569.5h.01M648.3 494.1h.01M625.2 510.3h.01M572.2 562.4h.01M583.3 526.3h.01M618.7 540.7h.01M511 527.7h.01M624.1 565.6h.01M533.3 546.1h.01M591.6 500.4h.01M557.1 531.2h.01M625.1 471.2h.01M645.2 545h.01M624.9 465.6h.01M629.8 508.6h.01M620.7 461.5h.01M588.8 478.8h.01M535.1 540.2h.01M613.5 520.5h.01M567.2 548.9h.01M642.6 536h.01M605 483h.01M528.7 509.7h.01M568.2 525.5h.01M587.3 535.9h.01M609.4 541.5h.01M614.1 487.9h.01M638 531.4h.01M564.9 541.3h.01M536.4 506.6h.01M646.4 499.2h.01M649.5 526.1h.01M606.3 487.6h.01M576.4 531.3h.01M643.9 491.6h.01M594.1 462.8h.01M651 551.1h.01M613.2 456.1h.01M619.9 532.5h.01M602.1 551h.01M595.8 539.9h.01M584.2 478h.01M617.4 499.8h.01M648.7 550.1h.01M564.5 542.6h.01M577.5 478h.01M616.3 539.8h.01M624 519.2h.01M630.1 556.3h.01M533.8 504.3h.01M598.8 562.8h.01M618.9 519.1h.01M559.6 493.6h.01M620.5 556.4h.01M640.1 514.9h.01M603.4 533h.01M620.4 516.5h.01M568.4 561h.01M606.8 469.6h.01M615.2 530.2h.01M537.2 495.9h.01M631.4 511.3h.01M593.4 568.7h.01M637.5 502.1h.01M614.2 557.2h.01M630.7 501.5h.01M610.3 534.9h.01M632.3 548.6h.01M640.3 467.1h.01M628.1 462.8h.01M610.3 475.3h.01M540.8 495h.01M655.1 540h.01M541.4 525.4h.01M570.5 524.8h.01M528.8 540.1h.01M554.1 484.8h.01M560 547.6h.01M604.3 535.3h.01M651.8 529.1h.01M651.7 508.8h.01M596.4 473.9h.01M613.7 545.1h.01M597 479.7h.01M654 541.6h.01M535.2 489.9h.01M526.7 509h.01M545.1 539.8h.01M548.3 547.4h.01M596.2 506.7h.01M622.3 565.5h.01M624 499.5h.01M575.6 496h.01M573.2 499.1h.01M617.1 522.1h.01M606.7 509.2h.01M583.3 503.8h.01M664.2 532.6h.01M538.3 494.5h.01M570.1 556.6h.01M588.5 513h.01M573.8 517.7h.01M600.1 532.5h.01M605.6 476.3h.01M611.9 565.4h.01M563.4 582.9h.01M602.8 513.7h.01M572.6 506.3h.01M605.1 526.4h.01M557.9 555.1h.01M598.1 565.5h.01M575.5 575.8h.01M533.9 544.1h.01M624.2 520.6h.01M624.3 505.8h.01M648.2 532h.01M576 556.6h.01M642.9 522.3h.01M640.1 558.8h.01M620.4 461.6h.01M572 537h.01M563.9 533.4h.01M577 515.6h.01M605.2 514.1h.01M538.3 528.8h.01M580.7 500.6h.01M556.4 529.4h.01M634.1 496.7h.01M620.6 449.3h.01M568.4 484.2h.01M639.1 536h.01M604.2 453.4h.01M608.1 544.4h.01M657 526.9h.01M560.5 552.9h.01M640.4 522.5h.01M562.7 510.8h.01M585.6 500.3h.01M588.6 570.1h.01M638.5 481.7h.01M623 476h.01M550.4 554.2h.01M646.9 479.3h.01M536.3 544.1h.01M540.1 522.4h.01M555 537h.01M645.1 554.1h.01M635.6 503.6h.01"/>
<path d="M590.9 536.2h.01M662 512.3h.01M616.7 564.2h.01M555.9 519.9h.01M621 523.8h.01M625.9 530.8h.01M561.8 479.1h.01M598.1 510.7h.01M576.3 539.9h.01M618.4 540h.01M630.2 526.7h.01M641.7 543h.01M595.8 533.6h.01M589 542h.01M642.7 535.2h.01M533.5 543.1h.01M644.9 559.2h.01M646 511.9h.01M524 506.8h.01M644.5 528h.01M592.7 509.1h.01M570.9 565.7h.01M601.4 538.5h.01M564 527.7h.01M543.1 505.8h.01M557.1 531h.01M629.1 511.1h.01M571.4 552.6h.01M608.4 479.9h.01M604.6 531.8h.01M601.3 529.7h.01M570.6 542.1h.01M617.1 540h.01M644.8 488.5h.01M535.1 521.7h.01M646.8 457.7h.01M584.1 526.6h.01M569.2 501.9h.01M559.9 533.1h.01M652.8 496.4h.01M609.1 529.8h.01M607.9 524.2h.01M606.9 504.7h.01M547.3 545.5h.01M556.4 487.2h.01M545.7 508.4h.01M613.4 548.4h.01M617 506.1h.01M582.5 525h.01M641.5 513.2h.01M623.7 572.4h.01M609.5 495.2h.01M553 500.3h.01M657.5 501.4h.01M634.6 517.6h.01M625.9 554.1h.01M620.2 519.1h.01M606.1 529.7h.01M552.5 513.5h.01M594.3 498h.01M599.4 566.6h.01M618.3 534.4h.01M532 517.8h.01M592.3 521.9h.01M558.9 566.9h.01M603.7 525.3h.01M633 506.4h.01M612.4 503.4h.01M552.1 556.1h.01M632.3 519.1h.01M552.9 500.5h.01M598.3 498.5h.01M591.8 541.1h.01M619.3 494.9h.01M557.1 524.7h.01M567.4 484.1h.01M622.2 500.4h.01M601.1 521.1h.01M662 533.3h.01M632.6 511h.01M539.3 522.8h.01M582.3 477.4h.01M556.7 530.6h.01M621.9 504.6h.01M577.3 540.1h.01M597.3 538.9h.01M572.9 499.2h.01M595.1 559h.01M634.2 556.5h.01M648.8 560.3h.01M598.5 548.8h.01M597.4 547.8h.01M585.6 466h.01M567.4 544.2h.01M560.2 533.8h.01M605.8 539.8h.01M591.2 473h.01M595.7 524.9h.01M611.5 471.3h.01M573.4 478h.01M577 498.8h.01M560.6 537.6h.01M589.7 516.7h.01M642.6 492.3h.01M543.7 487.7h.01M557.4 506h.01M640.8 483.6h.01M616.7 491.8h.01M577.2 537.9h.01M581.4 565.3h.01M603 470.1h.01M535 564.4h.01M543 550.7h.01M644.7 526h.01M617 504.9h.01M583.6 548.1h.01M629.2 537.8h.01M626.2 454.4h.01M603.8 516.4h.01M521.1 532.1h.01M583.9 505.6h.01M567.5 513.3h.01M556 482.1h.01M563.1 546.6h.01M582.2 481.5h.01M590.7 508.5h.01M644.8 475.5h.01M576.4 535.5h.01M559.1 501.8h.01M662.8 485.9h.01M572.1 510.3h.01M630.8 540.2h.01M577.1 494.8h.01M545.1 550.6h.01M643.4 512.6h.01M532.3 517.3h.01M610.5 538.2h.01M622.1 568h.01M562.6 525.5h.01M651.9 504.4h.01M607 499.8h.01M654.6 526.8h.01M546.4 495.8h.01M644.9 475.3h.01M631.4 527.2h.01M569.6 525.1h.01M553.4 544h.01M590.7 548.5h.01M614.5 545.8h.01M563.7 494h.01M584.2 497h.01M584.6 496.3h.01M558.3 498.1h.01M610.4 553.9h.01M651.8 519.5h.01M598 472.6h.01M594.5 481.6h.01M651.6 507.2h.01M633.4 506.5h.01M636.6 523.6h.01"/>
<path d="M593.7 502.5h.01M536.9 532h.01M577.9 485.6h.01M571.2 494.2h.01M640.2 512h.01M636 548.1h.01M635.3 482.2h.01M651.2 515.3h.01M670.4 542.2h.01M611.6 546.3h.01M639.3 529.1h.01M549 548.2h.01M604 540.6h.01M589.9 520.1h.01M569.2 551.6h.01M559.2 541.3h.01M595.7 553.2h.01M568.6 497.5h.01M656.5 508.4h.01M595.8 554.9h.01M529 498.6h.01M561.9 542.2h.01M580.1 514.6h.01M536.6 542.9h.01M599.4 540.7h.01M655.8 537.4h.01M649.2 507.8h.01M557.9 547.3h.01M555.5 535.6h.01M541 563.1h.01M539 490.8h.01M577.8 492.5h.01M568 505h.01M572.6 545.9h.01M660 536.2h.01M602.8 493.4h.01M653 516.7h.01M512 536.2h.01M553.7 544.4h.01M646.2 519.7h.01M653 537.2h.01M592.3 504.4h.01M544.6 546.5h.01M615 513.8h.01M526.8 530.4h.01M625.3 563.1h.01M608.3 518.9h.01M575.2 489.2h.01M591.4 511.1h.01M616.3 516h.01M597.9 533.4h.01M555.6 550.5h.01M591.8 553.3h.01M608.2 524.4h.01M608.9 544.5h.01M594 553.7h.01M594.8 486.8h.01M593.7 549.1h.01M646.5 473h.01M524.2 533.2h.01M628.4 448.4h.01M646.8 516.5h.01M580.4 567.1h.01M572.9 492.7h.01M637.5 553.7h.01M652.7 524.5h.01M555.3 531.1h.01M647.7 465h.01M646.3 551.7h.01M640.6 528.6h.01M617.8 523.1h.01M595.6 533.1h.01M548.1 545.2h.01M587.5 464h.01M634.5 519.2h.01M598.8 508.6h.01M606.2 529.2h.01M638.4 536.3h.01M581 517.6h.01M525.6 514h.01M536.8 539.9h.01M598.1 477.4h.01M585.1 555.9h.01M541.4 539h.01M541.3 549.4h.01M575.1 555.6h.01M638.3 488.9h.01M659.5 491.3h.01M560.1 523.7h.01M562.9 502.6h.01M627.8 508.6h.01M576.4 536.9h.01M560.4 545.2h.01M635.9 520.1h.01M584.3 554.8h.01M630.6 535.5h.01M557.7 534.7h.01M606.7 525.1h.01M604.1 553.4h.01M609 493h.01M595.8 555.1h.01M615.3 544.7h.01M565 552.2h.01M662.1 525.4h.01M577.1 505.2h.01M591.6 464.7h.01M625.3 573.7h.01M626.7 504.3h.01M629.6 476.5h.01M664.7 548.4h.01M592.3 555.8h.01M565.7 558.2h.01M523.4 523.3h.01M651.9 480.7h.01M544 549.6h.01M574.2 538.7h.01M552.6 489.3h.01M646.6 493.3h.01M634.1 562.4h.01M587.3 515.4h.01M563.4 565.2h.01M629.3 507.7h.01M624.8 554.9h.01M563.5 546.2h.01M611.9 527.5h.01M649.1 501.8h.01M578.2 536.4h.01M607.7 535.3h.01M547.6 527.5h.01M585.9 521.9h.01M645.9 558.5h.01M593.1 558.4h.01M594.1 562.5h.01M532.5 516.8h.01M624.8 541.2h.01M578.1 559.4h.01M556.8 516.3h.01M594.8 490.4h.01M578.6 480.1h.01M591.9 560.1h.01M612.6 559.7h.01M538.7 522.2h.01M621.1 561h.01M642.9 550.6h.01M598.1 506.9h.01M615.2 559.1h.01M581.6 525.1h.01M567.5 487.4h.01M530.8 497.4h.01M610.9 552.2h.01M551.4 538.5h.01M584.6 520.4h.01M558.9 512.6h.01M529.4 540.2h.01M659.7 484.1h.01M599 556.6h.01M548 482.4h.01M615.2 554.4h.01M500.9 500.9h.01M578.7 537.9h.01"/>
<path d="M597.5 497.6h.01M558.4 525.1h.01M538.8 488.6h.01M600 475.3h.01M612.3 507.2h.01M543.8 563.5h.01M579.4 519.9h.01M587.3 502.7h.01M553.7 524.6h.01M636.9 509.4h.01M589.3 516.9h.01M575.5 492.3h.01M602.7 510.4h.01M552.2 512.7h.01M600.9 522.8h.01M540.1 542.7h.01M590.4 524h.01M556.9 521.4h.01M591 457h.01M613.1 507.3h.01M613.3 510.2h.01M566.1 512.1h.01M570.2 478.8h.01M618.5 561h.01M579.6 507.8h.01M574.8 508h.01M569.4 519h.01M570.8 502.2h.01M594.5 538.9h.01M604.5 545.2h.01M650.8 501.6h.01M560.7 512h.01M573.2 512.5h.01M605.5 545.5h.01M629.8 494.4h.01M545.8 494.8h.01M569.9 525.1h.01M559.5 491.1h.01M598.5 475.3h.01M615.9 571.6h.01M601.9 524.3h.01M625.1 560.2h.01M577.1 559.4h.01M621.2 510.1h.01M590.4 551.8h.01M527.3 541.8h.01M615.3 529.7h.01M584.9 522.6h.01M550.2 529.4h.01M561.7 503.1h.01M542.5 505.3h.01M524.6 509.5h.01M548.5 559.7h.01M599.4 571h.01M608.5 539.2h.01M571.8 545.8h.01M633 488.5h.01M559 554.3h.01M596.1 532.7h.01M621 504.3h.01M554.9 517.4h.01M588.3 488.9h.01M629.9 496.7h.01M580 519.2h.01M630.3 460.2h.01M571.2 511.2h.01M641.6 535.1h.01M598.2 537.5h.01M570.4 572.6h.01M652.5 536.2h.01M610.9 472.6h.01M606.4 527.4h.01M674.9 508.1h.01M622.5 557.6h.01M552.3 532.3h.01M629.5 533.1h.01M648.5 506.6h.01M587.8 566.2h.01M643.6 536.4h.01M570.2 508.8h.01M548.4 550.3h.01M613.3 503.3h.01M568.8 557.7h.01M654 541.1h.01M575 526.7h.01M578.1 509h.01M551.1 515h.01M629.1 557.1h.01M560.1 496.8h.01M555.7 477.1h.01M623 521.6h.01M589 525.8h.01M537.5 526.1h.01M530.6 550.7h.01M517.9 500.3h.01M526.1 541.9h.01M560.6 504.2h.01M534.3 507.6h.01M547.8 552.1h.01M564.7 514.5h.01M602.9 564h.01M599.2 515.1h.01M644.8 537h.01M541.1 555.9h.01M587.9 519.1h.01M569.9 492h.01M635.5 476.2h.01M576.9 528.4h.01M643.1 507.3h.01M623.3 551h.01M643.4 487.2h.01M601.7 507.2h.01M543.6 496.8h.01M576.9 555.7h.01M596.6 521.9h.01M535.7 504.1h.01M657.5 549.4h.01M514.3 515.7h.01M554.2 543.3h.01M644 554.5h.01M593.3 501h.01M531.6 552.2h.01M593.7 566.7h.01M584.8 487.3h.01M586.1 475.7h.01M655.2 500.8h.01M549.4 519.9h.01M664.6 528.2h.01M626 495.9h.01M577.4 470h.01M597.4 558.9h.01M565.1 497h.01M560.5 550.2h.01M656.3 506h.01M586.6 567.3h.01M599 518.7h.01M616.2 514.7h.01M527.2 511.7h.01M559.8 556h.01M524.3 520.6h.01M643.6 512.7h.01M581.9 532.2h.01M581.6 475.9h.01M625.2 515.1h.01M657.2 521.5h.01M559.3 511h.01M524.6 519.5h.01M552.7 522.9h.01M556.8 550.1h.01M571.9 551.9h.01M629.1 566.1h.01M643.7 548.2h.01M602.2 573.9h.01M533.6 532.5h.01M530.2 540.5h.01M576.2 541.7h.01M519.6 543.5h.01M586.5 499.8h.01M594.3 462.9h.01M560.7 561.5h.01"/>
<path d="M598.9 525.1h.01M612.5 501.3h.01M667.2 443.9h.01M592.9 468.3h.01M624 532.3h.01M519.9 531.3h.01M635.4 474.7h.01M598.2 522.6h.01M606.2 522h.01M583 529.8h.01M620.3 560.1h.01M585.1 505.1h.01M621.3 521.2h.01M534.9 514.7h.01M630.7 552.6h.01M561.9 550h.01M576.1 483.7h.01M609.2 533.3h.01M541.7 543.5h.01M561.8 538.3h.01M556.9 522.1h.01M604.8 515.8h.01M582.8 505.8h.01M614.8 485.3h.01M546.1 509.3h.01M588.1 540h.01M556.5 555.7h.01M538.7 512.3h.01M557.5 500.7h.01M599.7 504.6h.01M534.1 504.8h.01M586.2 522.2h.01M596.6 473.4h.01M651.4 546h.01M616.3 477.4h.01M546.1 546.9h.01M563.5 496.5h.01M567.3 566.8h.01M623.3 524.4h.01M639 472.1h.01M580.2 524.6h.01M563.4 516.1h.01M599.3 502.2h.01M580.5 537.2h.01M553.8 531.2h.01M630.7 461.4h.01M644.6 558.2h.01M560 567.2h.01M651.9 524.1h.01M641.2 496.5h.01M595 530.2h.01M588.3 530.4h.01M625.5 496.5h.01M608.2 474.9h.01M575.1 486.1h.01M561.4 564.5h.01M585.1 499.6h.01M646 482.7h.01M586.4 497.8h.01M521.3 517.6h.01M560.6 539.3h.01M528.9 518.1h.01M615.6 544.4h.01M592.7 550.4h.01M598.5 538.4h.01M637.1 520.8h.01M588.6 562.7h.01M642.3 508.9h.01M579.2 559.2h.01M547.6 542.8h.01M568.2 558.6h.01M532.9 531.7h.01M650.9 514h.01M595.5 545.9h.01M653.1 519.8h.01M543.6 489.9h.01M636.9 477h.01M659.3 559.1h.01M634.3 532h.01M588.6 524.5h.01M584.8 513.8h.01M536.8 505.1h.01M590.2 543.5h.01M580.5 485.5h.01M586.3 528.3h.01M635.5 509.6h.01M546.4 552.8h.01M559.9 548.3h.01M531 550h.01M621.1 546.4h.01M551.4 537.5h.01M577.8 506.1h.01M644.1 532.7h.01M582.5 543.3h.01M579.5 533h.01M603.3 470.3h.01M630.6 543.1h.01M569.8 524.6h.01M645.5 512.8h.01M560.4 547.6h.01M624.4 524.7h.01M618.4 556h.01M620.3 514.2h.01M575.3 486.5h.01M632.4 512.5h.01M593.7 529.7h.01M579.4 563.8h.01M597.4 534.1h.01M577.8 496.7h.01M657 534.8h.01M639.8 473.1h.01M651 511.9h.01M544.1 532.1h.01M630.3 527h.01M638.2 556.3h.01M626.9 575.5h.01M541.3 516.5h.01M571.9 554.5h.01M588.7 517.1h.01M619.7 505.2h.01M627.8 515.9h.01M576.1 557h.01M521.3 511h.01M612.7 489.4h.01M573.7 508.1h.01M558.3 515.3h.01M613.4 501.7h.01M588.1 565.1h.01M640.9 490.9h.01M596.1 539.6h.01M579 555.2h.01M530.5 540.1h.01M626.3 562.6h.01M564.1 539.2h.01M656 540.6h.01M537.9 507.1h.01M586.8 537.8h.01M643.1 512.5h.01M661 501.5h.01M545.9 543.4h.01M656.9 502.7h.01M621.1 492.3h.01M609.6 491.7h.01M621.2 493.2h.01M659.4 560.7h.01M556.1 519.8h.01M615.1 489.9h.01M581 494.8h.01M554.2 519.3h.01M615.2 553.9h.01M560.7 509.7h.01M646.9 552.4h.01M551.1 518.9h.01M603.6 559h.01M543.6 545.9h.01M565.7 520.4h.01M526 546.1h.01M556.8 555.4h.01M584.2 528.3h.01M634 529.7h.01"/>
<path d="M567.7 538.8h.01M554.8 530.8h.01M531.1 503.2h.01M578.9 559.1h.01M555.9 528.4h.01M631.8 502.1h.01M573.1 535.1h.01M603.1 547.5h.01M608.5 523.9h.01M582 558.9h.01M541.5 557.7h.01M537 549.5h.01M573.8 475.6h.01M572.4 524.7h.01M660.9 503.2h.01M579.7 479.8h.01M557.9 504.9h.01M620.6 556.2h.01M631.1 530.6h.01M601.8 546.7h.01M631.4 564.6h.01M581.6 500.1h.01M632.9 561.6h.01M589.9 543.9h.01M553 555.3h.01M563.5 529.2h.01M641.3 551.9h.01M543.4 520h.01M604.9 568.6h.01M533.4 528.3h.01M596.3 504.3h.01M621.2 534.6h.01M645.7 555.7h.01M544.3 498.9h.01M666.5 480.8h.01M581 503.7h.01M550.8 507.5h.01M617.1 453.9h.01M652.7 503.9h.01M570.2 557.5h.01M608.6 527.8h.01M637.2 480.6h.01M587 494.9h.01M543.8 537.2h.01M572.1 524.2h.01M623.4 546h.01M643 497.8h.01M576.5 537.8h.01M616.5 551.6h.01M563.1 499.4h.01M598.5 501.1h.01M617.5 525.3h.01M573.6 522.8h.01M616.1 547.3h.01M552.5 525.1h.01M626.8 466.4h.01M620.1 513.7h.01M544.1 505.7h.01M588.5 533.1h.01M592 493h.01M569.4 512.7h.01M602.3 469.5h.01M600.3 478h.01M646.2 456.3h.01M557.8 536.1h.01M622.9 572.2h.01M590.2 503.7h.01M556.4 542.4h.01M619.7 571.3h.01M553.5 555h.01M596.1 513.9h.01M609.2 465.7h.01M511.9 512.3h.01M583.8 548.3h.01M567.3 500.4h.01M664.5 534.9h.01M564 474.2h.01M624.4 517.5h.01M548.7 562.3h.01M635.3 545h.01M635.7 511.2h.01M537 523.9h.01M586.7 505h.01M560.8 505.7h.01M616 536.7h.01M573.4 473.4h.01M576.4 528.9h.01M530.6 543.4h.01M547.1 534.1h.01M614.3 521.2h.01M568.2 565.9h.01M574.7 516.9h.01M558.3 534.1h.01M588.4 490h.01M565.5 539.7h.01M569.8 506.8h.01M565 508h.01M575.3 506.9h.01M599 518.7h.01M561.8 492.9h.01M550.4 547.1h.01M557.1 511.7h.01M594.5 509.9h.01M598.2 538.4h.01M557.2 542.6h.01M652.5 547.5h.01M587.1 581.4h.01M646.4 484.5h.01M622.7 538h.01M593.7 541.6h.01M558.7 534.7h.01M621.9 555.6h.01M599.5 522.8h.01M585.6 532.3h.01M612.9 546.7h.01M575.3 523h.01M585.4 530.5h.01M584.6 499.9h.01M584.4 515.1h.01M552.1 550.1h.01M557.1 516.4h.01M621.2 560.9h.01M653.1 538.8h.01M566.8 537.9h.01M633.5 532.8h.01M579.7 513.3h.01M609.3 478.6h.01M591 554.3h.01M647.2 513.7h.01M541 498.6h.01M580.4 528.7h.01M646.5 505.8h.01M585.6 523.5h.01M592.4 499.4h.01M606.8 492.1h.01M624 463.4h.01M623.6 449.6h.01M593.7 461.5h.01M632.1 527.7h.01M602.6 483.8h.01M585 475.7h.01M614.5 522.4h.01M611.1 500.2h.01M582.2 499.5h.01M588.8 571.2h.01M645.2 489.9h.01M622.5 453h.01M582.8 560.9h.01M659 526.3h.01M653 476.5h.01M565.6 565.1h.01M563.3 563.4h.01M649 495.7h.01M564.7 562.8h.01M594.2 516.8h.01M641.9 492.7h.01M618 546.7h.01M584 487h.01M583 557.7h.01M613.3 464.9h.01"/>
<path d="M612.9 486.5h.01M598.9 525.1h.01M617.9 511.3h.01M640.7 445.4h.01M633.3 464.3h.01M608.9 513h.01M543.2 485.2h.01M613.5 554.7h.01M584.8 493.5h.01M607.8 512.2h.01M549.6 524.9h.01M573.3 547.1h.01M558.5 563.4h.01M587.2 548.4h.01M515.6 503.1h.01M624.3 525.6h.01M632.3 545.1h.01M524.1 514h.01M627.1 482.8h.01M616.4 539.5h.01M640.7 484.8h.01M556.3 558.2h.01M636 537.1h.01M575.3 548.4h.01M628.1 481.1h.01M590.3 507.3h.01M561.6 546.4h.01M553.1 540.7h.01M593.6 539.9h.01M630.3 547.5h.01M641.5 504h.01M527.5 512.4h.01M560.7 503.8h.01M568.3 554.8h.01M614.2 539.8h.01M572.4 544.4h.01M574.5 472.7h.01M654.8 502.5h.01M630 451.9h.01M581.4 519.6h.01M562.2 513.5h.01M577.7 519h.01M547.9 530.3h.01M598.5 486.8h.01M618.5 522.2h.01M645.8 540.1h.01M574.8 473.3h.01M586.7 464.3h.01M600.5 558.6h.01M548.5 536.2h.01M620.1 542.8h.01M592.5 507.5h.01M651.3 532.3h.01M642.4 462h.01M606 517.4h.01M578 528.8h.01M591.6 468.5h.01M629.2 488.3h.01M596.5 522.4h.01M558.9 488.7h.01M525.6 525.6h.01M584.3 523.1h.01M614.4 560.2h.01M587.5 551.2h.01M625.2 480.6h.01M560.3 486.8h.01M637.3 476.1h.01M622.4 536.8h.01M572.4 541.7h.01M587.6 564.7h.01M608.3 507.2h.01M641.8 488.6h.01M630.4 468.4h.01M617 534.8h.01M657.8 495.8h.01M568.4 503.1h.01M593.6 527.4h.01M624.4 489.8h.01M569.5 544.1h.01M576.4 543h.01M570.4 524.5h.01M604.4 521.7h.01M585 576.2h.01M592.3 490.9h.01M620.7 527.3h.01M594.2 554.7h.01M613.3 473.6h.01M519.5 534.3h.01M529.6 530.2h.01M668.7 530.7h.01M607.8 472h.01M620.7 518.9h.01M622.5 495.7h.01M525.6 515.9h.01M572.3 537.2h.01M628.3 571.3h.01M572.8 535h.01M566 542.1h.01M582.5 480.3h.01M590.8 559h.01M557.9 500.6h.01M630 534.9h.01M621.2 521.5h.01M566.3 534.6h.01M594.5 508.2h.01M603 479.3h.01M562.3 521h.01M622.8 536.1h.01M586.5 509.2h.01M617.2 557.1h.01M650.7 514.7h.01M572.5 571.1h.01M626.7 567.5h.01M582.2 503.5h.01M589.4 522.4h.01M611.8 512.8h.01M547 503.2h.01M566.4 513.2h.01M606.7 550.3h.01M559.7 550.3h.01M631.2 563.6h.01M595.7 488h.01M613.9 506.9h.01M587.6 495.4h.01M551.7 520.2h.01M642.6 528.1h.01M593 459.8h.01M598.1 529.2h.01M543.3 496.5h.01M620.1 529.5h.01M532 523.7h.01M549 535.2h.01M578.1 513.2h.01M609.3 509.5h.01M548.6 546.2h.01M572.2 532.4h.01M650.9 562.2h.01M673.1 566.2h.01M614.2 464.4h.01M618.2 540.6h.01M666.5 476.3h.01M629.2 543.5h.01M606.1 544.3h.01M560.1 565.1h.01M566 553.3h.01M635.6 491h.01M574.6 554.1h.01M549.4 541h.01M619.7 555.1h.01M611.4 564.1h.01M654.1 544.2h.01M663.2 481.8h.01M603.4 521h.01M569.6 568.5h.01M574.3 547.2h.01M655 520.4h.01M627.5 510.7h.01M641.5 524h.01M572.8 501.3h.01M586.7 497.5h.01"/>
<path d="M608.8 550.6h.01M594 517.3h.01M550.4 542.9h.01M570.9 514.1h.01M604.5 465.9h.01M585.3 520h.01M582.3 510.4h.01M593.8 524.8h.01M568.1 536.3h.01M571.5 539.4h.01M630.8 553.6h.01M654.4 502.4h.01M556.8 478.8h.01M596.2 546.6h.01M606 484.4h.01M622.7 546.7h.01M642.9 466.5h.01M589.2 504.4h.01M659 477.6h.01M596.9 551h.01M617.6 557.6h.01M573.8 503.6h.01M618.7 563.5h.01M538.7 499.7h.01M615 574.3h.01M589.4 522.1h.01M587 485.3h.01M607.2 551.4h.01M589.1 579.5h.01M576.2 551.4h.01M591.3 502.2h.01M605.5 520.5h.01M645.8 555.7h.01M624.8 456.7h.01M623.2 480.9h.01M572 530.1h.01M588.1 543.9h.01M549.1 527h.01M593.9 491.9h.01M657.2 532.2h.01M639 541.1h.01M537.6 567.2h.01M535.4 503.9h.01M623.7 492h.01M627 478.4h.01M622.3 479.9h.01M573.9 499.7h.01M636.5 520.8h.01M603 556.3h.01M607.9 502.8h.01M575.5 506h.01M570.7 568.7h.01M598.8 576.2h.01M616.2 508.3h.01M548.3 539.9h.01M601.3 444.2h.01M645.1 468.5h.01M617.4 532.7h.01M561.1 497h.01M533.3 526.4h.01M630.7 466.4h.01M637.3 519.4h.01M610 504.3h.01M592.8 520.8h.01M545 519.2h.01M642.3 477.7h.01M635.3 516.1h.01M590.9 504.6h.01M566.1 544.9h.01M596.1 548.9h.01M649.1 501.2h.01M635.7 483h.01M565 520.8h.01M588.4 513.3h.01M611.2 465.8h.01M638.9 516.5h.01M595.4 538.6h.01M572.1 556.9h.01M650.4 525h.01M635.7 514.8h.01M591.3 516.5h.01M610.8 540.9h.01M618 554.6h.01M571.1 498.6h.01M520 528h.01M586.3 514.7h.01M543.4 556.6h.01M571.6 518.9h.01M649.3 515.7h.01M650 515.4h.01M573.8 569.7h.01M611.8 484.5h.01M569.4 532h.01M637.3 494.9h.01M575.7 547.4h.01M627.9 519.1h.01M609.7 536.1h.01M580.9 540.2h.01M658.4 518.6h.01M571.1 491.7h.01M605.1 537.9h.01M659.4 523.9h.01M576.5 525.2h.01M568.7 533.7h.01M573.3 530h.01M583.7 552.9h.01M648.7 538.6h.01M653.7 538h.01M650.1 470.6h.01M605.2 547.3h.01M647.7 564.3h.01M614.2 480.4h.01M562.1 540.7h.01M543.2 492.6h.01M537.7 526.5h.01M657.8 517h.01M556.9 557.7h.01M611.6 542.8h.01M600.7 521.8h.01M592.2 531.2h.01M620.8 543.6h.01M625.1 490.1h.01M574.7 507.5h.01M538.8 515.2h.01M535.5 500.3h.01M536.2 514.6h.01M645.3 530.5h.01M592.2 507.4h.01M647.3 494.6h.01M556.9 528.2h.01M651.8 562.3h.01M590.2 484.4h.01M569 552.2h.01M571.7 521.6h.01M615.6 547.4h.01M637.6 481h.01M584.1 563.9h.01M609.1 508.9h.01M586.4 501h.01M636.3 552.8h.01M524.3 514h.01M540 527.7h.01M642.4 537.2h.01M601.8 494.8h.01M589.6 495.9h.01M644.8 532.9h.01M581.3 472.9h.01M595 539.3h.01M596.4 513.5h.01M615.3 549.4h.01M575.4 557.6h.01M574 533.7h.01M635.9 476.7h.01M602.6 567h.01M621 561.8h.01M640.6 533.8h.01M557 509.8h.01M600.6 513.7h.01M591.4 530.3h.01M573.1 555h.01"/>
<path d="M535.2 547h.01M623.3 551.9h.01M557.5 536.4h.01M590.5 468.7h.01M576.1 507.3h.01M606.9 553.1h.01M542.4 533.5h.01M610.3 482.5h.01M622.8 481.3h.01M582.3 532.8h.01M566.8 506.2h.01M607.5 511.6h.01M564.1 479.4h.01M638.7 471.4h.01M598.2 517.6h.01M566.3 539h.01M590.2 526.2h.01M585.7 550h.01M598 463.5h.01M629.1 483h.01M555 508.6h.01M555.8 502.1h.01M630.4 460.1h.01M597.8 522h.01M567.6 551.5h.01M537.9 510.8h.01M601.7 525.6h.01M637.7 514.3h.01M642 455.3h.01M557.1 505.1h.01M653.3 526.3h.01M558.1 540.3h.01M639.5 489.9h.01M572.9 529.5h.01M522.5 508.3h.01M581.5 529.7h.01M574.1 529.1h.01M603.6 517h.01M621.9 453.5h.01M636.4 553.9h.01M574.3 554.2h.01M591.1 505.6h.01M523.3 513.5h.01M610.2 531.4h.01M637.5 511.5h.01M592.4 474.1h.01M591.4 524.7h.01M606.9 567.4h.01M533.9 534.3h.01M581 521.6h.01M548.3 498.4h.01M648.9 481.6h.01M605.2 527.6h.01M618.9 501.5h.01M612.3 549.2h.01M628.4 500h.01M623.7 525.4h.01M630 515.5h.01M536.5 534.7h.01M655.5 488.6h.01M518.2 501.2h.01M636 520.4h.01M545.4 509.2h.01M564.7 514.6h.01M595.9 544.1h.01M621.7 515.4h.01M558.5 551h.01M526.1 544.6h.01M554.5 505h.01M617.4 467.9h.01M561.6 505.7h.01M583.4 563.9h.01M582.7 498.8h.01M594.8 535.2h.01M594.1 545.3h.01M582.1 487.6h.01M621.3 541.3h.01M644.8 500.3h.01M605.7 571.3h.01M629 467.9h.01M529.7 507.5h.01M541.9 545.3h.01M640.3 520.7h.01M645.9 553.7h.01M554.8 568.4h.01M554 556.7h.01M529.1 549.2h.01M581.9 481.7h.01M662.2 534.4h.01M567.3 540.8h.01M584.8 560.5h.01M547.3 552.2h.01M619 538.6h.01M623.1 540.3h.01M605.6 533.3h.01M588.7 543.6h.01M604.8 532.6h.01M551.2 491.3h.01M605.9 546.6h.01M645.2 469.5h.01M587.1 521.6h.01M584.1 501.4h.01M645.1 484.7h.01M629.7 570.2h.01M533.2 513.1h.01M600.3 534.7h.01M520.8 532.9h.01M665.8 486.2h.01M586.9 489.7h.01M641.3 556.2h.01M555.9 483.4h.01M590.9 475.2h.01M655.5 533.7h.01M620.2 503.6h.01M646.2 518.3h.01M586.8 540.3h.01M594.7 554.9h.01M575.9 534.8h.01M571.1 545.7h.01M548.7 539.8h.01M598.2 531h.01M570.2 549.3h.01M652.6 464.7h.01M627.5 474.5h.01M651.7 501.8h.01M583.3 526.6h.01M648.1 552.8h.01M525.2 558.7h.01M597.2 567.1h.01M651.2 490.1h.01M628.9 565.4h.01M589.2 526h.01M604.6 513.6h.01M608 535.6h.01M545.3 565.7h.01M582.3 545.5h.01M570.5 504.6h.01M620.7 541.7h.01M645.4 507.9h.01M583 540h.01M631.3 512.2h.01M620.9 542.5h.01M646.6 494.7h.01M558.1 505.4h.01M526.9 543h.01M584.6 537.3h.01M607.5 518.3h.01M583.4 517.3h.01M587.8 526.6h.01M653.5 516.6h.01M615.8 543.5h.01M592.9 551.9h.01M594.4 520.4h.01M591.2 541.2h.01M572.8 574h.01M574.1 506.1h.01M565.8 506.8h.01M573.7 534.6h.01M651 552.4h.01M633.7 553.4h.01"/>
<path d="M567.7 517h.01M587.8 556.8h.01M569.4 527.2h.01M617.1 526.7h.01M643.7 525.3h.01M555.5 485.2h.01M590.4 502.3h.01M556.9 505.2h.01M616.4 562.3h.01M622.1 555.3h.01M600.1 558.1h.01M608.8 566.7h.01M633.8 542.4h.01M601 500.8h.01M637.5 527.2h.01M574.7 479h.01M557.2 531.3h.01M585 521.9h.01M604.4 462.1h.01M538.7 540.2h.01M661.4 518.2h.01M590.5 517.4h.01M629 531.2h.01M658.1 507.8h.01M634.2 452.6h.01M647.8 525.6h.01M561.5 512h.01M620.7 556.9h.01M549 543.6h.01M598.5 520.6h.01M550 548.8h.01M549.8 562.7h.01M609.5 568.3h.01M597.9 478h.01M642.1 552.7h.01M593.7 460.5h.01M567.2 513.8h.01M586 572.7h.01M637.3 466.4h.01M597.7 497.7h.01M661.2 518.6h.01M567 529.1h.01M593.3 567.7h.01M622.4 555.8h.01M623.4 507.1h.01M589.8 531.2h.01M570.1 527.1h.01M643.2 484.1h.01M563 527.9h.01M621.1 502.1h.01M638.1 552.1h.01M629 522.7h.01M620.6 460.1h.01M582.7 493.4h.01M547.8 510h.01M635.9 532h.01M660.8 523.8h.01M592.3 564.7h.01M597.2 533.4h.01M607.7 539.2h.01M562.6 558.3h.01M645.4 533h.01M592.8 507h.01M603.8 535.3h.01M534.1 509.2h.01M567.6 549.9h.01M655.7 536.2h.01M594.6 546.9h.01M547 530.8h.01M587.4 557.5h.01M598.9 564.3h.01M631.7 500.1h.01M606 538.6h.01M588.1 530.4h.01M616.7 477.9h.01M597.1 557.5h.01M569.5 556h.01M638.8 557.3h.01M620.6 544.9h.01M616.7 542.1h.01M597.8 505.3h.01M595.1 514.5h.01M561.1 539.7h.01M557.3 545.6h.01M658.4 482.9h.01M661.3 517.2h.01M625.7 467.4h.01M530.4 544.8h.01M651.4 499.4h.01M577.2 500.4h.01M559 566.7h.01M571.9 524h.01M555.1 506.7h.01M623.8 566.5h.01M574.8 474.7h.01M584.2 561.2h.01M600.1 466h.01M607.4 488.5h.01M570.3 586.3h.01M631.6 498.9h.01M565.8 516.4h.01M643 531.2h.01M601.6 524.8h.01M645.6 503.2h.01M565 560.3h.01M604.8 568h.01M570 536.2h.01M603.7 525.2h.01M575.5 568.4h.01M623.5 545.3h.01M539.8 555h.01M521.6 565.5h.01M577 519.9h.01M648.3 526.9h.01M622.9 539.8h.01M568.9 511h.01M552 572.1h.01M636.4 458.2h.01M623.7 528.2h.01M583.8 554.5h.01M546.7 511.2h.01M582.7 500.7h.01M632.4 503.6h.01M552.5 539.7h.01M568.1 508.8h.01M635.1 524.1h.01M649.6 485h.01M659.3 484.6h.01M616.1 515.6h.01M604.3 517.5h.01M609.8 540.4h.01M618.6 514.4h.01M648.1 560.9h.01M544.8 513.5h.01M596.4 466.3h.01M622.8 561.2h.01M540.7 557.6h.01M626.7 516.5h.01M652.2 466.3h.01M606.4 460.7h.01M620.7 501.5h.01M590.3 534.4h.01M624.2 512h.01M574.6 518.7h.01M554.5 524.4h.01M604 554.3h.01M550.9 524.5h.01M568.2 483.7h.01M632 505.8h.01M650.2 509.4h.01M658.1 530.1h.01M600.4 558.9h.01M638.5 456.6h.01M587.3 538.1h.01M621.2 477.8h.01M564.4 528.5h.01M537.9 554.7h.01M575.5 491.5h.01M631.3 534.4h.01M626.8 517.6h.01"/>
<path d="M640.8 494.7h.01M551.6 501.3h.01M592 463.8h.01M647.6 476h.01M570.6 557.2h.01M653.2 490.6h.01M580.8 548.6h.01M611.4 502.9h.01M633.8 498.6h.01M648.6 537.3h.01M598.1 557h.01M658 506.3h.01M589.6 519.1h.01M560.3 567.5h.01M619.3 527h.01M557.5 492.3h.01M556.4 520.4h.01M662 525.3h.01M583.2 567.9h.01M622.9 520.5h.01M570.1 541.4h.01M531.7 542.6h.01M575.5 498.8h.01M629.9 513.8h.01M647.3 546h.01M580.5 547.5h.01M568.2 565.6h.01M542.6 505.3h.01M540.9 507.4h.01M577.1 539.1h.01M612.5 460.4h.01M554.2 511.1h.01M552 529.7h.01M613 490.6h.01M564 485.8h.01M625.1 513.4h.01M590.3 531.4h.01M661.6 541.9h.01M562.1 502.7h.01M608.9 477.8h.01M636.3 521.6h.01M646 500.3h.01M555.8 504.3h.01M592.4 549.9h.01M593.6 522.7h.01M562.2 549.8h.01M605.5 530.3h.01M557.3 504.5h.01M598.1 493.4h.01M640.6 459.9h.01M540.7 546.4h.01M550.1 528.5h.01M524 530.6h.01M553.6 562.8h.01M602.9 531.6h.01M637 505.6h.01M629.5 548.6h.01M637.5 473.1h.01M610.7 557.3h.01M570.6 542h.01M586.8 532.6h.01M630.5 542.1h.01M600.3 493.2h.01M583.4 571.3h.01M602.7 563.5h.01M591.1 512.8h.01M604 521.9h.01M511.3 548.9h.01M630.9 487.1h.01M535.8 529.1h.01M559.3 558.9h.01M619.3 489.2h.01M620.4 515.8h.01M644 492.8h.01M533.7 557.1h.01M652.8 469.7h.01M561.3 537.9h.01M562.9 552.1h.01M632.4 461.6h.01M580 517.3h.01M565.8 545.2h.01M561.2 547.6h.01M575.5 547.8h.01M640.7 492.9h.01M531.5 526.1h.01M627.2 523h.01M601.2 545.9h.01M634.7 516.1h.01M652.6 511.2h.01M569.3 547.4h.01M581 494.3h.01M657.4 550.8h.01M639.6 527.7h.01M584.7 525.2h.01M621.4 549.9h.01M593.1 496.4h.01M580.5 527.4h.01M548.5 492.9h.01M628 551.7h.01M614.4 464h.01M599.9 517.3h.01M550.8 554.2h.01M522 524.6h.01M592.3 557.8h.01M600.6 538h.01M565.9 559.4h.01M542 490.8h.01M575.3 479.1h.01M639.9 553.1h.01M600.2 555.9h.01M567.8 571.3h.01M528.7 544.3h.01M631.5 494h.01M626.6 521h.01M571.6 525.9h.01M570 492.3h.01M601.6 565.8h.01M619 478.1h.01M634.4 551.3h.01M544 500.9h.01M573.1 553.5h.01M626 499.8h.01M655.2 543h.01M629.4 473.2h.01M634.6 497.6h.01M629.2 539.2h.01M639.4 525.5h.01M615.5 475.4h.01M580.8 487.3h.01M604.2 468.1h.01M537.7 546.5h.01M656.2 512.5h.01M650.9 542.1h.01M644.7 542.2h.01M567.7 506.9h.01M602.7 506.1h.01M594.8 549h.01M540.4 524h.01M542.5 530h.01M629.8 532.3h.01M635.8 508.4h.01M639.6 517.8h.01M548.1 520.2h.01M561.9 558.5h.01M530.1 495.4h.01M563.4 486.3h.01M595.4 508.3h.01M544.3 525h.01M591.7 516.4h.01M595.8 460.8h.01M649.1 498.7h.01M528.5 526.1h.01M563.4 540.1h.01M648.9 514h.01M600.5 571.4h.01M612.3 503h.01M583.4 530.3h.01M624 510.9h.01M635.5 500.4h.01M597.4 498h.01"/>
<path d="M635.9 459.7h.01M598 461h.01M625.8 554.9h.01M645.7 471.7h.01M651.6 524.7h.01M544.5 517.3h.01M648 546.3h.01M627.2 484h.01M612 529.6h.01M572.3 535.1h.01M555.9 514.3h.01M599.3 490.3h.01M554.4 544.7h.01M560 526.4h.01M521.3 541.8h.01M673.3 522.4h.01M539 494.2h.01M609.3 498.7h.01M536.7 513.3h.01M563.4 549.7h.01M539.3 536.8h.01M559 483.8h.01M597.1 499.2h.01M576.1 537h.01M612 453.7h.01M548.3 540.6h.01M569.3 498.6h.01M650.1 518.7h.01M591.4 561.4h.01M640.7 506.1h.01M544.3 491.8h.01M580 522.2h.01M556 508.5h.01M606.2 475.4h.01M558.6 520.9h.01M609.9 537.8h.01M553.3 485.6h.01M627.2 537.8h.01M590.7 460.2h.01M567.9 562h.01M567.1 519.4h.01M634 470.4h.01M619 478.1h.01M562.9 510.7h.01M581.1 498.6h.01M592.2 561.5h.01M534.9 506.9h.01M631.5 492.5h.01M616.2 538h.01M646.8 478.3h.01M603.3 497.6h.01M603.4 534.5h.01M621.1 556.1h.01M588.8 526.9h.01M672.5 515.5h.01M588.9 558.9h.01M653.4 480.2h.01M571.1 543.2h.01M620.5 521.1h.01M655 551.1h.01M581.9 550.9h.01M649.7 529h.01M536.5 515.7h.01M542.5 525h.01M593.9 492.2h.01M622.5 519.4h.01M615.2 529.4h.01M615.9 545.8h.01M577.2 513.4h.01M565.6 568.2h.01M655.2 547.3h.01M536.2 498.5h.01M617.7 508.2h.01M610.7 501.5h.01M616.1 520h.01M574.7 530.7h.01M581.8 531.2h.01M603.7 456.9h.01M578.7 476.5h.01M572.4 531.8h.01M597.5 490.1h.01M662.4 545.8h.01M612.4 500.1h.01M661.4 556.3h.01M619.2 521.1h.01M606.1 557.2h.01M577.7 557.6h.01M603 533.9h.01M648.3 541.3h.01M658.3 551.2h.01M602.1 503.3h.01M647.3 554.7h.01M609.6 510.5h.01M599.8 549.9h.01M585.1 521.7h.01M535 491.7h.01M648.5 486.6h.01M639 552.5h.01M643.1 551.3h.01M608.1 561.1h.01M565.4 484.9h.01M585.6 494.7h.01M541.7 504.5h.01M531.6 526.6h.01M618.5 504.9h.01M527.2 517.3h.01M530.7 522.3h.01M642.3 554.1h.01M573.3 523.1h.01M631.8 503.6h.01M522.7 511.7h.01M581.3 536.4h.01M524.9 489.9h.01M537.9 508.8h.01M644 532.8h.01M629.2 542.1h.01M532.5 507.6h.01M645.4 523.9h.01M633.9 516.9h.01M561.1 515h.01M636.6 498.9h.01M550.9 518.4h.01M627.6 543.7h.01M558.6 508.2h.01M571.7 524.4h.01M523.1 520.7h.01M594.8 549h.01M557.2 507.9h.01M630.6 544.4h.01M625.6 482.2h.01M545.2 556h.01M579.5 552.8h.01M626.2 518.5h.01M557.1 537.8h.01M559.7 545h.01M573.7 527.7h.01M642.3 527.3h.01M598.9 542.4h.01M654.9 527.8h.01M593.2 551.9h.01M640.7 536.8h.01M632.4 545.4h.01M552.9 542.2h.01M643.8 542h.01M593.4 543.3h.01M572 537.8h.01M578.3 524.8h.01M576.8 540.5h.01M609.4 544.1h.01M560.1 544.2h.01M592.2 475.9h.01M607.2 557.5h.01M567.1 565.9h.01M621.5 540.8h.01M606.3 568h.01M535.3 522.6h.01M668.2 573.4h.01M646 514.7h.01M629.5 479.5h.01M602.7 492.6h.01"/>
<path d="M602.5 512.2h.01M639.5 545.9h.01M627.8 519.5h.01M652.6 509.7h.01M535.1 497h.01M571 500.1h.01M560.5 478.4h.01M657 528.9h.01M598.2 526.6h.01M598.9 542h.01M595.1 481.2h.01M607.4 462.5h.01M655.4 519.7h.01M533.9 552.1h.01M593.1 496.6h.01M641.6 554.5h.01M591.1 480.4h.01M584.7 512h.01M624.8 457.6h.01M540 544.7h.01M638.2 563.4h.01M633.8 490.7h.01M580.4 490.8h.01M573.5 475.7h.01M624.1 522.1h.01M606.6 524h.01M567.6 501.8h.01M600.2 503.6h.01M626.7 538.7h.01M647.1 529.1h.01M587.4 566.3h.01M603.4 504.9h.01M601.1 526.4h.01M589.1 504.4h.01M635.1 461.5h.01M554.3 532.3h.01M596.2 530.8h.01M598.2 507.5h.01M592.1 480h.01M598.6 517.9h.01M548.9 517.1h.01M619.9 532.9h.01M644.4 545.5h.01M627.7 514.1h.01M647 515.2h.01M595.1 548.5h.01M603.8 462.8h.01M594.8 524.1h.01M613.8 534.8h.01M570 579.3h.01M581.3 553.7h.01M611.6 507.3h.01M523.5 514.1h.01M594.5 456.1h.01M564.8 503.9h.01M624.1 508h.01M602 552.2h.01M598.8 528.6h.01M552.9 505.8h.01M591.6 516.1h.01"/>
</g>
<g fill="none" stroke="#ebb145" stroke-opacity="0.12" stroke-width="2.60" stroke-linecap="round">
<path d="M744.3 498.6h.01M772.3 468.3h.01M734.3 505.8h.01M758.8 469.4h.01M795.4 485.4h.01M760.8 475h.01M767 474.8h.01M789.7 507.2h.01M770.9 521.5h.01M765.9 460.1h.01M760.3 469.1h.01M758.5 444h.01M732.3 494.4h.01M735.3 479.3h.01M728.8 491.4h.01M749 454.1h.01M762.1 464.8h.01M747 479.7h.01M763.8 490.9h.01M750.7 448.2h.01M772.1 485.2h.01M745.3 477.7h.01M797.2 493h.01M776.2 469.4h.01M752 476.7h.01M784.3 457.5h.01M735.2 496.7h.01M753.4 513h.01M771.6 472.3h.01M750.7 458.1h.01M783.9 492.7h.01M759.6 461.2h.01M772.9 468.8h.01M729.2 477.6h.01M761.1 471.3h.01M781.4 506.7h.01M737.5 518.5h.01M755.9 468.2h.01M787.1 467.4h.01M762.3 517.1h.01M751.7 515.5h.01M738.7 485.1h.01M761.1 495.1h.01M775.8 502.1h.01M735.2 466.2h.01M766.5 482.4h.01M741.4 500.2h.01M761.1 486.4h.01M789.9 472.4h.01M760.8 468.7h.01M739.3 498.2h.01M760.2 460.5h.01M764.7 497.7h.01M762 434.8h.01M772.4 514.9h.01M753.8 505.5h.01M767.3 475.8h.01M739.8 495.1h.01M744.3 479.3h.01M773.3 502.6h.01M759.5 486.3h.01M781.6 475.1h.01M771.8 459.3h.01M732 484.3h.01M707.1 509.4h.01M785.3 486.1h.01M720.1 489.3h.01M747.9 475.5h.01M727.3 480.7h.01M751.9 438.1h.01M766.2 463.1h.01M781.3 518.3h.01M747.4 511.4h.01M759.1 476.5h.01M723.7 487.6h.01M731.1 478.6h.01M787.4 498.1h.01M774.3 429.2h.01M758.8 483.5h.01M784.8 499.1h.01M741.7 488.3h.01M746.6 519.4h.01M782.5 432.7h.01M773.3 492.5h.01M772 456.3h.01M763.5 477.2h.01M786.1 502.9h.01M767.4 473.9h.01M744.3 482.9h.01M763 464.8h.01M811.7 482.3h.01M801 467.7h.01M794.1 498.5h.01M767.3 455.4h.01M809.2 447.1h.01M788.4 452.2h.01M824.6 518.6h.01M738.6 462h.01M735.1 446.5h.01M747.1 472.3h.01M770.4 489.8h.01M773.4 496h.01M746.7 461.5h.01M766.1 450.5h.01M792.1 447.9h.01M780.1 500.5h.01M749.2 459.2h.01M763.9 523.7h.01M753.6 515.8h.01M781.8 512.3h.01M746.5 490.5h.01M745.2 501.7h.01M788.6 457.9h.01M785.5 455.7h.01M756.1 477h.01M764.1 486h.01M767.2 495.8h.01M749.5 518.7h.01M765.6 489.6h.01M746.8 501.8h.01M786.7 441.5h.01M774.6 503.9h.01M747.8 448.1h.01M754.8 481.8h.01M753.6 471.8h.01M772.7 463h.01M781.6 465.8h.01M725.8 499.9h.01M765.2 510.4h.01M767.8 479.3h.01M757.4 491.1h.01M729.7 506.4h.01M741.5 494h.01M755.6 476h.01M728.8 465.7h.01M772.5 499.5h.01M755 480.6h.01M784.6 493.3h.01M808.3 497.5h.01M775.7 443.7h.01M752.8 480.7h.01M743.7 496.6h.01M794.3 468.3h.01M734.9 498.9h.01M786 480.7h.01M750.1 503.9h.01M802.9 468h.01M775.7 493.2h.01M781.9 504.4h.01M798.1 465.6h.01M769.7 481.7h.01M748.2 506.5h.01M750.5 496.5h.01M751.8 495.2h.01M788.5 490.5h.01M757.1 475.5h.01M785.7 474.4h.01M754.2 503.8h.01M756.7 469.2h.01M786.1 507.9h.01"/>
<path d="M786.6 501.6h.01M730.3 465.7h.01M784.9 509.6h.01M725.7 499.9h.01M767 498.6h.01M771 458.8h.01M741.3 470.8h.01M751.6 508.4h.01M757.8 495.1h.01M730.9 461.1h.01M761.1 511.7h.01M762.4 496.7h.01M759.5 477.1h.01M737.4 473.9h.01M761.4 466.1h.01M760.9 508.5h.01M746.1 519.6h.01M718.2 488.8h.01M809.8 477.6h.01M699 488.1h.01M811.9 493.9h.01M750.1 481.9h.01M778.3 472.1h.01M754.1 445.4h.01M768.1 485.9h.01M759.1 442.2h.01M759.3 450.6h.01M759.5 464.9h.01M762.2 486.9h.01M760 500.6h.01M749.5 490.6h.01M763.7 450.2h.01M741.1 490.5h.01M732.3 476.8h.01M789.2 520.7h.01M795.4 453.7h.01M758.4 488.6h.01M754.7 444.6h.01M783.9 479.8h.01M755 503.6h.01M721.1 484.3h.01M791.5 482.7h.01M729.5 484.4h.01M772.2 452.1h.01M773.1 455.7h.01M749.5 471.3h.01M779.8 482.5h.01M744.4 469.5h.01M760.8 506.6h.01M746.8 481.3h.01M756.5 517.8h.01M792.4 485h.01M780.1 517.6h.01M727.5 482h.01M778.2 494.1h.01M752.7 490.1h.01M746.7 464.2h.01M761.4 439h.01M748.9 497h.01M782.8 526.7h.01M754.1 458.4h.01M755.4 473h.01M789 439.6h.01M741 497.6h.01M718.9 477.6h.01M759.7 511.3h.01M800.1 495.5h.01M792.5 496.6h.01M753.4 501.6h.01M764.1 448.4h.01M734.4 510.1h.01M790.8 439h.01M781.6 490.9h.01M774.9 445.4h.01M785.4 517.2h.01M751.3 464.5h.01M756.8 487.1h.01M789.3 464.5h.01M784.6 443.6h.01M762.6 474.6h.01M803.6 486.4h.01M734.6 495.1h.01M766.1 462h.01M733.7 519.8h.01M758.3 480.2h.01M742.5 455.1h.01M789.2 475h.01M747.7 491.7h.01M784.6 492.9h.01M732.8 504.6h.01M757.7 472.5h.01M739.5 490h.01M731.2 519.6h.01M793 496.9h.01M745.2 497.8h.01M762.5 490.6h.01M770.4 444.1h.01M760.6 495.6h.01M794.9 474h.01M775.3 479.2h.01M807.7 481.1h.01M747.4 501.3h.01M776.6 506.4h.01M808.5 485.4h.01M760.8 504.1h.01M773.2 515h.01M768.2 496.2h.01M779.8 517.7h.01M757.4 497.5h.01M725.5 477.5h.01M764.5 444.3h.01M777.6 458.3h.01M783.1 491.5h.01M754.1 453h.01M792 444.9h.01M772.8 476.8h.01M809.9 475.1h.01M778.5 514.8h.01M740.5 459.5h.01M751.4 501h.01M794.5 512.2h.01M748.4 459.1h.01M773.1 465.6h.01M769.1 474.3h.01M770.1 506h.01M742.2 530.2h.01M791 503h.01M754.5 477.3h.01M776.9 482.3h.01M773.1 448.5h.01M768.9 464.6h.01M814.7 469.2h.01M742.2 466h.01M783.5 444.2h.01M749.4 449h.01M749.1 496.3h.01M756.3 471.5h.01M739.2 454.7h.01M782.1 508.9h.01M762.6 488.3h.01M767.7 461.9h.01M755.8 472.4h.01M778.1 495.7h.01M792.5 452.9h.01M763.6 493.7h.01M780.8 448.5h.01M771.1 484.1h.01M751.8 487.8h.01M768.8 447h.01M767.7 525.6h.01M797.4 514.3h.01M745.4 488.5h.01M757.5 504h.01M736.5 486.3h.01M828.1 461.6h.01M737.6 510.2h.01M789.4 506.4h.01M769.3 437.5h.01M805.9 468.2h.01M781 419.2h.01"/>
<path d="M795.7 442.6h.01M790.6 484.1h.01M758.1 480.8h.01M777.4 469.6h.01M749.4 528.4h.01M797 481.9h.01M795.2 486.8h.01M732.1 459.5h.01M740.5 512.8h.01M776.4 516.3h.01M731.6 501.6h.01M771.8 467.5h.01M782.8 521.5h.01M793.7 464h.01M794.6 456.3h.01M738.2 466.4h.01M765.7 476.6h.01M786.3 506.2h.01M789.9 469.9h.01M738.4 471.2h.01M778.5 504.7h.01M747.2 467.7h.01M762 431h.01M758.7 457.7h.01M787 437.2h.01M777.1 479.5h.01M740.6 463.5h.01M776.5 488.1h.01M742.9 487h.01M752 487h.01M780.8 493.3h.01M748.6 485.5h.01M768.8 493.9h.01M806 479.4h.01M749.3 517.4h.01M779.9 451.7h.01M784.1 452.6h.01M745.5 499.4h.01M758.6 494.5h.01M783.1 433.7h.01M773.4 509.8h.01M762 511.2h.01M758.5 444.3h.01M773.4 504.6h.01M790.2 454.8h.01M787.4 485.3h.01M773.9 499.5h.01M777.4 456.2h.01M747.8 492.6h.01M741.3 480.2h.01M770 435.3h.01M760.2 458.9h.01M780.5 455h.01M734.7 492.7h.01M740.3 503.6h.01M736.2 474.2h.01M749.2 451.3h.01M803.9 483.9h.01M767.3 486.3h.01M792 466.2h.01M794.7 479.1h.01M776.8 477.5h.01M757.2 509.5h.01M745.1 510.5h.01M773.4 515h.01M783 485h.01M765.3 497.3h.01M725.7 496.1h.01M770.4 499.1h.01M803.8 514.9h.01M752.9 500.8h.01M776.2 487.9h.01M771.4 479.8h.01M776.5 482.6h.01M781.1 520.8h.01M778 467.9h.01M794.9 441.7h.01M757 458.7h.01M756.9 490.6h.01M748 483.2h.01M798.2 482.5h.01M728.2 464h.01M741.4 517.8h.01M760.3 527.4h.01M760.7 516.6h.01M738.9 465h.01M762.2 489.4h.01M776.4 485h.01M764.1 459h.01M764 504.8h.01M731.5 491.4h.01M764.3 514.2h.01M731.4 459.8h.01M758.4 488.6h.01M797.9 455h.01M807.3 512.3h.01M784 507.5h.01M765.6 492.6h.01M765.6 475.7h.01M770.6 485.9h.01M758.2 476.7h.01M755.4 464.5h.01M737.8 497.9h.01M773.5 468.8h.01M808.6 487.1h.01M795.9 463.9h.01M761 475.4h.01M803.2 462.5h.01M752.7 490.3h.01M754.4 485.3h.01M739.7 483.5h.01M802.2 499.4h.01M758.1 492.9h.01M744.3 457.8h.01M775.1 489.4h.01M749.3 480.8h.01M762.5 473.9h.01M770.6 498.9h.01M775 456h.01M734.3 506.9h.01M765 508.1h.01M774.5 440.2h.01M800.9 448.5h.01M756.3 464.3h.01M759.9 453.5h.01M748.6 445.3h.01M752.1 484.7h.01M777.4 464.2h.01M764.3 484.2h.01M761.2 487.5h.01M768.4 484.5h.01M747.2 506.4h.01M735.5 490.1h.01M745.7 516h.01M773 488.3h.01M753.9 451.5h.01M780.4 457.5h.01M781.3 504.1h.01M739.6 483h.01M780.3 438.4h.01M809.6 488.8h.01M745.1 491.7h.01M784.9 498.7h.01M812.3 509h.01M788.1 438.4h.01M750.6 475.6h.01M769.1 500h.01M731 478.9h.01M748.8 486.6h.01M761 472.3h.01M780.6 478.5h.01M730.6 486.9h.01M754.8 486.7h.01M753.3 489.1h.01M738.3 529.4h.01M760.6 450.2h.01M748.5 492.8h.01M763.9 477.6h.01M755.8 445.6h.01M800.3 454.7h.01"/>
<path d="M784.2 496.1h.01M767.3 491.2h.01M752.8 476.4h.01M743.6 463.6h.01M748.3 456.9h.01M739.1 460.8h.01M791 488.9h.01M719.4 500.3h.01M775.1 441.1h.01M744.6 452.2h.01M764.7 472.9h.01M751 507.9h.01M746.2 483.9h.01M758.9 491.6h.01M748.8 473.7h.01M785.8 467.3h.01M763.6 443.5h.01M771.3 468.2h.01M789.8 450.4h.01M800.3 491.2h.01M789.8 447.5h.01M755 435.9h.01M798.5 448h.01M770.3 509.6h.01M785.3 478.5h.01M762 456.4h.01M752.8 487.1h.01M723.1 479.6h.01M772.2 487.2h.01M766.4 437.6h.01M771.4 482.9h.01M770.7 495.6h.01M740.4 457.5h.01M727.6 491.1h.01M761.3 495.8h.01M750.8 490.3h.01M771.7 442.4h.01M755.6 487h.01M799.8 478.4h.01M733.9 503.4h.01M745.4 491.2h.01M797.3 485.2h.01M748.2 461.5h.01M760.6 498.4h.01M739.5 500.1h.01M774.6 486.4h.01M744.7 462.3h.01M768.6 486.4h.01M789.4 499.9h.01M786.9 453.4h.01M797 478.2h.01M732 513.6h.01M765.8 511.9h.01M780.8 496.1h.01M747.7 494.6h.01M752.8 489.6h.01M777.2 465.3h.01M790.8 481.8h.01M740.6 476.6h.01M744 447.5h.01M770.9 490.7h.01M790.6 500.5h.01M752 472.4h.01M752.2 476.8h.01M765 495.9h.01M734.7 479h.01M784 509.5h.01M754 461.2h.01M781.7 447.7h.01M791.2 515.9h.01M802.9 475.4h.01M715.1 487.9h.01M763.9 480.2h.01M771.7 499.4h.01M768.4 441.2h.01M732.9 463.3h.01M772.8 460.6h.01M786.6 484.9h.01M731.9 472.6h.01M726.5 488.3h.01M747.9 498.7h.01M762.7 526.5h.01M770.2 480.3h.01M736.3 507.9h.01M766.6 484.9h.01M794.7 479h.01M788.8 465.1h.01M790.1 465h.01M768.9 501.1h.01M788.6 486.5h.01M775.8 519.9h.01M735.4 489h.01M767.1 478.2h.01M765.4 491.7h.01M766.9 449.4h.01M738.2 478.9h.01M787.4 491.5h.01M765.3 502h.01M780.4 479.4h.01M752.1 476.4h.01M734 500h.01M757.2 508.4h.01M768.8 479.1h.01M770.8 472.1h.01M784.7 501.1h.01M775.1 432.8h.01M797 483.5h.01M751.7 508.3h.01M790.2 496.4h.01M763.6 452.2h.01M755.9 483.8h.01M797.8 503.2h.01M761.4 468.3h.01M774.5 467.8h.01M798 489.3h.01M769.7 476.1h.01M746.3 498.5h.01M772.9 459.6h.01M768 488.4h.01M791.1 475.8h.01M805.2 489.7h.01M795.9 475.2h.01M781.4 455.6h.01M806.3 456.5h.01M735.7 502.1h.01M798.5 509.4h.01M775.4 495.3h.01M733.6 460.9h.01M770.7 501.9h.01M820.7 466.9h.01M726.1 481.6h.01M748.3 473.6h.01M802.2 503h.01M759.2 496h.01M771.8 484.5h.01M762.3 499h.01M788.1 489.7h.01M725.9 495.6h.01M768.9 500h.01M743.1 478.8h.01M736.9 465.1h.01M757.8 505.8h.01M760.8 522.2h.01M737.1 466.4h.01M746 503.1h.01M769.3 446.4h.01M734.5 510.5h.01M731.7 499.7h.01M786.7 517.4h.01M800.4 500h.01M775.2 487.7h.01M764.4 495.7h.01M793.8 461.2h.01M745.6 511.3h.01M809.5 482.9h.01M720.9 455.6h.01M793.6 515.2h.01M728.4 478.6h.01M735.1 472.1h.01M729.3 479.9h.01"/>
<path d="M785 448.3h.01M742.5 441h.01M795.7 465.8h.01M761.3 437.2h.01M792 470.3h.01M774.8 485.3h.01M772.2 486.8h.01M747.8 490.5h.01M763.2 466.8h.01M785.6 486.9h.01M789.3 500.4h.01M767.4 470.5h.01M752.4 480.4h.01M752.2 451.5h.01M764.8 497.3h.01M731.5 478h.01M787.3 430.7h.01M738.1 482.2h.01M736.6 489.7h.01M752.8 503.3h.01M763.6 504.8h.01M788.9 501.1h.01M755.3 511.5h.01M767.3 430.6h.01M779.4 523.5h.01M767.7 463.3h.01M749 472.6h.01M781.2 467.1h.01M776.5 447.2h.01M756.7 464.8h.01M804.4 430.6h.01M788 510.4h.01M774.3 523.5h.01M748.4 472h.01M763.2 475.6h.01M783.1 454.2h.01M759.4 477h.01M738.1 485.2h.01M773.1 489.7h.01M742 516h.01M757.7 535.6h.01M742.8 436.5h.01M770.2 502.2h.01M750.5 476.7h.01M784.4 470.6h.01M753.7 440.5h.01M743.9 488.6h.01M787.4 496h.01M765.7 482.2h.01M798.3 479h.01M752.8 452.5h.01M767.6 485.8h.01M760 523.9h.01M760.1 468.9h.01M759.7 472.8h.01M781.7 517.2h.01M730.3 497h.01M753.2 477.5h.01M753.1 494h.01M792.7 507.2h.01M762.8 480h.01M756.9 506.2h.01M782.6 487.3h.01M757.7 456.3h.01M778 452.1h.01M764.7 518.5h.01M782.5 515.3h.01M762.8 470h.01M733.7 456.9h.01M751.3 488h.01M773.7 499.1h.01M764.9 521.6h.01M731 511.7h.01M786.9 463.8h.01M785.5 451.7h.01M748.1 491.2h.01M772.6 500.9h.01M720.4 513.8h.01M745.9 471.7h.01M754.5 487.2h.01M721.4 496h.01M785.6 486.2h.01M761.1 528h.01M745.7 473h.01M797.4 490.4h.01M779.8 439h.01M802.8 490.2h.01M746.5 483.8h.01M784.4 441.3h.01M747.7 504.1h.01M774.9 502.5h.01M753.4 445.1h.01M769 427.8h.01M765.2 475.7h.01M785.3 476.4h.01M725.7 473.6h.01M761.4 466.9h.01M763.9 490.5h.01M747.5 500.8h.01M751.1 487.5h.01M728 528.3h.01M772.5 476.6h.01M798.5 471.9h.01M742.9 509.7h.01M733 470.7h.01M767.5 479.1h.01M784.1 509.4h.01M742.4 472.5h.01M763.3 475.2h.01M803.2 508.6h.01M776.7 455.9h.01M753.9 483.1h.01M795.8 500.3h.01M774.2 490.4h.01M809.4 523.9h.01M764.8 489.1h.01M758.9 439.9h.01M743.8 452.1h.01M744 483.7h.01M724.9 509h.01M792.5 509.7h.01M765.4 447.3h.01M778.3 495h.01M769.7 487.8h.01M785.1 506.7h.01M732.4 496.4h.01M788.2 463.1h.01M764.2 522.9h.01M737.6 518.8h.01M725.3 464.4h.01M779.1 473.9h.01M776.7 484.8h.01M759.9 493.4h.01M737.7 469.9h.01M785.9 430.9h.01M757.2 494.7h.01M774.6 496.8h.01M750.4 504.3h.01M777.6 494.6h.01M734.1 476.1h.01M768.8 499.3h.01M807.8 463.9h.01M718.7 502.9h.01M771.8 512.1h.01M793.5 506.6h.01M734.9 515.4h.01M758.4 494.7h.01M771.6 500.1h.01M807.8 446.5h.01M778.5 503.4h.01M778.9 484.2h.01M719.1 526.4h.01M783.2 497.4h.01M782.5 457.7h.01M749 484.1h.01M744.4 474.1h.01M778 508.9h.01M772.6 484.2h.01M748.2 464h.01M759.7 520h.01"/>
<path d="M735.8 482.1h.01M739 492.4h.01M795.9 461.6h.01M781.1 500.4h.01M754.8 490h.01M795.4 506.5h.01M768.5 493.9h.01M774.9 478.7h.01M764.8 487.8h.01M797.4 454.9h.01M783.7 445h.01M797.7 459.9h.01M796.2 442h.01M743.1 504.6h.01M753.6 449.7h.01M774.5 473.4h.01M794.3 445.6h.01M799.2 499.9h.01M786.5 492.6h.01M789.2 450.6h.01M733.2 485.7h.01M760 451.5h.01M766.7 462.7h.01M761.9 489.8h.01M763.7 480.4h.01M796.5 463h.01M769.3 508.7h.01M784.4 517.5h.01M731.3 477.4h.01M761.6 468.1h.01M762.5 438.2h.01M778.2 464.9h.01M759.4 466.2h.01M786.4 517.9h.01M748.1 474.2h.01M777.6 513.1h.01M739 478.7h.01M727.4 494h.01M761.6 470.8h.01M736.4 475.4h.01M765.1 431.3h.01M780 496.3h.01M766.4 478h.01M792.6 501.3h.01M766.8 463.5h.01M757.1 494.6h.01M729.2 476.2h.01M761.6 475.7h.01M749.5 486.1h.01M767.9 483.7h.01M764.1 478.1h.01M807.1 461.4h.01M752.1 464.3h.01M763.7 493.3h.01M762.7 456.4h.01M755.8 471.4h.01M764.9 445h.01M742.7 501.8h.01M781.3 467.9h.01M758.9 482.9h.01M756.6 507h.01M787.1 489.5h.01M756.1 501.3h.01M762.2 497.9h.01M788.2 468h.01M763.8 454.7h.01M797 455.4h.01M786.9 471.1h.01M766.6 459.9h.01M767.4 502.1h.01M780.2 522.3h.01M804.9 494.1h.01M757.6 472h.01M730.1 523.5h.01M743.5 476.8h.01M761 479.8h.01M761.2 502.1h.01M757.7 486.1h.01M763.1 480.2h.01M767.6 499.3h.01M772.8 500.4h.01M783.3 463h.01M772.7 470h.01M758.5 508.5h.01M793.3 474.9h.01M760.6 430.2h.01M772.1 456.3h.01M771.6 489.3h.01M757.8 485.5h.01M756.4 514.4h.01M765.9 447.7h.01M760.9 497.1h.01M754.9 490h.01M767.7 455h.01M774.6 483.1h.01M756.4 486.5h.01M756.4 452.8h.01M781.6 493.6h.01M796.3 483h.01M744.5 479.7h.01M772.4 476h.01M789.5 442.4h.01M762.1 503.1h.01M728.8 481.9h.01M728.1 472.2h.01M742.1 505.8h.01M760.2 465.1h.01M732.8 503.9h.01M756.9 527.3h.01M790.3 486.4h.01M789 455.3h.01M791.9 467.4h.01M739.1 503.8h.01M796.5 478.4h.01M774.8 443.6h.01M736.1 482.9h.01M788.8 509.6h.01M761.8 486.1h.01M741.4 461.8h.01M780 501.3h.01M753.1 456.4h.01M775.1 483.3h.01M716.1 481.8h.01M775.8 494.8h.01M790.7 462.4h.01M764 477.2h.01M786.1 500.9h.01M728.9 502.1h.01M770.2 479.2h.01M797.6 454.8h.01M750.9 495.7h.01M785.7 512.7h.01M781.2 449.9h.01M772.2 479.9h.01M748.8 468.4h.01M731.5 492.9h.01M766.2 512.7h.01M802 473.7h.01M745.6 477.9h.01M779 466.4h.01M746 472.8h.01M765.9 517h.01M789.2 486.7h.01M745.2 487.6h.01M738.6 502.6h.01M761.2 490.7h.01M771.9 495.2h.01M761.4 437.2h.01M736 465.2h.01M790.8 512.4h.01M724.2 494.6h.01M789.5 481.8h.01M749.5 426.1h.01M770 494.7h.01M793.7 456.6h.01M748.4 456.3h.01M783.3 452.1h.01M767.7 510h.01M760 522.6h.01M729.3 490.9h.01"/>
<path d="M761 497.6h.01M766.9 446.7h.01M755 517h.01M765.2 474.3h.01M768.6 471.7h.01M743.4 467.3h.01M784.7 483.5h.01M775.5 450h.01M736.7 475.9h.01M766.7 463.1h.01M743.2 491.4h.01M729.2 484.8h.01M750.7 461.8h.01M790.8 511.5h.01M740.4 501.5h.01M793.6 473.8h.01M738.8 475.6h.01M765.2 502.4h.01M795.3 481.5h.01M782.7 439.7h.01M759.3 489h.01M804.4 496.2h.01M797.3 439h.01M757.6 491.4h.01M747.6 485.4h.01M738 503.3h.01M772.3 499h.01M731.6 502.9h.01M784.6 469.8h.01M773.5 494.8h.01M779.1 449.4h.01M724.8 483.7h.01M750.8 489.5h.01M801.2 490.1h.01M742.9 483.7h.01M773.4 496h.01M785.2 457h.01M766.8 513.1h.01M787.8 443.4h.01M766.9 492.5h.01M730.4 485.5h.01M824 488.5h.01M754.8 493h.01M773.3 454.2h.01M725 502.6h.01M756.9 478.2h.01M778.6 450.7h.01M726.6 472.4h.01M779.4 525.5h.01M733.6 483.2h.01M772.7 447.9h.01M750.7 483.1h.01M786.3 492h.01M744.3 500.9h.01M752.4 508h.01M737.3 464.6h.01M729.2 478.3h.01M760.2 456.2h.01M780.9 477.2h.01M783.7 513.2h.01M750 489h.01M795 458h.01M782.4 467.5h.01M763.5 519.4h.01M771.5 502h.01M752.6 480.4h.01M801.1 536.9h.01M782.1 480.2h.01M746.2 455.3h.01M783.8 430.7h.01M791.3 507.6h.01M761.1 477.4h.01M744.1 473.4h.01M734.3 475.9h.01M730.1 475.5h.01M801.5 511.3h.01M756.2 488.3h.01M754.3 489.2h.01M768.9 480.6h.01M769.7 474.1h.01M771.7 497.7h.01M792.4 453.8h.01M772 431.9h.01M762.4 451h.01M783.8 465.8h.01M757.7 443.7h.01M729.6 430.9h.01M764.2 512.1h.01M752.5 478.5h.01M754.4 467.2h.01M786.9 516h.01M790.3 478.5h.01M733.3 469.4h.01M733.6 492.2h.01M731.4 503h.01M757.1 507.9h.01M738.3 474.2h.01M803.3 483.4h.01M745.5 448.1h.01M800.1 483.9h.01M736.3 481.4h.01M769.9 489.8h.01M730.6 500.6h.01M798.9 479h.01M798.4 453.3h.01M741.4 502.6h.01M750 530.6h.01M762.6 494.6h.01M784.3 506.7h.01M785.7 481.3h.01M755.6 477h.01M758.5 452.5h.01M764 490.5h.01M772.8 506.9h.01M735 513.8h.01M795.5 454.7h.01M754.9 468.4h.01M745.8 488.6h.01M751.1 483.1h.01M770.5 477.7h.01M753.9 445.5h.01M730.7 478.9h.01M783.5 508.5h.01M729.1 483.5h.01M751.5 483.5h.01M715.4 458.4h.01M741.7 470.6h.01M750.9 486.6h.01M731.5 486.1h.01M784.1 509.9h.01M801.1 473.6h.01M734.3 486.8h.01M762.2 481.2h.01M770.4 443.9h.01M778.5 488.3h.01M723.5 463.7h.01M802.8 454.2h.01M809 489.8h.01M771.8 436h.01M770.8 454.7h.01M781.4 463.8h.01M767.6 515.9h.01M792.4 483.8h.01M762.4 498.3h.01M750.2 486.1h.01M720.6 492.4h.01M745.4 490.3h.01M790.6 480.1h.01M754.9 478.2h.01M764.7 478.6h.01M775.2 505.8h.01M787.4 489.4h.01M790.9 471.1h.01M797.5 485.3h.01M774.4 454.2h.01M768.4 486.3h.01M792.3 485.4h.01M754.2 488h.01M748.5 490.3h.01M755.5 522.5h.01"/>
<path d="M737.6 486.4h.01M757.5 493.1h.01M769.5 504.2h.01M791.7 456.5h.01M719.7 501.7h.01M727.7 493.6h.01M756.4 505.9h.01M742.6 500.7h.01M743.3 453.9h.01M797 481.2h.01M770.7 497.9h.01M778.3 440.4h.01M745.8 503h.01M739.6 504.2h.01M734.2 476.4h.01M771 500.1h.01M745.3 463.9h.01M804.7 484.7h.01M743.4 495.2h.01M782.5 486.3h.01M732.4 476.3h.01M772.5 491.8h.01M741.4 500h.01M740 476.1h.01M781.7 517.3h.01M767.8 525.5h.01M785.2 444.6h.01M722.2 470.4h.01M774.5 527h.01M731.9 470.7h.01M786.7 479.5h.01M779.5 469.4h.01M787.3 460.2h.01M738.9 509.4h.01M761.2 520.1h.01M778.1 507.8h.01M768.5 517.8h.01M752.5 508.2h.01M766.3 488.9h.01M803.4 493.2h.01M740.9 498.5h.01M707 502.8h.01M767.2 434.7h.01M768.8 439.3h.01M769.6 462.9h.01M763.7 517.1h.01M785.3 503h.01M736.5 481h.01M764.2 465.2h.01M790.6 469.8h.01M734.3 492.7h.01M767.8 484.5h.01M774.1 478h.01M779.3 483.3h.01M798.6 487.3h.01M765.3 454.1h.01M737.1 462.9h.01M761.8 465.7h.01M740.8 489.9h.01M780.9 450.3h.01M751.2 510.2h.01M777.7 488.3h.01M770.1 514h.01M801.8 491.9h.01M773.8 511h.01M755.8 471h.01M790.5 493.2h.01M752.1 479.4h.01M745.9 470.2h.01M748.2 454.7h.01M743.6 513.9h.01M751.3 516.3h.01M740.4 454.5h.01M766.8 454.5h.01M779.2 486.8h.01M771.1 447.5h.01M763 480.4h.01M753.3 470.4h.01M809.1 490.2h.01M804.1 486.8h.01M783.7 478h.01M774.6 489.7h.01M802.5 506.8h.01M750.7 490.1h.01M766.3 502.5h.01M752.5 477.8h.01M747.2 499.5h.01M732.1 504.9h.01M757.2 493.8h.01M749.7 514.1h.01M772.2 480.4h.01M710.4 520.1h.01M799.4 464.3h.01M758.2 455.1h.01M751.1 523.1h.01M723.2 483.8h.01M748.2 486.3h.01M748.8 495h.01M764.3 457.9h.01M775.7 483h.01M738.4 493.5h.01M746.1 468.6h.01M773.4 439h.01M793 449.2h.01M767.6 484.9h.01M744.1 491.4h.01M734 494h.01M747.3 481.4h.01M766.4 499.7h.01M730 506h.01M735.7 508.4h.01M746.3 468.4h.01M769.6 458.9h.01M762.3 472h.01M762.9 482h.01M772.9 509.2h.01M779.7 506.1h.01M741.9 460.4h.01M757.5 465.1h.01M800.6 482.4h.01M799.9 498h.01M734.2 455.7h.01M762.5 487.1h.01M747.1 453h.01M782.7 449.3h.01M734.5 514.1h.01M748.4 515h.01M770.5 456.8h.01M781.1 511.5h.01M754.3 525.1h.01M754.7 488.5h.01M748.5 488.4h.01M741.2 474h.01M762.4 497.7h.01M786.5 433.7h.01M754.6 456h.01M757.9 457.1h.01M734.1 470.9h.01M737.1 494.8h.01M765.3 474.6h.01M776.5 487.3h.01M741.2 465.8h.01M795.8 476.2h.01M741.3 476.5h.01M805.4 484.8h.01M773.1 442.7h.01M749.7 497h.01M798.3 501.9h.01M804.6 480.6h.01M769.7 486.5h.01M757.3 514.3h.01M750.1 516.5h.01M743.5 459.2h.01M775.6 437.5h.01M734.7 459.5h.01M789 493.6h.01M800.2 524.1h.01M734.7 491.1h.01M724.7 466.3h.01M779.9 471.8h.01"/>
<path d="M764.6 520.9h.01M745.1 497.8h.01M800.5 446.3h.01M745.6 446.1h.01M749 519.2h.01M777.6 492.3h.01M753.5 486.1h.01M741.1 475.1h.01M803.6 452.2h.01M750 493.4h.01M722.7 448.8h.01M782.9 507h.01M761.8 483.6h.01M794.8 460.1h.01M783.1 518.2h.01M739.3 502.5h.01M780.1 500.2h.01M727.6 472.2h.01M745.7 475.4h.01M812.1 487.9h.01M724.4 508.5h.01M773.2 449.4h.01M752.2 482h.01M768.3 470h.01M752.4 499.5h.01M805.4 494.7h.01M791.1 471.5h.01M767.5 489.2h.01M748.4 444.1h.01M767.9 479.1h.01M764.3 452.4h.01M724.5 485.7h.01M760.8 452.9h.01M792 455h.01M756.6 522.4h.01M763.3 488.9h.01M769.2 485.9h.01M782.7 468h.01M712.4 499.1h.01M747.7 512.4h.01M768.2 444.6h.01M757.8 465.5h.01M793.8 453.6h.01M744.7 480.9h.01M764.5 450.6h.01M726.1 473.4h.01M752.3 493.9h.01M730.9 511.3h.01M747.3 490.3h.01M758.9 457.1h.01M784.3 450.1h.01M740.1 477h.01M773.8 530.9h.01M770 489.4h.01M785.9 461.1h.01M765.3 482.3h.01M771.9 502.8h.01M714.6 453.9h.01M748.1 456h.01M778.6 507.6h.01M759.4 502.4h.01M790.6 499.1h.01M800 497.9h.01M766 465.3h.01M771.1 461.4h.01M766.4 445.1h.01M717.4 522.4h.01M783 482.5h.01M778.9 509.2h.01M729.8 492.1h.01M742.7 505.5h.01M796.4 475.7h.01M801.8 475.2h.01M768.6 490.3h.01M759 458.7h.01M782.9 440.3h.01M743.4 492.7h.01M741.6 494h.01M761.6 483h.01M715.1 496.7h.01M790.5 436.4h.01M786.3 519h.01M745.8 497.2h.01M783.9 493.7h.01M760.3 487.4h.01M729.5 499.6h.01M769 473.6h.01M764 497.2h.01M744.7 502.8h.01M791.9 479.4h.01M760.6 520.4h.01M729.4 468h.01M794.5 498.5h.01M737.6 492.3h.01M749.2 484.8h.01M758.7 491.6h.01M771.2 487.2h.01M730.4 503.7h.01M817.6 494.8h.01M760.9 462.5h.01M758.5 464h.01M775.4 510.3h.01M755.6 496.8h.01M752.7 495.7h.01M759 521.5h.01M782 447.7h.01M748.9 498.3h.01M794 487.8h.01M787.1 443.6h.01M793.6 497.1h.01M741.4 493.4h.01M755.6 525.4h.01M761.7 461.8h.01M775.6 476.7h.01M750.6 427.7h.01M778.1 488h.01M730.1 469.5h.01M762.3 486.3h.01M795.6 482.9h.01M758.4 483.1h.01M736.7 491.8h.01M821 489.2h.01M778.7 478.7h.01M787.8 480.3h.01M776 480.1h.01M748 506.9h.01M778.8 483.1h.01M781.4 496.6h.01M759.8 496.3h.01M774.9 524.2h.01M726.8 507.3h.01M733.2 468.1h.01M777.8 489.1h.01M760.5 481.9h.01M784.4 439.7h.01M736.8 497.7h.01M751.5 485.1h.01M725.8 500h.01M762.1 513.9h.01M746.3 506.9h.01M772.1 462h.01M791.2 501.4h.01M773.5 476.5h.01M766 467.8h.01M771.4 473.7h.01M792.6 481.6h.01M759.6 482.1h.01M775.3 450.4h.01M734.2 449.3h.01M735.2 460.6h.01M773.7 495.2h.01M751.4 491.4h.01M774.5 460.3h.01M740.2 496.4h.01M771.4 478.1h.01M758.3 482.7h.01M750.5 474.4h.01M737.5 459h.01M815.7 471.6h.01M777.5 504.6h.01"/>
<path d="M793.2 460.5h.01M750.9 451.1h.01M752.6 448.6h.01M753.4 519.4h.01M727.1 472.2h.01M738.1 508.6h.01M764.3 481.4h.01M758.7 479.3h.01M777.4 442.8h.01M759.1 491.1h.01M759.6 520.7h.01M791.5 442.9h.01M770.2 450.4h.01M757.2 429h.01M759.7 461.5h.01M792.1 475.2h.01M768.5 453.4h.01M783.7 504.1h.01M755.3 478.3h.01M791.1 452.8h.01M720.4 523h.01M750.7 461.6h.01M755.5 508.2h.01M731.9 491h.01M792.2 471.8h.01M766.9 464.5h.01M775.3 481.7h.01M783.7 439.7h.01M747.9 454.6h.01M741.5 503.8h.01"/>
</g>
<g fill="none" stroke="#9fb9d0" stroke-opacity="0.1" stroke-width="2.50" stroke-linecap="round">
<path d="M883 412.6h.01M866.9 373.6h.01M816.7 390.8h.01M857.5 379.1h.01M901.7 308h.01M964.9 344.5h.01M740.2 305.1h.01M768.6 332.6h.01M784.7 400h.01M801.3 410.8h.01M818.2 351.6h.01M818.1 320.5h.01M912.8 309.2h.01M843.9 314.6h.01M859.1 395.9h.01M765.3 365h.01M880.8 379.5h.01M735.2 419.5h.01M916.5 408.5h.01M712.9 301.6h.01M869.9 302.4h.01M765.6 397.5h.01"/>
</g>
<g fill="#b3bca4">
<circle cx="723.4" cy="104.7" r="3.6"/><circle cx="729.5" cy="102.9" r="3.6"/><circle cx="734.2" cy="106.2" r="3.6"/><circle cx="736.9" cy="107.6" r="3.6"/><circle cx="741.6" cy="114.2" r="3.6"/><circle cx="742.8" cy="115.1" r="3.6"/><circle cx="743.3" cy="120.8" r="3.6"/><circle cx="737.5" cy="122.8" r="3.6"/><circle cx="737.9" cy="128.9" r="3.6"/><circle cx="740.5" cy="131.8" r="3.6"/><circle cx="743.8" cy="133.1" r="3.6"/><circle cx="747.8" cy="132.1" r="3.6"/><circle cx="755" cy="132.7" r="3.6"/><circle cx="758.9" cy="131.5" r="3.6"/><circle cx="766.6" cy="132.5" r="3.6"/><circle cx="770.1" cy="131.7" r="3.6"/><circle cx="773.6" cy="127.8" r="3.6"/><circle cx="773.5" cy="123.4" r="3.6"/><circle cx="779.4" cy="118.1" r="3.6"/><circle cx="779.6" cy="117" r="3.6"/><circle cx="781.8" cy="106.1" r="3.6"/><circle cx="786.9" cy="103.1" r="3.6"/><circle cx="793.5" cy="104.3" r="3.6"/><circle cx="795.8" cy="103.3" r="3.6"/><circle cx="799.1" cy="108.2" r="3.6"/><circle cx="797.4" cy="114.2" r="3.6"/><circle cx="799" cy="112.8" r="3.6"/><circle cx="801.2" cy="109.4" r="3.6"/><circle cx="807.8" cy="107.3" r="3.6"/><circle cx="809.2" cy="101.8" r="3.6"/><circle cx="813.5" cy="99.4" r="3.6"/><circle cx="810.8" cy="99" r="3.6"/><circle cx="806.2" cy="97.6" r="3.6"/><circle cx="801.5" cy="98.4" r="3.6"/><circle cx="795.2" cy="98.4" r="3.6"/><circle cx="790.1" cy="97.3" r="3.6"/><circle cx="784.7" cy="95.1" r="3.6"/><circle cx="778.8" cy="97.1" r="3.6"/><circle cx="775.9" cy="96.1" r="3.6"/><circle cx="769.2" cy="97.7" r="3.6"/><circle cx="764.6" cy="100.1" r="3.6"/><circle cx="762" cy="99.8" r="3.6"/><circle cx="756.3" cy="97.7" r="3.6"/><circle cx="751.3" cy="98.7" r="3.6"/><circle cx="748.3" cy="96.1" r="3.6"/><circle cx="741.4" cy="98.1" r="3.6"/><circle cx="737.7" cy="100.6" r="3.6"/><circle cx="732.2" cy="100.1" r="3.6"/><circle cx="729.8" cy="101.9" r="3.6"/><circle cx="762.3" cy="108" r="3.6"/><circle cx="742.6" cy="112.5" r="3.6"/><circle cx="796.7" cy="99.1" r="3.6"/><circle cx="751.6" cy="125.1" r="3.6"/><circle cx="761.1" cy="100" r="3.6"/><circle cx="742.3" cy="97.5" r="3.6"/><circle cx="764.2" cy="114.2" r="3.6"/><circle cx="741.7" cy="99.1" r="3.6"/><circle cx="783.6" cy="97.3" r="3.6"/><circle cx="751.3" cy="109.1" r="3.6"/><circle cx="736.4" cy="109" r="3.6"/><circle cx="748.9" cy="99.9" r="3.6"/><circle cx="767" cy="120.7" r="3.6"/><circle cx="755.5" cy="111.8" r="3.6"/><circle cx="744" cy="101.4" r="3.6"/><circle cx="753.4" cy="131.7" r="3.6"/><circle cx="761.6" cy="126.2" r="3.6"/><circle cx="757" cy="112" r="3.6"/><circle cx="778.2" cy="116.2" r="3.6"/><circle cx="791.7" cy="101.9" r="3.6"/><circle cx="758.4" cy="129.3" r="3.6"/><circle cx="749" cy="98.8" r="3.6"/><circle cx="793.2" cy="103.4" r="3.6"/><circle cx="758.6" cy="119.1" r="3.6"/><circle cx="740.9" cy="109.8" r="3.6"/><circle cx="741.2" cy="100.8" r="3.6"/><circle cx="748.9" cy="112.7" r="3.6"/><circle cx="767.4" cy="99.3" r="3.6"/><circle cx="802.9" cy="104.7" r="3.6"/><circle cx="769.2" cy="99.1" r="3.6"/><circle cx="752.6" cy="124.7" r="3.6"/><circle cx="754.1" cy="112.2" r="3.6"/><circle cx="758.1" cy="130.4" r="3.6"/><circle cx="750.4" cy="101" r="3.6"/><circle cx="768.8" cy="112.3" r="3.6"/><circle cx="808.9" cy="100.3" r="3.6"/><circle cx="741.7" cy="102.1" r="3.6"/><circle cx="763.6" cy="121" r="3.6"/><circle cx="804.2" cy="103.8" r="3.6"/><circle cx="809.2" cy="102.2" r="3.6"/><circle cx="726.1" cy="103.7" r="3.6"/><circle cx="747.6" cy="99.5" r="3.6"/><circle cx="749.2" cy="106.9" r="3.6"/><circle cx="798.7" cy="112" r="3.6"/><circle cx="797.1" cy="100.2" r="3.6"/><circle cx="805.6" cy="98" r="3.6"/><circle cx="748.9" cy="130.4" r="3.6"/><circle cx="749.4" cy="113.9" r="3.6"/><circle cx="738.9" cy="102.9" r="3.6"/><circle cx="754" cy="109.7" r="3.6"/><circle cx="755.5" cy="115" r="3.6"/><circle cx="774.5" cy="97.1" r="3.6"/><circle cx="752.9" cy="106" r="3.6"/><circle cx="765.2" cy="127.3" r="3.6"/><circle cx="760.5" cy="106.6" r="3.6"/><circle cx="766.5" cy="103" r="3.6"/><circle cx="742" cy="107" r="3.6"/><circle cx="760.1" cy="122" r="3.6"/><circle cx="758.2" cy="127.1" r="3.6"/><circle cx="750.2" cy="105.9" r="3.6"/><circle cx="769.7" cy="125.4" r="3.6"/><circle cx="794.2" cy="100.3" r="3.6"/><circle cx="780.6" cy="105.9" r="3.6"/><circle cx="801.3" cy="108.4" r="3.6"/><circle cx="767.6" cy="98.8" r="3.6"/><circle cx="789" cy="102.9" r="3.6"/><circle cx="782.2" cy="103.6" r="3.6"/><circle cx="802.9" cy="105.8" r="3.6"/><circle cx="775" cy="100.6" r="3.6"/><circle cx="743.7" cy="120.8" r="3.6"/><circle cx="766.7" cy="117.6" r="3.6"/><circle cx="767" cy="107.6" r="3.6"/><circle cx="741.7" cy="128.9" r="3.6"/><circle cx="772.8" cy="112.9" r="3.6"/><circle cx="768.8" cy="118.1" r="3.6"/><circle cx="756.6" cy="117.9" r="3.6"/><circle cx="759.9" cy="100" r="3.6"/><circle cx="739.3" cy="100.7" r="3.6"/><circle cx="766.2" cy="111" r="3.6"/><circle cx="740.8" cy="101.6" r="3.6"/><circle cx="798.6" cy="113.1" r="3.6"/><circle cx="766.6" cy="101.7" r="3.6"/><circle cx="799.7" cy="108.5" r="3.6"/><circle cx="750" cy="130.4" r="3.6"/><circle cx="752.3" cy="117.4" r="3.6"/><circle cx="793.2" cy="99.3" r="3.6"/><circle cx="758.6" cy="124.8" r="3.6"/><circle cx="741.5" cy="110.2" r="3.6"/><circle cx="748" cy="99.4" r="3.6"/><circle cx="726.3" cy="104.1" r="3.6"/><circle cx="767.4" cy="118.1" r="3.6"/><circle cx="768.4" cy="129.4" r="3.6"/><circle cx="785.6" cy="100.2" r="3.6"/><circle cx="755.7" cy="105.9" r="3.6"/><circle cx="786.3" cy="100.8" r="3.6"/><circle cx="772.9" cy="128.4" r="3.6"/><circle cx="767.6" cy="117.2" r="3.6"/><circle cx="792.8" cy="101.8" r="3.6"/><circle cx="801.8" cy="103.7" r="3.6"/><circle cx="747.6" cy="110.1" r="3.6"/><circle cx="748.8" cy="103.8" r="3.6"/><circle cx="742.1" cy="126.1" r="3.6"/><circle cx="744.9" cy="120.2" r="3.6"/><circle cx="801.9" cy="100.2" r="3.6"/><circle cx="771.3" cy="128.4" r="3.6"/><circle cx="806.8" cy="107.2" r="3.6"/><circle cx="747.5" cy="100.2" r="3.6"/><circle cx="755.7" cy="128.7" r="3.6"/><circle cx="755.5" cy="109.3" r="3.6"/><circle cx="746.4" cy="101.7" r="3.6"/><circle cx="794.8" cy="99.6" r="3.6"/><circle cx="750.7" cy="114.5" r="3.6"/><circle cx="763" cy="121.1" r="3.6"/><circle cx="767.5" cy="99.7" r="3.6"/><circle cx="760.5" cy="108" r="3.6"/><circle cx="740.4" cy="130.3" r="3.6"/><circle cx="741.3" cy="126.6" r="3.6"/><circle cx="766.3" cy="128.9" r="3.6"/><circle cx="774.8" cy="98.9" r="3.6"/><circle cx="799.5" cy="100.4" r="3.6"/><circle cx="760.9" cy="108" r="3.6"/><circle cx="724.9" cy="104.7" r="3.6"/><circle cx="758.7" cy="107.4" r="3.6"/><circle cx="765.1" cy="107.9" r="3.6"/><circle cx="788.3" cy="99.8" r="3.6"/><circle cx="753.4" cy="110.8" r="3.6"/><circle cx="752.1" cy="99.4" r="3.6"/><circle cx="748.3" cy="109.5" r="3.6"/><circle cx="753.3" cy="130.7" r="3.6"/><circle cx="758.3" cy="108.3" r="3.6"/><circle cx="777.1" cy="97.8" r="3.6"/><circle cx="761.3" cy="99.5" r="3.6"/><circle cx="767" cy="128.5" r="3.6"/><circle cx="768.5" cy="99" r="3.6"/><circle cx="737.6" cy="107.3" r="3.6"/><circle cx="769.7" cy="121.3" r="3.6"/><circle cx="745" cy="114.1" r="3.6"/><circle cx="740.3" cy="101" r="3.6"/><circle cx="743.3" cy="105.9" r="3.6"/><circle cx="766.7" cy="128.1" r="3.6"/><circle cx="736.2" cy="104.1" r="3.6"/><circle cx="749" cy="115.8" r="3.6"/><circle cx="766.4" cy="107.5" r="3.6"/><circle cx="733.7" cy="101.5" r="3.6"/><circle cx="799.7" cy="99.1" r="3.6"/><circle cx="779.9" cy="97" r="3.6"/><circle cx="745.2" cy="102.3" r="3.6"/><circle cx="795" cy="101.7" r="3.6"/><circle cx="804" cy="103.1" r="3.6"/><circle cx="748.9" cy="113.1" r="3.6"/><circle cx="778.6" cy="98.8" r="3.6"/><circle cx="806.4" cy="99.6" r="3.6"/><circle cx="736" cy="108.6" r="3.6"/><circle cx="770.9" cy="113.7" r="3.6"/><circle cx="765.7" cy="123.8" r="3.6"/><circle cx="803.7" cy="103.1" r="3.6"/><circle cx="747.8" cy="108.5" r="3.6"/><circle cx="758" cy="116.9" r="3.6"/><circle cx="750.2" cy="122.8" r="3.6"/><circle cx="769.1" cy="128.5" r="3.6"/><circle cx="762" cy="124.9" r="3.6"/><circle cx="742.7" cy="109.9" r="3.6"/><circle cx="798.5" cy="104.9" r="3.6"/><circle cx="768.5" cy="108.9" r="3.6"/><circle cx="765.4" cy="115.2" r="3.6"/><circle cx="764.6" cy="100.1" r="3.6"/><circle cx="800.3" cy="112.8" r="3.6"/><circle cx="783.6" cy="102.9" r="3.6"/><circle cx="772.2" cy="124.3" r="3.6"/><circle cx="761.2" cy="121.8" r="3.6"/><circle cx="788.8" cy="101" r="3.6"/><circle cx="755.5" cy="119.4" r="3.6"/><circle cx="763.1" cy="127.1" r="3.6"/><circle cx="756.6" cy="107.3" r="3.6"/><circle cx="765.6" cy="117.8" r="3.6"/><circle cx="798.8" cy="111.3" r="3.6"/><circle cx="744.9" cy="115.8" r="3.6"/><circle cx="768.4" cy="116.4" r="3.6"/><circle cx="767.1" cy="120.3" r="3.6"/><circle cx="750.8" cy="116.1" r="3.6"/><circle cx="755.2" cy="120.3" r="3.6"/><circle cx="754.8" cy="112.6" r="3.6"/><circle cx="733" cy="104.1" r="3.6"/><circle cx="750.6" cy="116.8" r="3.6"/><circle cx="761.6" cy="117.5" r="3.6"/><circle cx="767.7" cy="105.2" r="3.6"/><circle cx="804.5" cy="101.3" r="3.6"/><circle cx="752.2" cy="98.1" r="3.6"/><circle cx="812.3" cy="101" r="3.6"/><circle cx="772.4" cy="111.4" r="3.6"/><circle cx="749.1" cy="129.4" r="3.6"/><circle cx="769.7" cy="129.1" r="3.6"/><circle cx="759.5" cy="118.2" r="3.6"/><circle cx="743.8" cy="97" r="3.6"/><circle cx="764.7" cy="114.2" r="3.6"/><circle cx="746.8" cy="117.6" r="3.6"/><circle cx="748.5" cy="98.1" r="3.6"/><circle cx="753.1" cy="131.7" r="3.6"/><circle cx="746.5" cy="97.2" r="3.6"/><circle cx="755.7" cy="103.9" r="3.6"/><circle cx="808.4" cy="107.5" r="3.6"/><circle cx="761.1" cy="124" r="3.6"/><circle cx="740.8" cy="111" r="3.6"/><circle cx="782.8" cy="102.4" r="3.6"/><circle cx="745.3" cy="115.7" r="3.6"/><circle cx="745" cy="99.5" r="3.6"/><circle cx="765.2" cy="118.7" r="3.6"/><circle cx="766.2" cy="103.3" r="3.6"/><circle cx="753.8" cy="125.4" r="3.6"/><circle cx="745.9" cy="99.2" r="3.6"/><circle cx="741" cy="101.7" r="3.6"/><circle cx="762.7" cy="118.5" r="3.6"/><circle cx="770.1" cy="126.4" r="3.6"/><circle cx="731.2" cy="102.6" r="3.6"/><circle cx="759" cy="121.1" r="3.6"/><circle cx="788.8" cy="99.3" r="3.6"/><circle cx="729.7" cy="103.6" r="3.6"/><circle cx="766.6" cy="113.6" r="3.6"/><circle cx="756.2" cy="110.7" r="3.6"/><circle cx="744.4" cy="120.1" r="3.6"/><circle cx="800.7" cy="111.2" r="3.6"/><circle cx="766.8" cy="100.7" r="3.6"/><circle cx="759.6" cy="114" r="3.6"/><circle cx="799.6" cy="99.3" r="3.6"/><circle cx="790.1" cy="101.5" r="3.6"/><circle cx="760.2" cy="105.2" r="3.6"/><circle cx="755.6" cy="115.7" r="3.6"/><circle cx="779.7" cy="101.2" r="3.6"/><circle cx="761.2" cy="101.4" r="3.6"/><circle cx="753.9" cy="100.6" r="3.6"/><circle cx="747.8" cy="100.5" r="3.6"/><circle cx="772.3" cy="128.4" r="3.6"/><circle cx="783.5" cy="104.3" r="3.6"/><circle cx="748.5" cy="108.4" r="3.6"/><circle cx="749.1" cy="102.9" r="3.6"/><circle cx="739.7" cy="107.2" r="3.6"/><circle cx="753.7" cy="127" r="3.6"/><circle cx="800.2" cy="104.6" r="3.6"/><circle cx="769.8" cy="116.5" r="3.6"/><circle cx="748" cy="120.2" r="3.6"/><circle cx="764.9" cy="102.7" r="3.6"/><circle cx="797.9" cy="111.4" r="3.6"/><circle cx="752.1" cy="128.2" r="3.6"/><circle cx="778.8" cy="101.7" r="3.6"/><circle cx="761.2" cy="113" r="3.6"/><circle cx="787" cy="100.2" r="3.6"/><circle cx="741.5" cy="100.3" r="3.6"/><circle cx="743" cy="97.3" r="3.6"/><circle cx="772.5" cy="129.4" r="3.6"/><circle cx="790" cy="102.7" r="3.6"/><circle cx="754.7" cy="110.3" r="3.6"/><circle cx="770" cy="130.5" r="3.6"/><circle cx="738.7" cy="124.6" r="3.6"/><circle cx="787" cy="99.5" r="3.6"/><circle cx="750.5" cy="113.7" r="3.6"/><circle cx="804.7" cy="107.4" r="3.6"/><circle cx="742.2" cy="102.6" r="3.6"/><circle cx="741.9" cy="101.6" r="3.6"/><circle cx="743.6" cy="130.1" r="3.6"/><circle cx="752.1" cy="104.8" r="3.6"/><circle cx="750.1" cy="120.3" r="3.6"/><circle cx="775.6" cy="97.8" r="3.6"/><circle cx="804.8" cy="99.4" r="3.6"/><circle cx="761.1" cy="123.6" r="3.6"/><circle cx="811.5" cy="100.5" r="3.6"/><circle cx="746.6" cy="119.6" r="3.6"/><circle cx="760.2" cy="107.9" r="3.6"/><circle cx="759.1" cy="97.6" r="3.6"/><circle cx="761.3" cy="108.1" r="3.6"/><circle cx="768.1" cy="123.7" r="3.6"/><circle cx="748" cy="111.4" r="3.6"/><circle cx="746.8" cy="120.7" r="3.6"/><circle cx="763" cy="102" r="3.6"/><circle cx="781.9" cy="104.6" r="3.6"/><circle cx="754.9" cy="130.4" r="3.6"/><circle cx="808.5" cy="101.5" r="3.6"/><circle cx="759" cy="115.4" r="3.6"/><circle cx="798.4" cy="111.2" r="3.6"/><circle cx="743.5" cy="108.2" r="3.6"/><circle cx="794" cy="98.3" r="3.6"/><circle cx="758.9" cy="99.2" r="3.6"/><circle cx="767.1" cy="113.7" r="3.6"/><circle cx="758.4" cy="112.5" r="3.6"/><circle cx="746.7" cy="112.7" r="3.6"/><circle cx="758.3" cy="130.4" r="3.6"/><circle cx="760.8" cy="103.2" r="3.6"/><circle cx="801.8" cy="106.7" r="3.6"/><circle cx="796.7" cy="99.2" r="3.6"/><circle cx="764.3" cy="119.5" r="3.6"/><circle cx="797.5" cy="114.3" r="3.6"/><circle cx="733.5" cy="106.3" r="3.6"/><circle cx="745.3" cy="102.6" r="3.6"/><circle cx="740.7" cy="108.5" r="3.6"/><circle cx="772.6" cy="112.6" r="3.6"/><circle cx="806.1" cy="98.7" r="3.6"/><circle cx="756.8" cy="112.1" r="3.6"/><circle cx="768.8" cy="123.5" r="3.6"/><circle cx="778.1" cy="97" r="3.6"/><circle cx="807.9" cy="106.1" r="3.6"/><circle cx="798.1" cy="102.9" r="3.6"/><circle cx="733.1" cy="105" r="3.6"/><circle cx="759.6" cy="118.4" r="3.6"/><circle cx="759.1" cy="114.9" r="3.6"/><circle cx="789.3" cy="97.2" r="3.6"/><circle cx="750.5" cy="125.9" r="3.6"/><circle cx="753.1" cy="113.4" r="3.6"/><circle cx="804.5" cy="99.4" r="3.6"/><circle cx="746.4" cy="130" r="3.6"/><circle cx="762" cy="123.1" r="3.6"/><circle cx="758.2" cy="118" r="3.6"/><circle cx="805.2" cy="107.9" r="3.6"/><circle cx="767.1" cy="130" r="3.6"/><circle cx="768.5" cy="111.4" r="3.6"/><circle cx="759.8" cy="119.4" r="3.6"/><circle cx="768.7" cy="129.4" r="3.6"/><circle cx="752.5" cy="107" r="3.6"/><circle cx="802.7" cy="106.5" r="3.6"/><circle cx="761.3" cy="108" r="3.6"/><circle cx="759.6" cy="103.2" r="3.6"/><circle cx="771.3" cy="130.3" r="3.6"/><circle cx="749" cy="126.5" r="3.6"/><circle cx="754.4" cy="116.7" r="3.6"/><circle cx="772.3" cy="126.8" r="3.6"/><circle cx="759" cy="116.3" r="3.6"/><circle cx="768.2" cy="105.6" r="3.6"/><circle cx="769.6" cy="107.3" r="3.6"/><circle cx="771.1" cy="109.1" r="3.6"/><circle cx="772.5" cy="110.8" r="3.6"/><circle cx="773.8" cy="112.7" r="3.6"/><circle cx="775.2" cy="114.5" r="3.6"/><circle cx="777.2" cy="115.4" r="3.6"/><circle cx="779.4" cy="115.7" r="3.6"/><circle cx="781.7" cy="116.1" r="3.6"/><circle cx="774.3" cy="100.7" r="3.6"/><circle cx="775.8" cy="102.5" r="3.6"/><circle cx="777.3" cy="104.4" r="3.6"/><circle cx="778.8" cy="106.3" r="3.6"/><circle cx="778.2" cy="117.3" r="3.6"/><circle cx="773.9" cy="121.6" r="3.6"/><circle cx="770.9" cy="120.4" r="3.6"/><circle cx="769.6" cy="117.3" r="3.6"/><circle cx="770.9" cy="114.3" r="3.6"/><circle cx="773.9" cy="113" r="3.6"/><circle cx="774.1" cy="137.9" r="3.6"/><circle cx="724.5" cy="147.4" r="3.6"/><circle cx="828" cy="96.5" r="3.6"/><circle cx="831.2" cy="99.6" r="3.6"/><circle cx="834.4" cy="102.8" r="3.6"/><circle cx="837.2" cy="105.6" r="3.6"/><circle cx="838.2" cy="115" r="3.6"/><circle cx="844.2" cy="102.1" r="3.6"/><circle cx="847.7" cy="104.3" r="3.6"/><circle cx="851" cy="104.5" r="3.6"/><circle cx="854.5" cy="102.3" r="3.6"/><circle cx="863.2" cy="106.1" r="3.6"/><circle cx="783.3" cy="124.1" r="3.6"/><circle cx="787.9" cy="122.5" r="3.6"/><circle cx="792.9" cy="121.6" r="3.6"/><circle cx="797.9" cy="123.6" r="3.6"/><circle cx="802.6" cy="126" r="3.6"/><circle cx="781.9" cy="128.6" r="3.6"/><circle cx="824.9" cy="130" r="3.6"/><circle cx="825.2" cy="144.3" r="3.6"/><circle cx="827.5" cy="135.3" r="3.6"/><circle cx="837.4" cy="122.5" r="3.6"/><circle cx="807.4" cy="128.3" r="3.6"/><circle cx="761.3" cy="137.4" r="3.6"/><circle cx="774.1" cy="137.8" r="3.6"/>
</g>
<g stroke="#000" stroke-width="2.4" fill="#000" stroke-linecap="butt">
<line x1="604.5" y1="333.0" x2="696.4" y2="185.2"/>
<polygon stroke="none" points="701.5,177.0 699.8,188.4 692.0,183.6"/>
<line x1="604.5" y1="333.0" x2="699.6" y2="209.0"/>
<polygon stroke="none" points="705.4,201.4 702.6,212.6 695.3,207.0"/>
<line x1="604.5" y1="333.0" x2="764.8" y2="168.9"/>
<polygon stroke="none" points="771.5,162.0 767.4,172.8 760.8,166.4"/>
</g>
<rect x="777.6" y="119.4" width="86.9" height="36.4" rx="5" fill="#fcf8f1" fill-opacity=".8"/>
<rect x="678.5" y="157.5" width="99.0" height="37.5" rx="5" fill="#fcf8f1" fill-opacity=".8"/>
<rect x="705.0" y="195.3" width="91.5" height="36.7" rx="5" fill="#fcf8f1" fill-opacity=".8"/>
<g stroke="#2b2a28" stroke-width="2" fill="none">
<path d="M158 38.9V599H982.9"/>
<path d="M206 599.5V609"/>
<path d="M306 599.5V609"/>
<path d="M405 599.5V609"/>
<path d="M505 599.5V609"/>
<path d="M604 599.5V609"/>
<path d="M704 599.5V609"/>
<path d="M803 599.5V609"/>
<path d="M903 599.5V609"/>
<path d="M148 110H157.5"/>
<path d="M148 185H157.5"/>
<path d="M148 259H157.5"/>
<path d="M148 333H157.5"/>
<path d="M148 408H157.5"/>
<path d="M148 482H157.5"/>
<path d="M148 556H157.5"/>
</g>
<circle cx="173.5" cy="54.3" r="3.6" fill="#b3bca4"/>
<text id="leg" x="199.44" y="66.00" font-size="32.90" textLength="184.66" lengthAdjust="spacingAndGlyphs">Transitional B</text>
<text id="y15" x="137.17" y="122.00" font-size="32.90" text-anchor="end" textLength="29.75" lengthAdjust="spacingAndGlyphs">15</text>
<text id="y10" x="137.81" y="197.00" font-size="32.90" text-anchor="end" textLength="32.05" lengthAdjust="spacingAndGlyphs">10</text>
<text id="y5" x="137.89" y="271.00" font-size="32.90" text-anchor="end" textLength="18.40" lengthAdjust="spacingAndGlyphs">5</text>
<text id="y0" x="139.16" y="345.00" font-size="32.90" text-anchor="end" textLength="20.64" lengthAdjust="spacingAndGlyphs">0</text>
<text id="ym5" x="138.49" y="420.00" font-size="32.90" text-anchor="end" textLength="38.12" lengthAdjust="spacingAndGlyphs"><tspan dy="2.3">−</tspan><tspan dy="-2.3">5</tspan></text>
<text id="ym10" x="138.14" y="494.00" font-size="32.90" text-anchor="end" textLength="50.34" lengthAdjust="spacingAndGlyphs"><tspan dy="2.3">−</tspan><tspan dy="-2.3">10</tspan></text>
<text id="ym15" x="137.63" y="568.00" font-size="32.90" text-anchor="end" textLength="48.22" lengthAdjust="spacingAndGlyphs"><tspan dy="2.3">−</tspan><tspan dy="-2.3">15</tspan></text>
<text id="xm20" x="205.79" y="642.00" font-size="32.90" text-anchor="middle" textLength="57.51" lengthAdjust="spacingAndGlyphs"><tspan dy="2.3">−</tspan><tspan dy="-2.3">20</tspan></text>
<text id="xm15" x="306.29" y="642.00" font-size="32.90" text-anchor="middle" textLength="49.43" lengthAdjust="spacingAndGlyphs"><tspan dy="2.3">−</tspan><tspan dy="-2.3">15</tspan></text>
<text id="xm10" x="405.65" y="642.00" font-size="32.90" text-anchor="middle" textLength="50.51" lengthAdjust="spacingAndGlyphs"><tspan dy="2.3">−</tspan><tspan dy="-2.3">10</tspan></text>
<text id="xm5" x="504.51" y="642.00" font-size="32.90" text-anchor="middle" textLength="38.63" lengthAdjust="spacingAndGlyphs"><tspan dy="2.3">−</tspan><tspan dy="-2.3">5</tspan></text>
<text id="x0" x="604.69" y="642.00" font-size="32.90" text-anchor="middle" textLength="20.42" lengthAdjust="spacingAndGlyphs">0</text>
<text id="x5" x="704.18" y="642.00" font-size="32.90" text-anchor="middle" textLength="19.24" lengthAdjust="spacingAndGlyphs">5</text>
<text id="x10" x="801.78" y="642.00" font-size="32.90" text-anchor="middle" textLength="32.40" lengthAdjust="spacingAndGlyphs">10</text>
<text id="x15" x="902.28" y="642.00" font-size="32.90" text-anchor="middle" textLength="30.69" lengthAdjust="spacingAndGlyphs">15</text>
<text y="688.00" font-size="30.30" style="stroke-width:1px;stroke-linejoin:round"><tspan id="xl_a" x="512.79" textLength="88.83" lengthAdjust="spacingAndGlyphs">UMAP</tspan> <tspan id="xl_b" x="607.75" textLength="19.79" lengthAdjust="spacingAndGlyphs">0</tspan></text>
<text y="0.00" font-size="30.30" style="stroke-width:1px;stroke-linejoin:round" transform="translate(59.6 372.95) rotate(-90)"><tspan id="yl_a" x="0.00" textLength="88.02" lengthAdjust="spacingAndGlyphs">UMAP</tspan> <tspan id="yl_b" x="92.96" textLength="10.76" lengthAdjust="spacingAndGlyphs">1</tspan></text>
<text id="ighm" x="783.50" y="146.00" font-size="28.50" textLength="75.49" lengthAdjust="spacingAndGlyphs">IGHM</text>
<text id="cd79b" x="682.10" y="185.00" font-size="28.50" textLength="91.36" lengthAdjust="spacingAndGlyphs">CD79B</text>
<text id="tcl1a" x="709.11" y="222.00" font-size="28.50" textLength="81.76" lengthAdjust="spacingAndGlyphs">TCL1A</text>
</svg></body></html>
